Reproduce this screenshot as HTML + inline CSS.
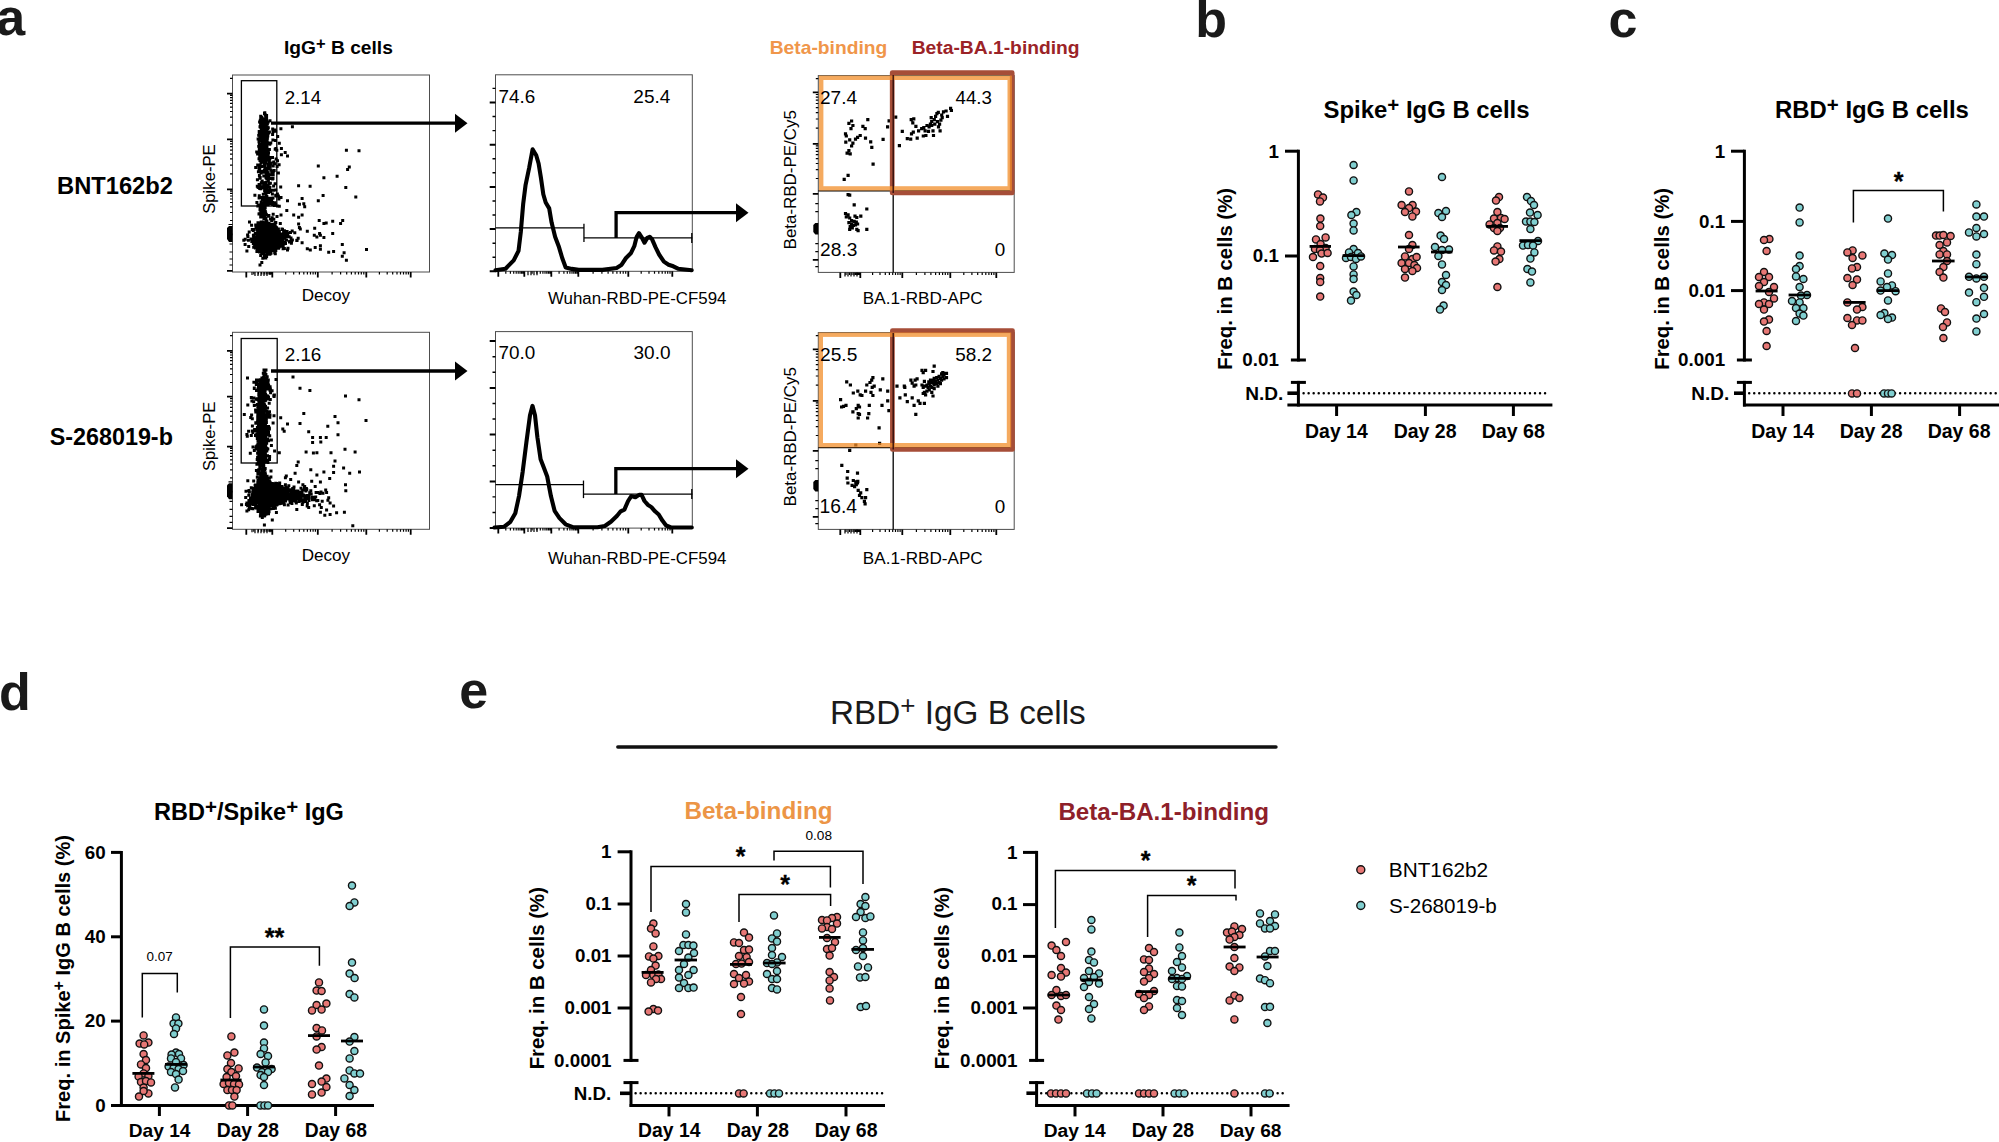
<!DOCTYPE html>
<html lang="en">
<head>
<meta charset="utf-8">
<title>Figure</title>
<style>
html,body{margin:0;padding:0;background:#fff;}
body{width:1999px;height:1142px;overflow:hidden;}
svg{display:block;font-family:"Liberation Sans", sans-serif;}
</style>
</head>
<body>
<svg width="1999" height="1142" viewBox="0 0 1999 1142">
<rect width="1999" height="1142" fill="#fff"/>
<text x="-3.69" y="35.3" font-size="52" font-weight="bold" fill="#1a1a1a">a</text>
<text x="284" y="54" font-size="19.2" font-weight="bold">IgG<tspan font-size="16.5" dy="-5.5">+</tspan><tspan dy="5.5"> B cells</tspan></text>
<text x="57.02" y="194.4" font-size="23.71" font-weight="bold">BNT162b2</text>
<text x="49.7" y="445" font-size="23.34" font-weight="bold">S-268019-b</text>
<text x="769.72" y="53.6" font-size="19.24" font-weight="bold" fill="#F0964A">Beta-binding</text>
<text x="911.72" y="53.6" font-size="19.26" font-weight="bold" fill="#9B2327">Beta-BA.1-binding</text>
<rect x="232.5" y="75" width="197.0" height="197" fill="none" stroke="#4d4d4d" stroke-width="1"/>
<path d="M232.5 234.0h-5.5M232.5 234.6h-5.5M232.5 189.0h-5.5M232.5 189.6h-5.5M232.5 139.0h-5.5M232.5 139.6h-5.5M232.5 93.3h-5.5M232.5 93.9h-5.5M232.5 220.5h-2.5M232.5 212.5h-2.5M232.5 206.9h-2.5M232.5 202.5h-2.5M232.5 199.0h-2.5M232.5 196.0h-2.5M232.5 193.4h-2.5M232.5 191.1h-2.5M232.5 173.9h-2.5M232.5 165.1h-2.5M232.5 158.9h-2.5M232.5 154.1h-2.5M232.5 150.1h-2.5M232.5 146.7h-2.5M232.5 143.8h-2.5M232.5 141.3h-2.5M232.5 125.2h-2.5M232.5 117.2h-2.5M232.5 111.5h-2.5M232.5 107.1h-2.5M232.5 103.4h-2.5M232.5 100.4h-2.5M232.5 97.7h-2.5M232.5 95.4h-2.5" stroke="#000" stroke-width="1.2" fill="none" />
<path d="M232.5 78.3h-2.5M232.5 270.5h-5.5M232.5 271.1h-5.5M232.5 252h-3M232.5 259h-3M232.5 265h-3" stroke="#000" stroke-width="1.2" fill="none" />
<path d="M246.0 272v5.5M246.6 272v5.5M272.0 272v5.5M272.6 272v5.5M317.5 272v5.5M318.1 272v5.5M366.0 272v5.5M366.6 272v5.5M410.4 272v5.5M411.0 272v5.5M253.8 272v2.5M258.4 272v2.5M261.7 272v2.5M264.2 272v2.5M266.2 272v2.5M268.0 272v2.5M269.5 272v2.5M270.8 272v2.5M285.7 272v2.5M293.7 272v2.5M299.4 272v2.5M303.8 272v2.5M307.4 272v2.5M310.5 272v2.5M313.1 272v2.5M315.4 272v2.5M332.1 272v2.5M340.6 272v2.5M346.7 272v2.5M351.4 272v2.5M355.2 272v2.5M358.5 272v2.5M361.3 272v2.5M363.8 272v2.5M379.4 272v2.5M387.2 272v2.5M392.7 272v2.5M397.0 272v2.5M400.5 272v2.5M403.5 272v2.5M406.1 272v2.5M408.4 272v2.5" stroke="#000" stroke-width="1.2" fill="none" />
<path d="M232.5 226h-3.5l-2 2v11l2 3h3.5z" fill="#000"/>
<path d="M228.5 224.5h4M229.5 244h3" stroke="#000" stroke-width="1.2" fill="none" />
<path d="M255 272v4M258 272v4M261 272v4M264 272v4M267 272v4M252 272v3M270 272v3" stroke="#000" stroke-width="1.2" fill="none" />
<path d="M264.0 226.5h3.0v3.0h-3.0zM263.5 227.0h3.0v3.0h-3.0zM269.7 240.2h3.0v3.0h-3.0zM267.8 237.3h3.0v3.0h-3.0zM261.6 244.3h3.0v3.0h-3.0zM270.4 234.2h3.0v3.0h-3.0zM262.9 233.8h3.0v3.0h-3.0zM267.4 237.5h3.0v3.0h-3.0zM267.5 245.2h3.0v3.0h-3.0zM258.9 228.2h3.0v3.0h-3.0zM258.7 229.1h3.0v3.0h-3.0zM274.5 238.1h3.0v3.0h-3.0zM264.1 236.0h3.0v3.0h-3.0zM269.6 248.8h3.0v3.0h-3.0zM274.2 229.8h3.0v3.0h-3.0zM276.8 240.8h3.0v3.0h-3.0zM267.7 244.4h3.0v3.0h-3.0zM264.4 226.2h3.0v3.0h-3.0zM260.4 249.6h3.0v3.0h-3.0zM276.9 240.1h3.0v3.0h-3.0zM260.9 228.2h3.0v3.0h-3.0zM262.8 232.1h3.0v3.0h-3.0zM267.2 237.8h3.0v3.0h-3.0zM257.2 238.6h3.0v3.0h-3.0zM268.6 238.3h3.0v3.0h-3.0zM260.4 234.0h3.0v3.0h-3.0zM267.1 237.8h3.0v3.0h-3.0zM272.3 233.2h3.0v3.0h-3.0zM269.9 242.1h3.0v3.0h-3.0zM264.3 216.9h3.0v3.0h-3.0zM265.7 221.9h3.0v3.0h-3.0zM267.4 250.9h3.0v3.0h-3.0zM259.0 235.1h3.0v3.0h-3.0zM261.4 231.2h3.0v3.0h-3.0zM264.3 256.4h3.0v3.0h-3.0zM271.7 230.4h3.0v3.0h-3.0zM273.3 242.2h3.0v3.0h-3.0zM274.6 246.6h3.0v3.0h-3.0zM260.8 241.1h3.0v3.0h-3.0zM267.9 245.1h3.0v3.0h-3.0zM272.5 232.5h3.0v3.0h-3.0zM259.4 222.1h3.0v3.0h-3.0zM264.2 226.1h3.0v3.0h-3.0zM256.6 247.0h3.0v3.0h-3.0zM263.6 247.7h3.0v3.0h-3.0zM257.3 235.5h3.0v3.0h-3.0zM266.7 245.4h3.0v3.0h-3.0zM255.7 247.0h3.0v3.0h-3.0zM252.2 241.2h3.0v3.0h-3.0zM264.7 220.5h3.0v3.0h-3.0zM266.6 230.3h3.0v3.0h-3.0zM257.9 228.4h3.0v3.0h-3.0zM271.5 243.5h3.0v3.0h-3.0zM276.4 241.9h3.0v3.0h-3.0zM255.9 235.4h3.0v3.0h-3.0zM262.4 233.5h3.0v3.0h-3.0zM258.3 234.4h3.0v3.0h-3.0zM253.9 237.1h3.0v3.0h-3.0zM263.1 236.6h3.0v3.0h-3.0zM265.4 234.0h3.0v3.0h-3.0zM256.7 229.8h3.0v3.0h-3.0zM263.2 233.7h3.0v3.0h-3.0zM264.6 219.6h3.0v3.0h-3.0zM261.3 230.9h3.0v3.0h-3.0zM269.2 240.4h3.0v3.0h-3.0zM266.5 223.0h3.0v3.0h-3.0zM269.9 230.2h3.0v3.0h-3.0zM256.3 242.2h3.0v3.0h-3.0zM269.6 236.6h3.0v3.0h-3.0zM265.6 252.4h3.0v3.0h-3.0zM268.3 226.2h3.0v3.0h-3.0zM270.1 242.2h3.0v3.0h-3.0zM263.4 231.2h3.0v3.0h-3.0zM253.9 238.3h3.0v3.0h-3.0zM268.3 240.1h3.0v3.0h-3.0zM269.0 217.4h3.0v3.0h-3.0zM263.0 245.5h3.0v3.0h-3.0zM269.1 239.1h3.0v3.0h-3.0zM262.6 227.1h3.0v3.0h-3.0zM255.7 240.9h3.0v3.0h-3.0zM266.2 231.1h3.0v3.0h-3.0zM268.2 242.8h3.0v3.0h-3.0zM269.2 232.2h3.0v3.0h-3.0zM258.0 226.5h3.0v3.0h-3.0zM252.3 233.8h3.0v3.0h-3.0zM258.4 235.2h3.0v3.0h-3.0zM257.0 238.2h3.0v3.0h-3.0zM263.6 241.0h3.0v3.0h-3.0zM269.3 240.1h3.0v3.0h-3.0zM260.3 237.4h3.0v3.0h-3.0zM267.7 239.8h3.0v3.0h-3.0zM265.2 239.3h3.0v3.0h-3.0zM251.9 233.8h3.0v3.0h-3.0zM259.4 245.2h3.0v3.0h-3.0zM264.9 241.3h3.0v3.0h-3.0zM270.9 233.1h3.0v3.0h-3.0zM261.5 221.0h3.0v3.0h-3.0zM267.4 233.4h3.0v3.0h-3.0zM259.7 240.8h3.0v3.0h-3.0zM260.5 246.0h3.0v3.0h-3.0zM270.1 239.4h3.0v3.0h-3.0zM261.5 234.9h3.0v3.0h-3.0zM261.9 228.3h3.0v3.0h-3.0zM260.4 227.7h3.0v3.0h-3.0zM277.7 245.5h3.0v3.0h-3.0zM267.6 231.5h3.0v3.0h-3.0zM265.1 222.8h3.0v3.0h-3.0zM271.8 229.4h3.0v3.0h-3.0zM273.6 224.0h3.0v3.0h-3.0zM266.7 238.4h3.0v3.0h-3.0zM267.0 233.1h3.0v3.0h-3.0zM274.1 246.7h3.0v3.0h-3.0zM270.9 236.0h3.0v3.0h-3.0zM266.0 230.5h3.0v3.0h-3.0zM266.1 239.3h3.0v3.0h-3.0zM257.8 230.0h3.0v3.0h-3.0zM258.0 224.2h3.0v3.0h-3.0zM267.5 221.7h3.0v3.0h-3.0zM260.1 241.4h3.0v3.0h-3.0zM260.7 239.7h3.0v3.0h-3.0zM275.7 230.2h3.0v3.0h-3.0zM259.7 237.4h3.0v3.0h-3.0zM265.0 235.0h3.0v3.0h-3.0zM265.5 248.0h3.0v3.0h-3.0zM262.7 235.6h3.0v3.0h-3.0zM264.9 226.9h3.0v3.0h-3.0zM264.7 246.3h3.0v3.0h-3.0zM264.0 232.3h3.0v3.0h-3.0zM273.2 251.2h3.0v3.0h-3.0zM264.5 254.7h3.0v3.0h-3.0zM256.9 237.0h3.0v3.0h-3.0zM261.9 227.9h3.0v3.0h-3.0zM263.1 248.8h3.0v3.0h-3.0zM269.0 240.1h3.0v3.0h-3.0zM265.2 232.0h3.0v3.0h-3.0zM270.8 236.3h3.0v3.0h-3.0zM272.1 227.4h3.0v3.0h-3.0zM259.1 228.6h3.0v3.0h-3.0zM257.7 238.5h3.0v3.0h-3.0zM252.1 235.9h3.0v3.0h-3.0zM266.6 222.1h3.0v3.0h-3.0zM254.0 231.7h3.0v3.0h-3.0zM269.3 225.7h3.0v3.0h-3.0zM269.2 244.0h3.0v3.0h-3.0zM259.2 236.9h3.0v3.0h-3.0zM260.0 232.3h3.0v3.0h-3.0zM259.6 230.1h3.0v3.0h-3.0zM262.4 247.9h3.0v3.0h-3.0zM251.2 238.0h3.0v3.0h-3.0zM267.5 227.6h3.0v3.0h-3.0zM268.4 239.0h3.0v3.0h-3.0zM259.2 253.9h3.0v3.0h-3.0zM246.1 233.4h3.0v3.0h-3.0zM263.0 225.5h3.0v3.0h-3.0zM262.5 233.4h3.0v3.0h-3.0zM270.8 233.9h3.0v3.0h-3.0zM267.7 225.3h3.0v3.0h-3.0zM256.2 233.5h3.0v3.0h-3.0zM270.3 233.8h3.0v3.0h-3.0zM274.9 233.7h3.0v3.0h-3.0zM265.8 236.9h3.0v3.0h-3.0zM252.1 237.6h3.0v3.0h-3.0zM281.6 247.3h3.0v3.0h-3.0zM281.7 243.9h3.0v3.0h-3.0zM275.5 214.9h3.0v3.0h-3.0zM261.3 233.6h3.0v3.0h-3.0zM271.4 227.4h3.0v3.0h-3.0zM264.7 230.1h3.0v3.0h-3.0zM267.4 239.5h3.0v3.0h-3.0zM257.1 242.5h3.0v3.0h-3.0zM252.8 238.1h3.0v3.0h-3.0zM280.1 243.1h3.0v3.0h-3.0zM262.6 236.1h3.0v3.0h-3.0zM271.6 240.3h3.0v3.0h-3.0zM271.0 234.7h3.0v3.0h-3.0zM259.0 226.8h3.0v3.0h-3.0zM266.9 238.6h3.0v3.0h-3.0zM261.3 250.7h3.0v3.0h-3.0zM257.7 238.8h3.0v3.0h-3.0zM264.8 233.4h3.0v3.0h-3.0zM259.5 227.3h3.0v3.0h-3.0zM263.5 230.7h3.0v3.0h-3.0zM265.6 243.5h3.0v3.0h-3.0zM253.6 240.5h3.0v3.0h-3.0zM270.7 238.3h3.0v3.0h-3.0zM267.2 229.2h3.0v3.0h-3.0zM260.5 223.7h3.0v3.0h-3.0zM265.9 229.4h3.0v3.0h-3.0zM268.7 234.1h3.0v3.0h-3.0zM260.1 241.5h3.0v3.0h-3.0zM265.4 230.1h3.0v3.0h-3.0zM267.2 238.9h3.0v3.0h-3.0zM264.5 239.7h3.0v3.0h-3.0zM274.3 228.2h3.0v3.0h-3.0zM247.2 244.9h3.0v3.0h-3.0zM266.7 228.8h3.0v3.0h-3.0zM265.2 231.9h3.0v3.0h-3.0zM262.3 252.0h3.0v3.0h-3.0zM261.8 242.2h3.0v3.0h-3.0zM270.4 239.9h3.0v3.0h-3.0zM260.7 221.5h3.0v3.0h-3.0zM273.1 242.4h3.0v3.0h-3.0zM263.6 236.0h3.0v3.0h-3.0zM260.9 226.3h3.0v3.0h-3.0zM264.6 227.9h3.0v3.0h-3.0zM264.3 232.3h3.0v3.0h-3.0zM264.5 238.0h3.0v3.0h-3.0zM268.2 234.4h3.0v3.0h-3.0zM262.5 246.8h3.0v3.0h-3.0zM251.8 242.1h3.0v3.0h-3.0zM271.5 225.3h3.0v3.0h-3.0zM262.6 226.4h3.0v3.0h-3.0zM254.8 231.7h3.0v3.0h-3.0zM267.0 225.8h3.0v3.0h-3.0zM270.1 224.8h3.0v3.0h-3.0zM256.6 223.3h3.0v3.0h-3.0zM259.7 234.5h3.0v3.0h-3.0zM246.4 235.0h3.0v3.0h-3.0zM257.3 241.1h3.0v3.0h-3.0zM269.3 239.4h3.0v3.0h-3.0zM261.4 228.0h3.0v3.0h-3.0zM255.7 239.8h3.0v3.0h-3.0zM265.8 240.4h3.0v3.0h-3.0zM261.1 249.1h3.0v3.0h-3.0zM265.9 235.4h3.0v3.0h-3.0zM268.6 232.5h3.0v3.0h-3.0zM262.9 230.2h3.0v3.0h-3.0zM259.0 242.7h3.0v3.0h-3.0zM272.2 245.3h3.0v3.0h-3.0zM264.6 242.4h3.0v3.0h-3.0zM258.6 228.8h3.0v3.0h-3.0zM263.2 235.7h3.0v3.0h-3.0zM263.2 228.7h3.0v3.0h-3.0zM257.5 233.9h3.0v3.0h-3.0zM261.5 242.3h3.0v3.0h-3.0zM267.6 252.6h3.0v3.0h-3.0zM261.7 231.9h3.0v3.0h-3.0zM262.4 251.3h3.0v3.0h-3.0zM260.5 237.8h3.0v3.0h-3.0zM256.4 232.8h3.0v3.0h-3.0zM257.3 237.5h3.0v3.0h-3.0zM256.0 238.4h3.0v3.0h-3.0zM274.3 249.1h3.0v3.0h-3.0zM276.4 233.7h3.0v3.0h-3.0zM272.7 235.2h3.0v3.0h-3.0zM262.3 239.0h3.0v3.0h-3.0zM265.7 229.3h3.0v3.0h-3.0zM259.4 242.0h3.0v3.0h-3.0zM263.1 245.2h3.0v3.0h-3.0zM286.5 246.7h3.0v3.0h-3.0zM271.7 238.0h3.0v3.0h-3.0zM269.3 229.2h3.0v3.0h-3.0zM263.1 243.2h3.0v3.0h-3.0zM257.2 235.5h3.0v3.0h-3.0zM261.0 224.4h3.0v3.0h-3.0zM263.9 233.2h3.0v3.0h-3.0zM264.5 239.1h3.0v3.0h-3.0zM254.8 242.0h3.0v3.0h-3.0zM271.1 241.0h3.0v3.0h-3.0zM258.7 243.8h3.0v3.0h-3.0zM256.1 228.1h3.0v3.0h-3.0zM270.7 230.9h3.0v3.0h-3.0zM257.0 237.2h3.0v3.0h-3.0zM266.8 214.7h3.0v3.0h-3.0zM266.7 232.8h3.0v3.0h-3.0zM266.7 242.5h3.0v3.0h-3.0zM250.3 240.0h3.0v3.0h-3.0zM272.8 243.9h3.0v3.0h-3.0zM261.1 229.2h3.0v3.0h-3.0zM271.5 244.4h3.0v3.0h-3.0zM261.8 223.7h3.0v3.0h-3.0zM278.6 242.7h3.0v3.0h-3.0zM272.0 237.5h3.0v3.0h-3.0zM267.5 230.6h3.0v3.0h-3.0zM263.0 232.3h3.0v3.0h-3.0zM272.8 247.9h3.0v3.0h-3.0zM274.1 226.8h3.0v3.0h-3.0zM270.9 222.8h3.0v3.0h-3.0zM257.6 239.4h3.0v3.0h-3.0zM270.4 237.0h3.0v3.0h-3.0zM273.4 240.4h3.0v3.0h-3.0zM277.0 237.4h3.0v3.0h-3.0zM259.3 234.8h3.0v3.0h-3.0zM255.9 247.6h3.0v3.0h-3.0zM267.2 243.7h3.0v3.0h-3.0zM266.1 236.9h3.0v3.0h-3.0zM272.0 242.6h3.0v3.0h-3.0zM260.6 229.8h3.0v3.0h-3.0zM271.5 248.0h3.0v3.0h-3.0zM256.8 233.6h3.0v3.0h-3.0zM258.4 237.9h3.0v3.0h-3.0zM250.1 223.8h3.0v3.0h-3.0zM270.7 238.7h3.0v3.0h-3.0zM259.6 220.4h3.0v3.0h-3.0zM261.6 227.9h3.0v3.0h-3.0zM264.1 235.2h3.0v3.0h-3.0zM255.7 247.0h3.0v3.0h-3.0zM257.2 236.5h3.0v3.0h-3.0zM269.1 240.1h3.0v3.0h-3.0zM271.1 236.2h3.0v3.0h-3.0zM267.3 240.4h3.0v3.0h-3.0zM264.7 236.6h3.0v3.0h-3.0zM260.4 248.0h3.0v3.0h-3.0zM265.8 223.5h3.0v3.0h-3.0zM264.0 226.0h3.0v3.0h-3.0zM267.4 234.3h3.0v3.0h-3.0zM267.8 243.4h3.0v3.0h-3.0zM264.2 235.1h3.0v3.0h-3.0zM257.7 239.6h3.0v3.0h-3.0zM276.7 235.1h3.0v3.0h-3.0zM262.4 217.6h3.0v3.0h-3.0zM272.9 231.0h3.0v3.0h-3.0zM274.8 228.4h3.0v3.0h-3.0zM262.9 231.5h3.0v3.0h-3.0zM262.2 241.8h3.0v3.0h-3.0zM282.6 242.3h3.0v3.0h-3.0zM256.2 244.4h3.0v3.0h-3.0zM261.9 252.3h3.0v3.0h-3.0zM269.9 232.2h3.0v3.0h-3.0zM267.6 237.5h3.0v3.0h-3.0zM270.9 238.1h3.0v3.0h-3.0zM258.4 224.1h3.0v3.0h-3.0zM259.8 244.9h3.0v3.0h-3.0zM259.3 247.1h3.0v3.0h-3.0zM268.3 233.7h3.0v3.0h-3.0zM260.6 235.4h3.0v3.0h-3.0zM261.4 235.9h3.0v3.0h-3.0zM267.3 242.4h3.0v3.0h-3.0zM262.5 239.8h3.0v3.0h-3.0zM268.3 242.9h3.0v3.0h-3.0zM266.5 252.2h3.0v3.0h-3.0zM251.4 238.3h3.0v3.0h-3.0zM265.6 248.7h3.0v3.0h-3.0zM255.3 245.7h3.0v3.0h-3.0zM253.4 245.5h3.0v3.0h-3.0zM259.5 235.4h3.0v3.0h-3.0zM274.1 227.4h3.0v3.0h-3.0zM261.3 231.8h3.0v3.0h-3.0zM263.1 222.4h3.0v3.0h-3.0zM263.6 230.7h3.0v3.0h-3.0zM272.7 246.8h3.0v3.0h-3.0zM255.4 238.8h3.0v3.0h-3.0zM263.3 237.3h3.0v3.0h-3.0zM265.0 228.4h3.0v3.0h-3.0zM268.3 233.4h3.0v3.0h-3.0zM267.1 230.6h3.0v3.0h-3.0zM268.6 235.5h3.0v3.0h-3.0zM268.8 229.6h3.0v3.0h-3.0zM263.2 238.5h3.0v3.0h-3.0zM277.1 246.8h3.0v3.0h-3.0zM266.4 229.9h3.0v3.0h-3.0zM252.3 235.9h3.0v3.0h-3.0zM266.6 237.3h3.0v3.0h-3.0zM267.6 243.4h3.0v3.0h-3.0zM270.4 237.8h3.0v3.0h-3.0zM272.3 233.5h3.0v3.0h-3.0zM265.7 236.0h3.0v3.0h-3.0zM261.2 230.7h3.0v3.0h-3.0zM266.7 243.4h3.0v3.0h-3.0zM268.1 235.1h3.0v3.0h-3.0zM267.8 238.4h3.0v3.0h-3.0zM268.1 239.0h3.0v3.0h-3.0zM257.9 228.3h3.0v3.0h-3.0zM260.5 238.2h3.0v3.0h-3.0zM265.2 233.4h3.0v3.0h-3.0zM270.6 239.2h3.0v3.0h-3.0zM243.7 237.8h3.0v3.0h-3.0zM268.4 244.7h3.0v3.0h-3.0zM267.0 247.5h3.0v3.0h-3.0zM268.1 237.9h3.0v3.0h-3.0zM259.6 247.7h3.0v3.0h-3.0zM268.2 239.9h3.0v3.0h-3.0zM271.7 233.4h3.0v3.0h-3.0zM270.6 232.9h3.0v3.0h-3.0zM269.5 231.6h3.0v3.0h-3.0zM268.9 231.7h3.0v3.0h-3.0zM269.7 245.2h3.0v3.0h-3.0zM261.6 232.2h3.0v3.0h-3.0zM271.8 235.5h3.0v3.0h-3.0zM267.2 239.7h3.0v3.0h-3.0zM262.3 228.4h3.0v3.0h-3.0zM268.6 234.4h3.0v3.0h-3.0zM257.0 236.8h3.0v3.0h-3.0zM266.3 228.8h3.0v3.0h-3.0zM265.9 235.3h3.0v3.0h-3.0zM255.5 233.6h3.0v3.0h-3.0zM270.2 219.0h3.0v3.0h-3.0zM267.9 229.1h3.0v3.0h-3.0zM256.9 241.2h3.0v3.0h-3.0zM267.4 228.9h3.0v3.0h-3.0zM268.9 231.2h3.0v3.0h-3.0zM270.0 242.6h3.0v3.0h-3.0zM264.2 224.6h3.0v3.0h-3.0zM270.9 241.2h3.0v3.0h-3.0zM262.5 225.7h3.0v3.0h-3.0zM272.5 233.6h3.0v3.0h-3.0zM258.8 250.3h3.0v3.0h-3.0zM264.8 233.9h3.0v3.0h-3.0zM269.2 244.7h3.0v3.0h-3.0zM271.4 234.2h3.0v3.0h-3.0zM262.2 231.5h3.0v3.0h-3.0zM272.7 233.9h3.0v3.0h-3.0zM272.0 223.4h3.0v3.0h-3.0zM259.9 243.6h3.0v3.0h-3.0zM267.9 243.5h3.0v3.0h-3.0zM263.7 233.9h3.0v3.0h-3.0zM262.8 234.2h3.0v3.0h-3.0zM252.2 245.7h3.0v3.0h-3.0zM281.4 233.0h3.0v3.0h-3.0zM271.5 226.8h3.0v3.0h-3.0zM258.5 224.2h3.0v3.0h-3.0zM264.4 217.2h3.0v3.0h-3.0zM257.6 245.8h3.0v3.0h-3.0zM255.0 236.3h3.0v3.0h-3.0zM271.9 243.5h3.0v3.0h-3.0zM264.0 239.2h3.0v3.0h-3.0zM253.6 232.6h3.0v3.0h-3.0zM269.4 240.5h3.0v3.0h-3.0zM266.0 250.2h3.0v3.0h-3.0zM264.2 238.4h3.0v3.0h-3.0zM270.6 228.7h3.0v3.0h-3.0zM269.4 229.5h3.0v3.0h-3.0zM256.5 241.3h3.0v3.0h-3.0zM274.2 225.5h3.0v3.0h-3.0zM267.4 227.8h3.0v3.0h-3.0zM249.6 237.6h3.0v3.0h-3.0zM272.7 226.6h3.0v3.0h-3.0zM258.6 230.9h3.0v3.0h-3.0zM262.2 238.9h3.0v3.0h-3.0zM265.6 238.1h3.0v3.0h-3.0zM264.5 227.4h3.0v3.0h-3.0zM268.3 249.8h3.0v3.0h-3.0zM257.5 226.2h3.0v3.0h-3.0zM266.7 226.9h3.0v3.0h-3.0zM268.6 237.8h3.0v3.0h-3.0zM268.4 248.1h3.0v3.0h-3.0zM263.4 235.7h3.0v3.0h-3.0zM271.2 243.4h3.0v3.0h-3.0zM261.5 245.5h3.0v3.0h-3.0zM268.6 252.0h3.0v3.0h-3.0zM242.3 238.8h3.0v3.0h-3.0zM258.2 242.6h3.0v3.0h-3.0zM267.9 228.8h3.0v3.0h-3.0zM258.5 240.0h3.0v3.0h-3.0zM286.2 231.8h3.0v3.0h-3.0zM255.6 242.9h3.0v3.0h-3.0zM265.6 237.2h3.0v3.0h-3.0zM257.2 236.5h3.0v3.0h-3.0zM262.7 241.9h3.0v3.0h-3.0zM263.0 246.2h3.0v3.0h-3.0zM255.2 239.8h3.0v3.0h-3.0zM278.8 222.1h3.0v3.0h-3.0zM260.1 244.2h3.0v3.0h-3.0zM278.9 236.3h3.0v3.0h-3.0zM258.3 233.7h3.0v3.0h-3.0zM264.8 241.4h3.0v3.0h-3.0zM260.0 229.3h3.0v3.0h-3.0zM263.1 241.5h3.0v3.0h-3.0zM258.3 236.1h3.0v3.0h-3.0zM263.0 224.7h3.0v3.0h-3.0zM262.8 239.1h3.0v3.0h-3.0zM274.9 228.2h3.0v3.0h-3.0zM275.8 231.8h3.0v3.0h-3.0zM259.5 236.5h3.0v3.0h-3.0zM272.3 217.7h3.0v3.0h-3.0zM264.9 243.2h3.0v3.0h-3.0zM269.7 242.2h3.0v3.0h-3.0zM273.7 221.2h3.0v3.0h-3.0zM260.2 230.5h3.0v3.0h-3.0zM270.3 232.0h3.0v3.0h-3.0zM257.1 226.1h3.0v3.0h-3.0zM253.1 242.8h3.0v3.0h-3.0zM258.5 232.1h3.0v3.0h-3.0zM257.8 247.2h3.0v3.0h-3.0zM258.5 230.3h3.0v3.0h-3.0zM274.3 220.9h3.0v3.0h-3.0zM261.9 241.3h3.0v3.0h-3.0zM267.2 229.4h3.0v3.0h-3.0zM275.0 235.8h3.0v3.0h-3.0zM262.9 253.9h3.0v3.0h-3.0zM269.5 251.7h3.0v3.0h-3.0zM247.7 230.6h3.0v3.0h-3.0zM255.8 245.1h3.0v3.0h-3.0zM255.8 228.1h3.0v3.0h-3.0zM279.0 234.2h3.0v3.0h-3.0zM258.5 231.6h3.0v3.0h-3.0zM268.8 236.7h3.0v3.0h-3.0zM273.7 225.4h3.0v3.0h-3.0zM270.2 233.9h3.0v3.0h-3.0zM266.0 249.7h3.0v3.0h-3.0zM267.3 224.4h3.0v3.0h-3.0zM260.9 238.9h3.0v3.0h-3.0zM271.3 239.4h3.0v3.0h-3.0zM258.5 235.6h3.0v3.0h-3.0zM265.8 235.1h3.0v3.0h-3.0zM260.5 246.8h3.0v3.0h-3.0zM263.9 247.1h3.0v3.0h-3.0zM259.5 240.2h3.0v3.0h-3.0zM264.2 246.7h3.0v3.0h-3.0zM271.4 233.3h3.0v3.0h-3.0zM264.5 230.2h3.0v3.0h-3.0zM251.7 228.9h3.0v3.0h-3.0zM258.4 234.7h3.0v3.0h-3.0zM277.9 232.8h3.0v3.0h-3.0zM256.1 226.8h3.0v3.0h-3.0zM259.4 235.9h3.0v3.0h-3.0zM261.0 239.7h3.0v3.0h-3.0zM259.3 244.9h3.0v3.0h-3.0zM268.0 248.3h3.0v3.0h-3.0zM264.5 241.2h3.0v3.0h-3.0zM266.9 248.9h3.0v3.0h-3.0zM276.7 227.7h3.0v3.0h-3.0zM266.1 231.3h3.0v3.0h-3.0zM258.1 232.8h3.0v3.0h-3.0zM262.0 238.0h3.0v3.0h-3.0zM263.2 228.9h3.0v3.0h-3.0zM269.4 231.5h3.0v3.0h-3.0zM266.9 224.4h3.0v3.0h-3.0zM252.5 227.9h3.0v3.0h-3.0zM259.9 238.3h3.0v3.0h-3.0zM268.5 231.7h3.0v3.0h-3.0zM270.4 225.9h3.0v3.0h-3.0zM259.3 246.5h3.0v3.0h-3.0zM252.1 241.3h3.0v3.0h-3.0zM275.9 243.0h3.0v3.0h-3.0zM263.7 221.4h3.0v3.0h-3.0zM262.3 226.7h3.0v3.0h-3.0zM259.9 229.8h3.0v3.0h-3.0zM264.1 236.2h3.0v3.0h-3.0zM268.1 238.9h3.0v3.0h-3.0zM269.8 234.1h3.0v3.0h-3.0zM252.6 239.4h3.0v3.0h-3.0zM259.3 239.1h3.0v3.0h-3.0zM261.6 228.2h3.0v3.0h-3.0zM255.4 250.0h3.0v3.0h-3.0zM266.5 236.7h3.0v3.0h-3.0zM270.4 224.4h3.0v3.0h-3.0zM266.1 241.6h3.0v3.0h-3.0zM257.7 226.6h3.0v3.0h-3.0zM262.2 238.0h3.0v3.0h-3.0zM258.7 240.3h3.0v3.0h-3.0zM276.0 244.6h3.0v3.0h-3.0zM254.2 223.6h3.0v3.0h-3.0zM274.4 232.3h3.0v3.0h-3.0zM256.5 242.7h3.0v3.0h-3.0zM262.9 233.9h3.0v3.0h-3.0zM265.9 245.5h3.0v3.0h-3.0zM267.7 231.8h3.0v3.0h-3.0zM257.4 241.4h3.0v3.0h-3.0zM261.6 237.0h3.0v3.0h-3.0zM262.2 237.3h3.0v3.0h-3.0zM260.7 243.8h3.0v3.0h-3.0zM265.6 231.7h3.0v3.0h-3.0zM260.1 230.4h3.0v3.0h-3.0zM265.1 223.0h3.0v3.0h-3.0zM270.2 239.8h3.0v3.0h-3.0zM257.9 241.6h3.0v3.0h-3.0zM273.7 233.3h3.0v3.0h-3.0zM270.7 230.3h3.0v3.0h-3.0zM260.9 234.6h3.0v3.0h-3.0zM265.2 247.1h3.0v3.0h-3.0zM265.5 246.7h3.0v3.0h-3.0zM261.9 231.0h3.0v3.0h-3.0zM254.6 236.0h3.0v3.0h-3.0zM264.8 242.3h3.0v3.0h-3.0zM256.7 234.8h3.0v3.0h-3.0zM267.6 228.2h3.0v3.0h-3.0zM265.1 248.2h3.0v3.0h-3.0zM264.1 238.1h3.0v3.0h-3.0zM266.4 241.5h3.0v3.0h-3.0zM265.4 219.5h3.0v3.0h-3.0zM264.3 241.5h3.0v3.0h-3.0zM261.3 232.9h3.0v3.0h-3.0zM267.1 227.7h3.0v3.0h-3.0zM263.1 224.1h3.0v3.0h-3.0zM262.2 232.6h3.0v3.0h-3.0zM268.4 231.5h3.0v3.0h-3.0zM267.7 230.1h3.0v3.0h-3.0zM266.3 228.3h3.0v3.0h-3.0zM267.4 229.7h3.0v3.0h-3.0zM261.6 243.5h3.0v3.0h-3.0zM267.1 237.0h3.0v3.0h-3.0zM262.9 230.8h3.0v3.0h-3.0zM261.3 229.4h3.0v3.0h-3.0zM250.8 228.0h3.0v3.0h-3.0zM258.9 228.3h3.0v3.0h-3.0zM260.4 236.4h3.0v3.0h-3.0zM260.0 234.6h3.0v3.0h-3.0zM261.2 226.5h3.0v3.0h-3.0zM273.0 240.4h3.0v3.0h-3.0zM265.1 237.6h3.0v3.0h-3.0zM269.3 234.0h3.0v3.0h-3.0zM276.4 245.8h3.0v3.0h-3.0zM255.7 225.6h3.0v3.0h-3.0zM260.2 251.3h3.0v3.0h-3.0zM266.1 251.8h3.0v3.0h-3.0zM261.5 230.4h3.0v3.0h-3.0zM257.4 240.7h3.0v3.0h-3.0zM269.1 234.7h3.0v3.0h-3.0zM274.9 244.9h3.0v3.0h-3.0zM258.7 228.6h3.0v3.0h-3.0zM261.1 224.8h3.0v3.0h-3.0zM262.2 237.4h3.0v3.0h-3.0zM263.3 233.4h3.0v3.0h-3.0zM256.8 230.7h3.0v3.0h-3.0zM252.7 245.8h3.0v3.0h-3.0zM285.1 238.6h3.0v3.0h-3.0zM277.5 232.1h3.0v3.0h-3.0zM261.3 232.6h3.0v3.0h-3.0zM272.8 230.4h3.0v3.0h-3.0zM269.5 233.8h3.0v3.0h-3.0zM257.4 238.3h3.0v3.0h-3.0zM261.0 221.8h3.0v3.0h-3.0zM271.2 235.9h3.0v3.0h-3.0zM262.4 231.0h3.0v3.0h-3.0zM271.7 228.3h3.0v3.0h-3.0zM271.3 237.2h3.0v3.0h-3.0zM267.2 234.1h3.0v3.0h-3.0zM261.3 256.8h3.0v3.0h-3.0zM258.1 250.6h3.0v3.0h-3.0zM263.5 245.6h3.0v3.0h-3.0zM255.7 232.0h3.0v3.0h-3.0zM261.2 239.5h3.0v3.0h-3.0zM270.9 238.4h3.0v3.0h-3.0zM263.2 221.5h3.0v3.0h-3.0zM259.6 236.7h3.0v3.0h-3.0zM272.3 227.3h3.0v3.0h-3.0zM266.4 249.4h3.0v3.0h-3.0zM256.9 240.5h3.0v3.0h-3.0zM263.0 237.5h3.0v3.0h-3.0zM258.0 230.1h3.0v3.0h-3.0zM258.3 235.2h3.0v3.0h-3.0zM266.7 238.0h3.0v3.0h-3.0zM263.8 222.4h3.0v3.0h-3.0zM268.3 248.1h3.0v3.0h-3.0zM260.9 240.1h3.0v3.0h-3.0zM260.8 243.2h3.0v3.0h-3.0zM260.8 224.4h3.0v3.0h-3.0zM266.2 235.6h3.0v3.0h-3.0zM275.5 244.1h3.0v3.0h-3.0zM260.8 223.3h3.0v3.0h-3.0zM263.6 239.2h3.0v3.0h-3.0zM259.5 229.2h3.0v3.0h-3.0zM262.0 240.9h3.0v3.0h-3.0zM268.1 227.2h3.0v3.0h-3.0zM268.4 252.8h3.0v3.0h-3.0zM273.8 252.3h3.0v3.0h-3.0zM260.8 240.4h3.0v3.0h-3.0zM265.6 241.3h3.0v3.0h-3.0zM261.2 221.4h3.0v3.0h-3.0zM263.4 216.9h3.0v3.0h-3.0zM262.4 239.3h3.0v3.0h-3.0zM264.1 238.5h3.0v3.0h-3.0zM261.5 226.5h3.0v3.0h-3.0zM254.9 237.1h3.0v3.0h-3.0zM268.0 241.4h3.0v3.0h-3.0zM271.2 249.1h3.0v3.0h-3.0zM271.9 231.3h3.0v3.0h-3.0zM259.2 215.5h3.0v3.0h-3.0zM258.3 239.1h3.0v3.0h-3.0zM263.7 237.5h3.0v3.0h-3.0zM261.8 236.1h3.0v3.0h-3.0zM276.3 242.5h3.0v3.0h-3.0zM264.6 237.1h3.0v3.0h-3.0zM260.3 227.3h3.0v3.0h-3.0zM267.7 235.6h3.0v3.0h-3.0zM256.6 231.1h3.0v3.0h-3.0zM269.2 226.0h3.0v3.0h-3.0zM265.2 227.7h3.0v3.0h-3.0zM280.5 227.5h3.0v3.0h-3.0zM264.5 230.2h3.0v3.0h-3.0zM267.3 233.1h3.0v3.0h-3.0zM258.2 235.4h3.0v3.0h-3.0zM282.9 247.1h3.0v3.0h-3.0zM257.1 243.4h3.0v3.0h-3.0zM273.3 244.8h3.0v3.0h-3.0zM269.1 245.8h3.0v3.0h-3.0zM260.2 231.3h3.0v3.0h-3.0zM253.6 237.2h3.0v3.0h-3.0zM266.7 237.7h3.0v3.0h-3.0zM258.0 238.2h3.0v3.0h-3.0zM257.7 238.2h3.0v3.0h-3.0zM262.3 227.9h3.0v3.0h-3.0zM259.5 245.2h3.0v3.0h-3.0zM272.3 232.5h3.0v3.0h-3.0zM270.2 233.4h3.0v3.0h-3.0zM270.9 223.8h3.0v3.0h-3.0zM265.0 234.0h3.0v3.0h-3.0zM263.1 224.2h3.0v3.0h-3.0zM261.1 231.6h3.0v3.0h-3.0zM271.6 242.1h3.0v3.0h-3.0zM253.7 239.2h3.0v3.0h-3.0zM259.5 246.9h3.0v3.0h-3.0zM274.5 233.0h3.0v3.0h-3.0zM272.1 241.2h3.0v3.0h-3.0zM261.8 247.6h3.0v3.0h-3.0zM268.8 233.6h3.0v3.0h-3.0zM266.2 226.2h3.0v3.0h-3.0zM263.5 228.9h3.0v3.0h-3.0zM264.5 235.3h3.0v3.0h-3.0zM257.4 230.8h3.0v3.0h-3.0zM259.3 224.9h3.0v3.0h-3.0zM271.4 240.8h3.0v3.0h-3.0zM260.1 243.1h3.0v3.0h-3.0zM259.3 242.0h3.0v3.0h-3.0zM256.5 221.3h3.0v3.0h-3.0zM266.2 233.1h3.0v3.0h-3.0zM262.5 234.2h3.0v3.0h-3.0zM261.3 227.5h3.0v3.0h-3.0zM266.4 236.4h3.0v3.0h-3.0zM272.5 236.8h3.0v3.0h-3.0zM246.9 238.8h3.0v3.0h-3.0zM260.4 233.1h3.0v3.0h-3.0zM270.7 216.3h3.0v3.0h-3.0zM263.1 241.4h3.0v3.0h-3.0zM275.1 226.2h3.0v3.0h-3.0zM277.2 241.5h3.0v3.0h-3.0zM260.7 244.6h3.0v3.0h-3.0zM258.3 249.1h3.0v3.0h-3.0zM266.2 248.8h3.0v3.0h-3.0zM267.5 243.5h3.0v3.0h-3.0zM262.0 238.5h3.0v3.0h-3.0zM260.6 248.7h3.0v3.0h-3.0zM264.2 224.5h3.0v3.0h-3.0zM261.4 226.5h3.0v3.0h-3.0zM263.7 234.7h3.0v3.0h-3.0zM265.1 238.3h3.0v3.0h-3.0zM262.9 232.6h3.0v3.0h-3.0zM255.9 241.9h3.0v3.0h-3.0zM275.2 227.1h3.0v3.0h-3.0zM272.6 241.7h3.0v3.0h-3.0zM269.0 222.8h3.0v3.0h-3.0zM260.5 224.2h3.0v3.0h-3.0zM263.6 229.7h3.0v3.0h-3.0zM264.6 230.6h3.0v3.0h-3.0zM263.8 227.6h3.0v3.0h-3.0zM263.7 228.9h3.0v3.0h-3.0zM265.2 250.4h3.0v3.0h-3.0zM260.5 224.7h3.0v3.0h-3.0zM264.0 248.8h3.0v3.0h-3.0zM259.2 233.1h3.0v3.0h-3.0zM261.1 214.5h3.0v3.0h-3.0zM258.4 234.9h3.0v3.0h-3.0zM263.4 232.1h3.0v3.0h-3.0zM264.2 236.2h3.0v3.0h-3.0zM276.2 234.9h3.0v3.0h-3.0zM258.9 225.7h3.0v3.0h-3.0zM256.4 236.1h3.0v3.0h-3.0zM254.5 226.4h3.0v3.0h-3.0zM256.9 237.7h3.0v3.0h-3.0zM260.6 242.5h3.0v3.0h-3.0zM269.3 227.1h3.0v3.0h-3.0zM260.7 224.3h3.0v3.0h-3.0zM259.9 230.7h3.0v3.0h-3.0zM254.8 238.5h3.0v3.0h-3.0zM253.4 238.8h3.0v3.0h-3.0zM262.9 236.6h3.0v3.0h-3.0zM268.8 224.9h3.0v3.0h-3.0zM272.5 230.1h3.0v3.0h-3.0zM266.2 244.7h3.0v3.0h-3.0zM268.8 242.0h3.0v3.0h-3.0zM264.2 238.9h3.0v3.0h-3.0zM257.7 235.9h3.0v3.0h-3.0zM261.1 235.7h3.0v3.0h-3.0zM258.9 239.9h3.0v3.0h-3.0zM257.5 234.1h3.0v3.0h-3.0zM278.4 238.2h3.0v3.0h-3.0zM253.8 241.6h3.0v3.0h-3.0zM263.0 231.7h3.0v3.0h-3.0zM284.0 242.0h3.0v3.0h-3.0zM264.2 228.4h3.0v3.0h-3.0zM261.5 246.8h3.0v3.0h-3.0zM265.8 246.3h3.0v3.0h-3.0zM267.8 252.7h3.0v3.0h-3.0zM260.6 235.9h3.0v3.0h-3.0zM265.9 250.6h3.0v3.0h-3.0zM270.3 233.2h3.0v3.0h-3.0zM265.1 254.9h3.0v3.0h-3.0zM263.1 237.7h3.0v3.0h-3.0zM267.0 239.2h3.0v3.0h-3.0zM257.7 234.0h3.0v3.0h-3.0zM271.9 233.9h3.0v3.0h-3.0zM264.9 241.1h3.0v3.0h-3.0zM276.7 232.4h3.0v3.0h-3.0zM254.5 246.5h3.0v3.0h-3.0zM253.9 246.6h3.0v3.0h-3.0zM256.1 229.7h3.0v3.0h-3.0zM264.9 229.5h3.0v3.0h-3.0zM263.4 226.7h3.0v3.0h-3.0zM253.0 240.5h3.0v3.0h-3.0zM273.2 237.3h3.0v3.0h-3.0zM261.4 239.2h3.0v3.0h-3.0zM267.8 241.5h3.0v3.0h-3.0zM268.0 225.9h3.0v3.0h-3.0zM260.2 220.7h3.0v3.0h-3.0zM289.0 231.1h3.0v3.0h-3.0zM281.3 238.3h3.0v3.0h-3.0zM285.7 235.1h3.0v3.0h-3.0zM282.8 235.9h3.0v3.0h-3.0zM282.2 231.2h3.0v3.0h-3.0zM279.2 236.2h3.0v3.0h-3.0zM277.3 236.3h3.0v3.0h-3.0zM280.7 240.8h3.0v3.0h-3.0zM278.5 234.3h3.0v3.0h-3.0zM293.3 231.3h3.0v3.0h-3.0zM288.3 240.1h3.0v3.0h-3.0zM284.8 232.3h3.0v3.0h-3.0zM280.1 241.9h3.0v3.0h-3.0zM285.6 231.5h3.0v3.0h-3.0zM277.8 242.3h3.0v3.0h-3.0zM282.9 235.0h3.0v3.0h-3.0zM285.9 232.7h3.0v3.0h-3.0zM281.6 236.8h3.0v3.0h-3.0zM279.1 233.1h3.0v3.0h-3.0zM288.0 240.6h3.0v3.0h-3.0zM286.0 248.6h3.0v3.0h-3.0zM279.4 235.4h3.0v3.0h-3.0zM280.1 233.1h3.0v3.0h-3.0zM281.0 228.1h3.0v3.0h-3.0zM276.2 234.5h3.0v3.0h-3.0zM289.8 238.5h3.0v3.0h-3.0zM279.4 239.3h3.0v3.0h-3.0zM280.7 237.0h3.0v3.0h-3.0zM295.6 238.7h3.0v3.0h-3.0zM278.7 240.3h3.0v3.0h-3.0zM278.4 233.2h3.0v3.0h-3.0zM283.2 230.6h3.0v3.0h-3.0zM278.2 235.7h3.0v3.0h-3.0zM283.2 234.2h3.0v3.0h-3.0zM278.7 232.5h3.0v3.0h-3.0zM277.1 232.9h3.0v3.0h-3.0zM296.7 236.8h3.0v3.0h-3.0zM276.4 240.9h3.0v3.0h-3.0zM286.3 232.2h3.0v3.0h-3.0zM280.7 237.8h3.0v3.0h-3.0zM276.6 241.0h3.0v3.0h-3.0zM282.9 229.2h3.0v3.0h-3.0zM287.7 235.3h3.0v3.0h-3.0zM281.4 232.4h3.0v3.0h-3.0zM277.9 230.0h3.0v3.0h-3.0zM284.6 238.7h3.0v3.0h-3.0zM283.3 241.0h3.0v3.0h-3.0zM277.8 236.8h3.0v3.0h-3.0zM283.6 235.8h3.0v3.0h-3.0zM278.2 239.2h3.0v3.0h-3.0zM290.7 229.5h3.0v3.0h-3.0zM280.0 242.4h3.0v3.0h-3.0zM289.5 236.4h3.0v3.0h-3.0zM281.4 234.7h3.0v3.0h-3.0zM280.7 244.7h3.0v3.0h-3.0zM289.9 241.7h3.0v3.0h-3.0zM281.0 237.1h3.0v3.0h-3.0zM290.9 238.5h3.0v3.0h-3.0zM285.6 230.0h3.0v3.0h-3.0zM276.9 227.4h3.0v3.0h-3.0zM290.0 239.7h3.0v3.0h-3.0zM278.9 239.0h3.0v3.0h-3.0zM277.9 236.7h3.0v3.0h-3.0zM281.6 232.5h3.0v3.0h-3.0zM278.1 237.3h3.0v3.0h-3.0zM282.1 230.1h3.0v3.0h-3.0zM277.9 235.6h3.0v3.0h-3.0zM281.0 239.4h3.0v3.0h-3.0zM277.4 238.9h3.0v3.0h-3.0zM279.5 244.0h3.0v3.0h-3.0zM263.6 124.3h3.0v3.0h-3.0zM264.8 133.1h3.0v3.0h-3.0zM260.2 123.6h3.0v3.0h-3.0zM261.3 133.6h3.0v3.0h-3.0zM265.5 137.2h3.0v3.0h-3.0zM263.1 125.4h3.0v3.0h-3.0zM267.0 131.4h3.0v3.0h-3.0zM262.7 142.0h3.0v3.0h-3.0zM257.2 133.8h3.0v3.0h-3.0zM261.1 122.8h3.0v3.0h-3.0zM261.8 133.4h3.0v3.0h-3.0zM260.0 147.0h3.0v3.0h-3.0zM264.5 155.5h3.0v3.0h-3.0zM262.8 129.6h3.0v3.0h-3.0zM263.2 148.8h3.0v3.0h-3.0zM258.3 156.2h3.0v3.0h-3.0zM259.2 125.1h3.0v3.0h-3.0zM265.5 149.5h3.0v3.0h-3.0zM265.7 122.0h3.0v3.0h-3.0zM261.8 153.7h3.0v3.0h-3.0zM257.9 132.5h3.0v3.0h-3.0zM258.2 155.0h3.0v3.0h-3.0zM269.3 141.5h3.0v3.0h-3.0zM256.1 152.6h3.0v3.0h-3.0zM263.7 144.8h3.0v3.0h-3.0zM262.1 134.3h3.0v3.0h-3.0zM265.2 141.0h3.0v3.0h-3.0zM264.9 119.9h3.0v3.0h-3.0zM262.0 143.7h3.0v3.0h-3.0zM264.5 142.8h3.0v3.0h-3.0zM258.5 125.3h3.0v3.0h-3.0zM264.1 158.8h3.0v3.0h-3.0zM260.2 128.3h3.0v3.0h-3.0zM264.8 125.3h3.0v3.0h-3.0zM263.4 153.0h3.0v3.0h-3.0zM265.1 131.5h3.0v3.0h-3.0zM262.5 117.3h3.0v3.0h-3.0zM262.4 131.1h3.0v3.0h-3.0zM265.4 128.9h3.0v3.0h-3.0zM262.2 120.0h3.0v3.0h-3.0zM262.7 147.4h3.0v3.0h-3.0zM265.3 147.7h3.0v3.0h-3.0zM264.9 153.3h3.0v3.0h-3.0zM261.5 130.6h3.0v3.0h-3.0zM261.0 134.0h3.0v3.0h-3.0zM265.9 136.7h3.0v3.0h-3.0zM264.9 146.1h3.0v3.0h-3.0zM266.3 157.9h3.0v3.0h-3.0zM261.5 125.8h3.0v3.0h-3.0zM261.6 118.8h3.0v3.0h-3.0zM263.9 134.7h3.0v3.0h-3.0zM265.9 141.3h3.0v3.0h-3.0zM263.2 145.6h3.0v3.0h-3.0zM262.2 121.4h3.0v3.0h-3.0zM258.8 118.8h3.0v3.0h-3.0zM263.6 146.0h3.0v3.0h-3.0zM263.8 140.3h3.0v3.0h-3.0zM260.8 122.0h3.0v3.0h-3.0zM264.1 144.3h3.0v3.0h-3.0zM262.6 118.5h3.0v3.0h-3.0zM264.7 124.1h3.0v3.0h-3.0zM263.4 122.7h3.0v3.0h-3.0zM263.4 142.6h3.0v3.0h-3.0zM260.7 122.3h3.0v3.0h-3.0zM261.7 145.5h3.0v3.0h-3.0zM257.5 140.6h3.0v3.0h-3.0zM264.7 141.7h3.0v3.0h-3.0zM259.2 158.3h3.0v3.0h-3.0zM262.8 129.3h3.0v3.0h-3.0zM259.1 137.0h3.0v3.0h-3.0zM260.9 117.7h3.0v3.0h-3.0zM262.7 142.6h3.0v3.0h-3.0zM261.6 138.7h3.0v3.0h-3.0zM262.3 122.8h3.0v3.0h-3.0zM259.3 142.8h3.0v3.0h-3.0zM255.2 150.6h3.0v3.0h-3.0zM259.9 129.5h3.0v3.0h-3.0zM263.2 151.1h3.0v3.0h-3.0zM264.7 133.9h3.0v3.0h-3.0zM261.1 134.0h3.0v3.0h-3.0zM256.6 137.4h3.0v3.0h-3.0zM268.5 119.2h3.0v3.0h-3.0zM265.4 134.1h3.0v3.0h-3.0zM263.9 123.6h3.0v3.0h-3.0zM259.9 123.6h3.0v3.0h-3.0zM264.0 149.4h3.0v3.0h-3.0zM261.8 136.0h3.0v3.0h-3.0zM264.8 154.6h3.0v3.0h-3.0zM266.8 126.2h3.0v3.0h-3.0zM262.7 137.6h3.0v3.0h-3.0zM265.2 122.8h3.0v3.0h-3.0zM266.4 148.8h3.0v3.0h-3.0zM261.8 120.0h3.0v3.0h-3.0zM261.0 136.0h3.0v3.0h-3.0zM267.8 142.7h3.0v3.0h-3.0zM264.0 131.4h3.0v3.0h-3.0zM262.6 123.3h3.0v3.0h-3.0zM261.5 118.8h3.0v3.0h-3.0zM257.2 144.7h3.0v3.0h-3.0zM263.4 150.5h3.0v3.0h-3.0zM265.1 126.0h3.0v3.0h-3.0zM263.3 137.1h3.0v3.0h-3.0zM263.7 129.9h3.0v3.0h-3.0zM261.5 144.3h3.0v3.0h-3.0zM266.7 120.4h3.0v3.0h-3.0zM259.6 143.3h3.0v3.0h-3.0zM261.6 130.7h3.0v3.0h-3.0zM256.8 150.7h3.0v3.0h-3.0zM261.3 119.0h3.0v3.0h-3.0zM262.3 140.2h3.0v3.0h-3.0zM263.7 157.2h3.0v3.0h-3.0zM261.0 140.5h3.0v3.0h-3.0zM264.2 130.6h3.0v3.0h-3.0zM266.1 149.2h3.0v3.0h-3.0zM259.4 131.4h3.0v3.0h-3.0zM264.3 147.9h3.0v3.0h-3.0zM263.1 136.8h3.0v3.0h-3.0zM263.0 124.4h3.0v3.0h-3.0zM258.6 152.0h3.0v3.0h-3.0zM262.5 132.6h3.0v3.0h-3.0zM265.1 132.8h3.0v3.0h-3.0zM268.3 142.7h3.0v3.0h-3.0zM261.6 122.7h3.0v3.0h-3.0zM259.2 143.1h3.0v3.0h-3.0zM258.3 149.6h3.0v3.0h-3.0zM258.8 158.0h3.0v3.0h-3.0zM261.1 134.4h3.0v3.0h-3.0zM260.6 134.5h3.0v3.0h-3.0zM261.1 132.7h3.0v3.0h-3.0zM260.7 132.1h3.0v3.0h-3.0zM263.6 152.9h3.0v3.0h-3.0zM258.6 152.7h3.0v3.0h-3.0zM261.3 133.5h3.0v3.0h-3.0zM261.1 130.5h3.0v3.0h-3.0zM263.7 121.5h3.0v3.0h-3.0zM257.7 130.0h3.0v3.0h-3.0zM263.3 133.2h3.0v3.0h-3.0zM263.3 144.1h3.0v3.0h-3.0zM264.2 154.8h3.0v3.0h-3.0zM263.4 149.2h3.0v3.0h-3.0zM263.8 126.8h3.0v3.0h-3.0zM260.9 137.2h3.0v3.0h-3.0zM261.8 125.8h3.0v3.0h-3.0zM264.6 129.0h3.0v3.0h-3.0zM265.9 147.9h3.0v3.0h-3.0zM263.1 151.0h3.0v3.0h-3.0zM262.8 131.0h3.0v3.0h-3.0zM263.3 120.5h3.0v3.0h-3.0zM262.0 150.6h3.0v3.0h-3.0zM262.1 136.3h3.0v3.0h-3.0zM262.1 142.4h3.0v3.0h-3.0zM262.9 135.0h3.0v3.0h-3.0zM264.4 132.1h3.0v3.0h-3.0zM261.9 156.1h3.0v3.0h-3.0zM261.1 153.8h3.0v3.0h-3.0zM261.8 151.2h3.0v3.0h-3.0zM261.5 121.1h3.0v3.0h-3.0zM262.1 121.2h3.0v3.0h-3.0zM266.3 134.5h3.0v3.0h-3.0zM268.6 141.6h3.0v3.0h-3.0zM266.7 155.0h3.0v3.0h-3.0zM261.3 144.4h3.0v3.0h-3.0zM263.0 137.2h3.0v3.0h-3.0zM259.4 123.9h3.0v3.0h-3.0zM259.9 139.6h3.0v3.0h-3.0zM264.0 147.3h3.0v3.0h-3.0zM258.4 146.2h3.0v3.0h-3.0zM260.4 152.0h3.0v3.0h-3.0zM262.8 121.2h3.0v3.0h-3.0zM262.9 124.0h3.0v3.0h-3.0zM261.3 157.6h3.0v3.0h-3.0zM264.7 136.8h3.0v3.0h-3.0zM261.6 141.0h3.0v3.0h-3.0zM266.1 131.2h3.0v3.0h-3.0zM262.4 152.8h3.0v3.0h-3.0zM262.3 140.3h3.0v3.0h-3.0zM262.9 121.2h3.0v3.0h-3.0zM261.8 128.5h3.0v3.0h-3.0zM259.2 149.6h3.0v3.0h-3.0zM260.6 134.6h3.0v3.0h-3.0zM263.1 139.2h3.0v3.0h-3.0zM264.7 128.1h3.0v3.0h-3.0zM263.4 145.7h3.0v3.0h-3.0zM263.1 125.6h3.0v3.0h-3.0zM262.2 139.7h3.0v3.0h-3.0zM262.3 158.8h3.0v3.0h-3.0zM261.3 152.4h3.0v3.0h-3.0zM263.4 152.0h3.0v3.0h-3.0zM264.4 158.3h3.0v3.0h-3.0zM266.3 151.7h3.0v3.0h-3.0zM262.7 156.7h3.0v3.0h-3.0zM263.4 124.2h3.0v3.0h-3.0zM266.1 127.0h3.0v3.0h-3.0zM259.4 137.2h3.0v3.0h-3.0zM261.5 122.6h3.0v3.0h-3.0zM263.8 144.5h3.0v3.0h-3.0zM262.8 147.5h3.0v3.0h-3.0zM259.9 136.5h3.0v3.0h-3.0zM260.6 136.9h3.0v3.0h-3.0zM264.4 146.1h3.0v3.0h-3.0zM260.9 147.2h3.0v3.0h-3.0zM264.7 123.4h3.0v3.0h-3.0zM261.0 119.2h3.0v3.0h-3.0zM263.6 118.6h3.0v3.0h-3.0zM258.1 120.6h3.0v3.0h-3.0zM265.2 152.5h3.0v3.0h-3.0zM261.6 118.6h3.0v3.0h-3.0zM264.3 130.4h3.0v3.0h-3.0zM259.1 123.0h3.0v3.0h-3.0zM260.1 133.3h3.0v3.0h-3.0zM262.7 124.7h3.0v3.0h-3.0zM262.7 149.5h3.0v3.0h-3.0zM261.8 127.0h3.0v3.0h-3.0zM258.9 120.8h3.0v3.0h-3.0zM261.0 125.2h3.0v3.0h-3.0zM266.4 148.3h3.0v3.0h-3.0zM260.4 130.0h3.0v3.0h-3.0zM263.0 137.1h3.0v3.0h-3.0zM262.0 150.6h3.0v3.0h-3.0zM267.3 156.0h3.0v3.0h-3.0zM267.9 142.5h3.0v3.0h-3.0zM261.1 124.5h3.0v3.0h-3.0zM263.9 159.0h3.0v3.0h-3.0zM265.9 122.4h3.0v3.0h-3.0zM258.5 130.0h3.0v3.0h-3.0zM264.1 145.9h3.0v3.0h-3.0zM265.7 125.9h3.0v3.0h-3.0zM259.6 138.7h3.0v3.0h-3.0zM262.0 119.4h3.0v3.0h-3.0zM264.2 134.9h3.0v3.0h-3.0zM258.2 156.9h3.0v3.0h-3.0zM260.3 120.3h3.0v3.0h-3.0zM262.2 127.6h3.0v3.0h-3.0zM260.5 126.8h3.0v3.0h-3.0zM264.3 119.9h3.0v3.0h-3.0zM263.2 140.2h3.0v3.0h-3.0zM260.7 134.1h3.0v3.0h-3.0zM261.7 118.0h3.0v3.0h-3.0zM260.9 145.6h3.0v3.0h-3.0zM264.6 133.2h3.0v3.0h-3.0zM264.1 128.6h3.0v3.0h-3.0zM263.0 129.8h3.0v3.0h-3.0zM264.7 122.1h3.0v3.0h-3.0zM262.8 118.1h3.0v3.0h-3.0zM260.5 154.2h3.0v3.0h-3.0zM264.4 139.4h3.0v3.0h-3.0zM265.1 118.3h3.0v3.0h-3.0zM264.9 140.7h3.0v3.0h-3.0zM260.2 138.0h3.0v3.0h-3.0zM265.6 138.4h3.0v3.0h-3.0zM265.2 150.6h3.0v3.0h-3.0zM257.8 147.8h3.0v3.0h-3.0zM259.4 145.6h3.0v3.0h-3.0zM263.1 141.6h3.0v3.0h-3.0zM264.3 139.4h3.0v3.0h-3.0zM258.8 119.5h3.0v3.0h-3.0zM259.8 148.9h3.0v3.0h-3.0zM260.0 155.5h3.0v3.0h-3.0zM260.5 119.4h3.0v3.0h-3.0zM262.8 157.1h3.0v3.0h-3.0zM261.3 124.2h3.0v3.0h-3.0zM261.8 149.0h3.0v3.0h-3.0zM262.2 137.8h3.0v3.0h-3.0zM260.1 154.4h3.0v3.0h-3.0zM262.9 117.6h3.0v3.0h-3.0zM266.7 154.2h3.0v3.0h-3.0zM262.2 150.0h3.0v3.0h-3.0zM263.4 147.1h3.0v3.0h-3.0zM267.9 148.0h3.0v3.0h-3.0zM264.4 139.5h3.0v3.0h-3.0zM260.6 118.7h3.0v3.0h-3.0zM262.6 121.7h3.0v3.0h-3.0zM263.6 154.5h3.0v3.0h-3.0zM261.9 136.0h3.0v3.0h-3.0zM261.9 128.8h3.0v3.0h-3.0zM261.4 131.3h3.0v3.0h-3.0zM260.0 134.5h3.0v3.0h-3.0zM262.8 142.3h3.0v3.0h-3.0zM267.8 156.8h3.0v3.0h-3.0zM260.0 152.1h3.0v3.0h-3.0zM262.5 126.9h3.0v3.0h-3.0zM265.1 144.3h3.0v3.0h-3.0zM258.0 142.8h3.0v3.0h-3.0zM267.9 130.4h3.0v3.0h-3.0zM263.5 118.1h3.0v3.0h-3.0zM263.3 148.0h3.0v3.0h-3.0zM264.2 152.6h3.0v3.0h-3.0zM262.8 127.5h3.0v3.0h-3.0zM264.0 150.3h3.0v3.0h-3.0zM261.4 121.6h3.0v3.0h-3.0zM266.7 157.9h3.0v3.0h-3.0zM261.7 137.1h3.0v3.0h-3.0zM262.7 148.7h3.0v3.0h-3.0zM259.8 128.7h3.0v3.0h-3.0zM261.3 139.4h3.0v3.0h-3.0zM260.5 144.2h3.0v3.0h-3.0zM263.8 123.5h3.0v3.0h-3.0zM262.1 126.8h3.0v3.0h-3.0zM268.3 157.6h3.0v3.0h-3.0zM260.5 152.6h3.0v3.0h-3.0zM263.9 152.9h3.0v3.0h-3.0zM260.1 120.4h3.0v3.0h-3.0zM264.9 148.0h3.0v3.0h-3.0zM259.2 119.1h3.0v3.0h-3.0zM262.1 119.9h3.0v3.0h-3.0zM259.3 154.8h3.0v3.0h-3.0zM258.5 158.9h3.0v3.0h-3.0zM263.6 145.2h3.0v3.0h-3.0zM260.0 146.4h3.0v3.0h-3.0zM264.5 120.1h3.0v3.0h-3.0zM261.6 155.1h3.0v3.0h-3.0zM258.3 136.7h3.0v3.0h-3.0zM259.4 125.9h3.0v3.0h-3.0zM263.5 140.3h3.0v3.0h-3.0zM264.4 121.8h3.0v3.0h-3.0zM262.4 127.6h3.0v3.0h-3.0zM262.8 126.8h3.0v3.0h-3.0zM264.9 146.5h3.0v3.0h-3.0zM262.1 155.7h3.0v3.0h-3.0zM261.9 153.7h3.0v3.0h-3.0zM262.0 142.9h3.0v3.0h-3.0zM259.3 132.2h3.0v3.0h-3.0zM265.3 131.5h3.0v3.0h-3.0zM263.6 119.6h3.0v3.0h-3.0zM265.5 145.9h3.0v3.0h-3.0zM260.5 142.8h3.0v3.0h-3.0zM267.0 151.2h3.0v3.0h-3.0zM261.1 158.9h3.0v3.0h-3.0zM265.6 136.6h3.0v3.0h-3.0zM262.7 144.1h3.0v3.0h-3.0zM262.2 118.0h3.0v3.0h-3.0zM263.3 111.2h3.0v3.0h-3.0zM259.3 117.7h3.0v3.0h-3.0zM260.2 115.8h3.0v3.0h-3.0zM264.7 117.9h3.0v3.0h-3.0zM259.2 114.8h3.0v3.0h-3.0zM263.5 118.2h3.0v3.0h-3.0zM263.9 113.7h3.0v3.0h-3.0zM265.1 113.9h3.0v3.0h-3.0zM263.7 113.3h3.0v3.0h-3.0zM265.1 116.6h3.0v3.0h-3.0zM264.5 114.3h3.0v3.0h-3.0zM263.0 112.1h3.0v3.0h-3.0zM262.5 117.5h3.0v3.0h-3.0zM266.9 172.5h3.0v3.0h-3.0zM263.7 181.8h3.0v3.0h-3.0zM267.7 166.9h3.0v3.0h-3.0zM264.4 199.7h3.0v3.0h-3.0zM259.0 170.1h3.0v3.0h-3.0zM264.5 168.9h3.0v3.0h-3.0zM267.7 182.0h3.0v3.0h-3.0zM265.7 169.8h3.0v3.0h-3.0zM264.9 195.8h3.0v3.0h-3.0zM257.7 185.0h3.0v3.0h-3.0zM264.1 198.3h3.0v3.0h-3.0zM262.7 162.2h3.0v3.0h-3.0zM270.9 192.5h3.0v3.0h-3.0zM253.4 193.8h3.0v3.0h-3.0zM258.8 163.6h3.0v3.0h-3.0zM261.7 185.5h3.0v3.0h-3.0zM269.1 162.4h3.0v3.0h-3.0zM263.1 169.0h3.0v3.0h-3.0zM262.9 203.9h3.0v3.0h-3.0zM265.2 188.6h3.0v3.0h-3.0zM264.8 168.5h3.0v3.0h-3.0zM267.6 185.6h3.0v3.0h-3.0zM259.5 171.5h3.0v3.0h-3.0zM256.3 204.4h3.0v3.0h-3.0zM267.0 199.4h3.0v3.0h-3.0zM262.6 196.2h3.0v3.0h-3.0zM262.7 160.2h3.0v3.0h-3.0zM263.3 160.7h3.0v3.0h-3.0zM268.8 202.3h3.0v3.0h-3.0zM268.9 181.7h3.0v3.0h-3.0zM264.5 155.9h3.0v3.0h-3.0zM262.7 199.3h3.0v3.0h-3.0zM259.6 196.0h3.0v3.0h-3.0zM264.2 157.2h3.0v3.0h-3.0zM269.1 190.1h3.0v3.0h-3.0zM265.4 201.2h3.0v3.0h-3.0zM269.1 189.1h3.0v3.0h-3.0zM268.6 190.2h3.0v3.0h-3.0zM264.9 172.0h3.0v3.0h-3.0zM258.7 176.1h3.0v3.0h-3.0zM263.6 181.6h3.0v3.0h-3.0zM267.5 199.4h3.0v3.0h-3.0zM264.7 173.0h3.0v3.0h-3.0zM260.1 165.1h3.0v3.0h-3.0zM271.0 155.9h3.0v3.0h-3.0zM262.5 204.0h3.0v3.0h-3.0zM266.4 184.7h3.0v3.0h-3.0zM265.1 158.2h3.0v3.0h-3.0zM256.6 185.8h3.0v3.0h-3.0zM256.9 170.3h3.0v3.0h-3.0zM264.6 167.3h3.0v3.0h-3.0zM266.5 157.2h3.0v3.0h-3.0zM260.6 180.0h3.0v3.0h-3.0zM266.1 202.5h3.0v3.0h-3.0zM266.5 171.2h3.0v3.0h-3.0zM259.5 160.9h3.0v3.0h-3.0zM257.5 157.3h3.0v3.0h-3.0zM258.7 158.3h3.0v3.0h-3.0zM264.8 190.2h3.0v3.0h-3.0zM270.5 196.7h3.0v3.0h-3.0zM264.2 191.5h3.0v3.0h-3.0zM266.6 203.2h3.0v3.0h-3.0zM268.8 200.7h3.0v3.0h-3.0zM261.7 158.3h3.0v3.0h-3.0zM265.5 173.9h3.0v3.0h-3.0zM263.3 170.3h3.0v3.0h-3.0zM267.0 157.9h3.0v3.0h-3.0zM261.4 159.8h3.0v3.0h-3.0zM265.4 173.3h3.0v3.0h-3.0zM268.4 186.0h3.0v3.0h-3.0zM268.4 188.1h3.0v3.0h-3.0zM267.1 158.6h3.0v3.0h-3.0zM265.3 177.5h3.0v3.0h-3.0zM261.1 196.1h3.0v3.0h-3.0zM258.3 167.8h3.0v3.0h-3.0zM268.8 156.0h3.0v3.0h-3.0zM257.6 183.0h3.0v3.0h-3.0zM262.6 202.3h3.0v3.0h-3.0zM264.6 189.9h3.0v3.0h-3.0zM266.9 179.4h3.0v3.0h-3.0zM262.4 169.6h3.0v3.0h-3.0zM263.5 189.8h3.0v3.0h-3.0zM266.2 176.2h3.0v3.0h-3.0zM264.8 201.7h3.0v3.0h-3.0zM267.2 197.5h3.0v3.0h-3.0zM261.3 204.1h3.0v3.0h-3.0zM262.6 164.2h3.0v3.0h-3.0zM254.2 166.0h3.0v3.0h-3.0zM265.4 156.0h3.0v3.0h-3.0zM265.4 195.2h3.0v3.0h-3.0zM262.1 185.5h3.0v3.0h-3.0zM264.4 187.3h3.0v3.0h-3.0zM267.9 162.5h3.0v3.0h-3.0zM268.3 187.4h3.0v3.0h-3.0zM265.2 195.1h3.0v3.0h-3.0zM262.1 170.7h3.0v3.0h-3.0zM263.1 162.9h3.0v3.0h-3.0zM264.2 198.4h3.0v3.0h-3.0zM265.9 189.2h3.0v3.0h-3.0zM259.6 200.5h3.0v3.0h-3.0zM267.8 196.8h3.0v3.0h-3.0zM257.4 166.4h3.0v3.0h-3.0zM270.8 172.7h3.0v3.0h-3.0zM266.6 179.0h3.0v3.0h-3.0zM263.0 204.2h3.0v3.0h-3.0zM268.5 198.3h3.0v3.0h-3.0zM264.5 203.3h3.0v3.0h-3.0zM255.4 201.1h3.0v3.0h-3.0zM263.0 169.1h3.0v3.0h-3.0zM263.1 189.0h3.0v3.0h-3.0zM261.8 202.5h3.0v3.0h-3.0zM264.0 183.7h3.0v3.0h-3.0zM262.5 159.0h3.0v3.0h-3.0zM264.5 176.3h3.0v3.0h-3.0zM263.6 195.9h3.0v3.0h-3.0zM255.9 178.2h3.0v3.0h-3.0zM271.1 177.4h3.0v3.0h-3.0zM266.6 183.8h3.0v3.0h-3.0zM267.0 175.8h3.0v3.0h-3.0zM267.8 158.9h3.0v3.0h-3.0zM268.0 161.7h3.0v3.0h-3.0zM266.2 162.5h3.0v3.0h-3.0zM257.6 196.4h3.0v3.0h-3.0zM258.8 183.0h3.0v3.0h-3.0zM262.8 163.6h3.0v3.0h-3.0zM272.1 184.5h3.0v3.0h-3.0zM263.2 187.5h3.0v3.0h-3.0zM263.2 165.6h3.0v3.0h-3.0zM269.8 177.0h3.0v3.0h-3.0zM255.8 184.8h3.0v3.0h-3.0zM269.3 168.5h3.0v3.0h-3.0zM265.7 175.9h3.0v3.0h-3.0zM264.9 201.5h3.0v3.0h-3.0zM266.9 156.6h3.0v3.0h-3.0zM267.1 157.2h3.0v3.0h-3.0zM256.2 163.4h3.0v3.0h-3.0zM261.3 156.6h3.0v3.0h-3.0zM262.7 185.9h3.0v3.0h-3.0zM264.1 200.5h3.0v3.0h-3.0zM260.7 185.6h3.0v3.0h-3.0zM264.3 170.0h3.0v3.0h-3.0zM260.9 198.4h3.0v3.0h-3.0zM267.1 189.1h3.0v3.0h-3.0zM261.7 202.6h3.0v3.0h-3.0zM263.9 184.4h3.0v3.0h-3.0zM270.2 171.0h3.0v3.0h-3.0zM269.7 161.4h3.0v3.0h-3.0zM265.6 167.7h3.0v3.0h-3.0zM264.5 160.7h3.0v3.0h-3.0zM261.8 192.8h3.0v3.0h-3.0zM257.8 169.2h3.0v3.0h-3.0zM271.5 196.4h3.0v3.0h-3.0zM269.8 196.7h3.0v3.0h-3.0zM263.4 201.7h3.0v3.0h-3.0zM260.9 186.3h3.0v3.0h-3.0zM262.3 174.4h3.0v3.0h-3.0zM264.2 183.8h3.0v3.0h-3.0zM270.2 198.2h3.0v3.0h-3.0zM264.3 191.1h3.0v3.0h-3.0zM265.1 173.8h3.0v3.0h-3.0zM267.1 177.1h3.0v3.0h-3.0zM259.8 181.2h3.0v3.0h-3.0zM258.1 185.5h3.0v3.0h-3.0zM262.1 183.2h3.0v3.0h-3.0zM264.3 182.9h3.0v3.0h-3.0zM266.3 177.4h3.0v3.0h-3.0zM267.4 199.3h3.0v3.0h-3.0zM263.0 184.0h3.0v3.0h-3.0zM261.6 181.2h3.0v3.0h-3.0zM264.9 194.5h3.0v3.0h-3.0zM264.6 160.0h3.0v3.0h-3.0zM267.5 165.8h3.0v3.0h-3.0zM268.6 165.3h3.0v3.0h-3.0zM266.6 164.2h3.0v3.0h-3.0zM259.4 187.3h3.0v3.0h-3.0zM260.7 179.4h3.0v3.0h-3.0zM262.8 185.8h3.0v3.0h-3.0zM268.6 189.6h3.0v3.0h-3.0zM263.5 166.4h3.0v3.0h-3.0zM258.6 203.6h3.0v3.0h-3.0zM257.3 186.0h3.0v3.0h-3.0zM262.0 170.0h3.0v3.0h-3.0zM257.9 174.1h3.0v3.0h-3.0zM267.0 191.1h3.0v3.0h-3.0zM275.6 164.9h3.0v3.0h-3.0zM260.7 180.1h3.0v3.0h-3.0zM261.1 204.6h3.0v3.0h-3.0zM261.3 160.1h3.0v3.0h-3.0zM258.5 156.7h3.0v3.0h-3.0zM260.5 186.0h3.0v3.0h-3.0zM257.8 194.2h3.0v3.0h-3.0zM266.8 185.4h3.0v3.0h-3.0zM258.2 186.9h3.0v3.0h-3.0zM262.3 183.3h3.0v3.0h-3.0zM261.2 160.3h3.0v3.0h-3.0zM258.3 176.8h3.0v3.0h-3.0zM261.6 203.4h3.0v3.0h-3.0zM264.4 180.9h3.0v3.0h-3.0zM268.6 173.4h3.0v3.0h-3.0zM271.7 164.5h3.0v3.0h-3.0zM273.6 182.2h3.0v3.0h-3.0zM276.0 204.6h3.0v3.0h-3.0zM271.1 133.0h3.0v3.0h-3.0zM271.2 203.1h3.0v3.0h-3.0zM277.4 197.6h3.0v3.0h-3.0zM273.0 162.3h3.0v3.0h-3.0zM274.0 138.9h3.0v3.0h-3.0zM274.9 194.6h3.0v3.0h-3.0zM276.2 135.0h3.0v3.0h-3.0zM272.1 169.6h3.0v3.0h-3.0zM274.3 188.5h3.0v3.0h-3.0zM273.3 201.3h3.0v3.0h-3.0zM271.6 173.2h3.0v3.0h-3.0zM276.9 194.4h3.0v3.0h-3.0zM274.2 129.7h3.0v3.0h-3.0zM275.3 148.7h3.0v3.0h-3.0zM271.4 138.6h3.0v3.0h-3.0zM276.0 159.3h3.0v3.0h-3.0zM271.7 173.4h3.0v3.0h-3.0zM277.6 163.3h3.0v3.0h-3.0zM272.0 188.7h3.0v3.0h-3.0zM274.2 203.0h3.0v3.0h-3.0zM272.7 169.1h3.0v3.0h-3.0zM274.0 182.2h3.0v3.0h-3.0zM272.3 160.5h3.0v3.0h-3.0zM274.2 193.8h3.0v3.0h-3.0zM274.4 146.9h3.0v3.0h-3.0zM274.6 157.6h3.0v3.0h-3.0zM276.9 171.6h3.0v3.0h-3.0zM271.7 170.2h3.0v3.0h-3.0zM270.9 200.9h3.0v3.0h-3.0zM272.9 203.9h3.0v3.0h-3.0zM279.4 127.3h3.0v3.0h-3.0zM273.7 147.8h3.0v3.0h-3.0zM273.4 128.4h3.0v3.0h-3.0zM275.9 192.5h3.0v3.0h-3.0zM271.2 127.6h3.0v3.0h-3.0zM271.5 130.3h3.0v3.0h-3.0zM283.7 150.9h3.0v3.0h-3.0zM271.5 177.1h3.0v3.0h-3.0zM263.1 215.1h3.0v3.0h-3.0zM257.8 212.2h3.0v3.0h-3.0zM261.0 209.9h3.0v3.0h-3.0zM263.5 205.3h3.0v3.0h-3.0zM263.7 206.4h3.0v3.0h-3.0zM259.3 210.0h3.0v3.0h-3.0zM261.6 211.2h3.0v3.0h-3.0zM258.7 205.1h3.0v3.0h-3.0zM260.9 210.2h3.0v3.0h-3.0zM262.6 212.4h3.0v3.0h-3.0zM261.4 211.2h3.0v3.0h-3.0zM265.0 213.2h3.0v3.0h-3.0zM263.3 216.2h3.0v3.0h-3.0zM260.7 209.6h3.0v3.0h-3.0zM259.1 205.0h3.0v3.0h-3.0zM260.7 211.9h3.0v3.0h-3.0zM261.4 205.0h3.0v3.0h-3.0zM261.3 210.6h3.0v3.0h-3.0zM261.5 213.4h3.0v3.0h-3.0zM262.9 209.4h3.0v3.0h-3.0zM263.3 216.2h3.0v3.0h-3.0zM264.2 211.6h3.0v3.0h-3.0zM257.5 212.6h3.0v3.0h-3.0zM262.0 214.2h3.0v3.0h-3.0zM261.3 213.5h3.0v3.0h-3.0zM258.7 205.2h3.0v3.0h-3.0zM263.1 206.2h3.0v3.0h-3.0zM263.2 210.9h3.0v3.0h-3.0zM259.4 209.3h3.0v3.0h-3.0zM267.4 214.0h3.0v3.0h-3.0zM263.7 213.4h3.0v3.0h-3.0zM259.8 210.0h3.0v3.0h-3.0zM259.6 212.0h3.0v3.0h-3.0zM261.7 215.3h3.0v3.0h-3.0zM259.9 210.4h3.0v3.0h-3.0zM258.5 208.3h3.0v3.0h-3.0zM257.1 204.1h3.0v3.0h-3.0zM263.8 209.9h3.0v3.0h-3.0zM259.2 212.9h3.0v3.0h-3.0zM260.7 207.1h3.0v3.0h-3.0zM290.9 125.2h3.0v3.0h-3.0zM277.8 141.8h3.0v3.0h-3.0zM279.9 147.1h3.0v3.0h-3.0zM279.9 153.2h3.0v3.0h-3.0zM286.0 154.6h3.0v3.0h-3.0zM344.9 148.8h3.0v3.0h-3.0zM357.5 149.3h3.0v3.0h-3.0zM316.8 164.6h3.0v3.0h-3.0zM347.8 165.4h3.0v3.0h-3.0zM346.1 168.1h3.0v3.0h-3.0zM322.4 176.3h3.0v3.0h-3.0zM335.6 174.7h3.0v3.0h-3.0zM297.1 184.2h3.0v3.0h-3.0zM308.6 184.7h3.0v3.0h-3.0zM344.3 186.1h3.0v3.0h-3.0zM321.6 194.0h3.0v3.0h-3.0zM354.3 195.6h3.0v3.0h-3.0zM316.8 199.2h3.0v3.0h-3.0zM279.2 185.6h3.0v3.0h-3.0zM279.5 196.1h3.0v3.0h-3.0zM286.0 199.2h3.0v3.0h-3.0zM300.6 197.0h3.0v3.0h-3.0zM297.9 202.7h3.0v3.0h-3.0zM302.3 202.2h3.0v3.0h-3.0zM303.2 205.2h3.0v3.0h-3.0zM285.3 208.9h3.0v3.0h-3.0zM277.8 204.8h3.0v3.0h-3.0zM292.2 213.6h3.0v3.0h-3.0zM300.6 213.6h3.0v3.0h-3.0zM297.1 215.7h3.0v3.0h-3.0zM279.5 213.6h3.0v3.0h-3.0zM271.7 212.7h3.0v3.0h-3.0zM317.7 218.9h3.0v3.0h-3.0zM322.4 222.0h3.0v3.0h-3.0zM324.7 221.5h3.0v3.0h-3.0zM331.2 219.7h3.0v3.0h-3.0zM339.1 222.0h3.0v3.0h-3.0zM341.2 218.9h3.0v3.0h-3.0zM297.1 222.4h3.0v3.0h-3.0zM297.9 225.9h3.0v3.0h-3.0zM298.8 227.6h3.0v3.0h-3.0zM313.2 226.7h3.0v3.0h-3.0zM305.8 229.7h3.0v3.0h-3.0zM318.1 232.0h3.0v3.0h-3.0zM318.9 233.7h3.0v3.0h-3.0zM331.2 232.0h3.0v3.0h-3.0zM312.8 233.7h3.0v3.0h-3.0zM315.4 235.5h3.0v3.0h-3.0zM322.4 236.0h3.0v3.0h-3.0zM295.3 239.0h3.0v3.0h-3.0zM300.6 241.3h3.0v3.0h-3.0zM340.8 243.0h3.0v3.0h-3.0zM318.9 244.3h3.0v3.0h-3.0zM313.7 246.0h3.0v3.0h-3.0zM305.8 247.2h3.0v3.0h-3.0zM308.8 248.6h3.0v3.0h-3.0zM318.9 247.8h3.0v3.0h-3.0zM327.2 250.7h3.0v3.0h-3.0zM332.1 250.0h3.0v3.0h-3.0zM342.6 251.3h3.0v3.0h-3.0zM365.0 248.1h3.0v3.0h-3.0zM340.8 254.8h3.0v3.0h-3.0zM344.9 258.8h3.0v3.0h-3.0zM258.5 263.5h3.0v3.0h-3.0zM260.3 260.9h3.0v3.0h-3.0zM248.0 220.6h3.0v3.0h-3.0zM243.6 243.0h3.0v3.0h-3.0zM245.4 249.5h3.0v3.0h-3.0z" fill="#000"/>
<rect x="241.4" y="80.7" width="35.400000000000006" height="125.3" fill="none" stroke="#000" stroke-width="1.3"/>
<line x1="271" y1="123.2" x2="457" y2="123.2" stroke="#000" stroke-width="3.3" />
<path d="M455 113.7L467.5 123.2L455 132.7z" fill="#000"/>
<text x="284.66" y="103.6" font-size="18.75">2.14</text>
<text x="301.68" y="300.8" font-size="17.08">Decoy</text>
<text x="214.6" y="213.78" font-size="16.68" transform="rotate(-90 214.6 213.78)">Spike-PE</text>
<rect x="232.5" y="332.3" width="197.0" height="196.99999999999994" fill="none" stroke="#4d4d4d" stroke-width="1"/>
<path d="M232.5 491.3h-5.5M232.5 491.9h-5.5M232.5 446.3h-5.5M232.5 446.9h-5.5M232.5 396.3h-5.5M232.5 396.9h-5.5M232.5 350.6h-5.5M232.5 351.2h-5.5M232.5 477.8h-2.5M232.5 469.8h-2.5M232.5 464.2h-2.5M232.5 459.8h-2.5M232.5 456.3h-2.5M232.5 453.3h-2.5M232.5 450.7h-2.5M232.5 448.4h-2.5M232.5 431.2h-2.5M232.5 422.4h-2.5M232.5 416.2h-2.5M232.5 411.4h-2.5M232.5 407.4h-2.5M232.5 404.0h-2.5M232.5 401.1h-2.5M232.5 398.6h-2.5M232.5 382.5h-2.5M232.5 374.5h-2.5M232.5 368.8h-2.5M232.5 364.4h-2.5M232.5 360.7h-2.5M232.5 357.7h-2.5M232.5 355.0h-2.5M232.5 352.7h-2.5" stroke="#000" stroke-width="1.2" fill="none" />
<path d="M232.5 335.6h-2.5M232.5 527.8h-5.5M232.5 528.4h-5.5M232.5 509.3h-3M232.5 516.3h-3M232.5 522.3h-3" stroke="#000" stroke-width="1.2" fill="none" />
<path d="M246.0 529.3v5.5M246.6 529.3v5.5M272.0 529.3v5.5M272.6 529.3v5.5M317.5 529.3v5.5M318.1 529.3v5.5M366.0 529.3v5.5M366.6 529.3v5.5M410.4 529.3v5.5M411.0 529.3v5.5M253.8 529.3v2.5M258.4 529.3v2.5M261.7 529.3v2.5M264.2 529.3v2.5M266.2 529.3v2.5M268.0 529.3v2.5M269.5 529.3v2.5M270.8 529.3v2.5M285.7 529.3v2.5M293.7 529.3v2.5M299.4 529.3v2.5M303.8 529.3v2.5M307.4 529.3v2.5M310.5 529.3v2.5M313.1 529.3v2.5M315.4 529.3v2.5M332.1 529.3v2.5M340.6 529.3v2.5M346.7 529.3v2.5M351.4 529.3v2.5M355.2 529.3v2.5M358.5 529.3v2.5M361.3 529.3v2.5M363.8 529.3v2.5M379.4 529.3v2.5M387.2 529.3v2.5M392.7 529.3v2.5M397.0 529.3v2.5M400.5 529.3v2.5M403.5 529.3v2.5M406.1 529.3v2.5M408.4 529.3v2.5" stroke="#000" stroke-width="1.2" fill="none" />
<path d="M232.5 483.3h-3.5l-2 2v11l2 3h3.5z" fill="#000"/>
<path d="M228.5 481.8h4M229.5 501.3h3" stroke="#000" stroke-width="1.2" fill="none" />
<path d="M255 529.3v4M258 529.3v4M261 529.3v4M264 529.3v4M267 529.3v4M252 529.3v3M270 529.3v3" stroke="#000" stroke-width="1.2" fill="none" />
<path d="M262.0 481.5h3.0v3.0h-3.0zM263.4 494.4h3.0v3.0h-3.0zM259.0 508.8h3.0v3.0h-3.0zM260.0 483.1h3.0v3.0h-3.0zM277.2 489.7h3.0v3.0h-3.0zM259.0 495.1h3.0v3.0h-3.0zM265.4 489.2h3.0v3.0h-3.0zM261.4 496.6h3.0v3.0h-3.0zM261.0 490.0h3.0v3.0h-3.0zM260.1 497.6h3.0v3.0h-3.0zM265.3 498.5h3.0v3.0h-3.0zM275.0 500.4h3.0v3.0h-3.0zM256.8 507.3h3.0v3.0h-3.0zM255.6 498.8h3.0v3.0h-3.0zM247.9 490.4h3.0v3.0h-3.0zM260.2 489.6h3.0v3.0h-3.0zM265.9 482.0h3.0v3.0h-3.0zM260.7 478.4h3.0v3.0h-3.0zM262.5 509.1h3.0v3.0h-3.0zM260.8 487.8h3.0v3.0h-3.0zM268.7 482.6h3.0v3.0h-3.0zM262.1 492.0h3.0v3.0h-3.0zM270.2 487.0h3.0v3.0h-3.0zM259.8 495.1h3.0v3.0h-3.0zM244.9 503.0h3.0v3.0h-3.0zM258.3 500.8h3.0v3.0h-3.0zM263.2 475.1h3.0v3.0h-3.0zM262.3 494.0h3.0v3.0h-3.0zM263.3 505.0h3.0v3.0h-3.0zM265.4 503.6h3.0v3.0h-3.0zM271.8 507.0h3.0v3.0h-3.0zM260.4 484.2h3.0v3.0h-3.0zM274.2 492.1h3.0v3.0h-3.0zM265.6 497.3h3.0v3.0h-3.0zM273.1 490.1h3.0v3.0h-3.0zM254.8 489.3h3.0v3.0h-3.0zM264.8 500.0h3.0v3.0h-3.0zM270.9 500.3h3.0v3.0h-3.0zM251.8 502.9h3.0v3.0h-3.0zM269.3 489.3h3.0v3.0h-3.0zM251.8 490.3h3.0v3.0h-3.0zM260.3 484.1h3.0v3.0h-3.0zM257.1 492.7h3.0v3.0h-3.0zM262.9 476.0h3.0v3.0h-3.0zM258.4 476.5h3.0v3.0h-3.0zM272.6 500.1h3.0v3.0h-3.0zM256.7 488.5h3.0v3.0h-3.0zM260.1 480.9h3.0v3.0h-3.0zM264.0 502.3h3.0v3.0h-3.0zM264.3 499.8h3.0v3.0h-3.0zM252.7 494.4h3.0v3.0h-3.0zM262.2 492.3h3.0v3.0h-3.0zM262.2 488.7h3.0v3.0h-3.0zM265.0 490.3h3.0v3.0h-3.0zM261.7 493.3h3.0v3.0h-3.0zM262.5 488.3h3.0v3.0h-3.0zM268.6 480.7h3.0v3.0h-3.0zM263.7 496.2h3.0v3.0h-3.0zM275.0 488.4h3.0v3.0h-3.0zM263.6 479.8h3.0v3.0h-3.0zM266.0 482.7h3.0v3.0h-3.0zM263.4 491.8h3.0v3.0h-3.0zM263.8 485.7h3.0v3.0h-3.0zM257.6 498.2h3.0v3.0h-3.0zM256.5 496.0h3.0v3.0h-3.0zM258.5 486.9h3.0v3.0h-3.0zM264.5 499.6h3.0v3.0h-3.0zM256.3 481.2h3.0v3.0h-3.0zM258.8 484.4h3.0v3.0h-3.0zM261.4 489.2h3.0v3.0h-3.0zM258.2 495.5h3.0v3.0h-3.0zM260.8 516.0h3.0v3.0h-3.0zM275.8 493.3h3.0v3.0h-3.0zM263.5 493.0h3.0v3.0h-3.0zM274.2 481.8h3.0v3.0h-3.0zM266.6 493.2h3.0v3.0h-3.0zM263.5 505.1h3.0v3.0h-3.0zM269.6 487.3h3.0v3.0h-3.0zM267.8 503.9h3.0v3.0h-3.0zM262.7 483.9h3.0v3.0h-3.0zM254.2 496.8h3.0v3.0h-3.0zM268.0 482.0h3.0v3.0h-3.0zM260.0 498.8h3.0v3.0h-3.0zM252.2 487.0h3.0v3.0h-3.0zM269.6 494.6h3.0v3.0h-3.0zM255.4 490.2h3.0v3.0h-3.0zM265.5 500.1h3.0v3.0h-3.0zM267.0 496.4h3.0v3.0h-3.0zM267.7 494.0h3.0v3.0h-3.0zM278.6 502.0h3.0v3.0h-3.0zM262.7 489.1h3.0v3.0h-3.0zM257.8 502.2h3.0v3.0h-3.0zM258.9 484.9h3.0v3.0h-3.0zM266.3 503.5h3.0v3.0h-3.0zM260.5 507.9h3.0v3.0h-3.0zM264.3 489.1h3.0v3.0h-3.0zM258.5 483.6h3.0v3.0h-3.0zM259.5 503.2h3.0v3.0h-3.0zM259.5 478.1h3.0v3.0h-3.0zM269.4 500.6h3.0v3.0h-3.0zM258.0 486.3h3.0v3.0h-3.0zM258.4 501.9h3.0v3.0h-3.0zM272.1 490.8h3.0v3.0h-3.0zM262.3 490.3h3.0v3.0h-3.0zM258.8 490.2h3.0v3.0h-3.0zM260.0 484.6h3.0v3.0h-3.0zM267.3 501.0h3.0v3.0h-3.0zM258.6 493.6h3.0v3.0h-3.0zM274.0 495.7h3.0v3.0h-3.0zM260.1 509.7h3.0v3.0h-3.0zM254.6 500.9h3.0v3.0h-3.0zM273.8 499.8h3.0v3.0h-3.0zM271.5 493.7h3.0v3.0h-3.0zM258.3 491.3h3.0v3.0h-3.0zM273.4 490.4h3.0v3.0h-3.0zM255.7 505.0h3.0v3.0h-3.0zM265.7 485.2h3.0v3.0h-3.0zM260.5 491.3h3.0v3.0h-3.0zM261.7 490.6h3.0v3.0h-3.0zM253.4 491.5h3.0v3.0h-3.0zM265.1 493.6h3.0v3.0h-3.0zM262.2 511.1h3.0v3.0h-3.0zM265.9 476.7h3.0v3.0h-3.0zM272.3 503.0h3.0v3.0h-3.0zM264.9 491.1h3.0v3.0h-3.0zM262.9 496.2h3.0v3.0h-3.0zM277.2 498.3h3.0v3.0h-3.0zM261.5 482.3h3.0v3.0h-3.0zM264.7 497.3h3.0v3.0h-3.0zM256.5 510.1h3.0v3.0h-3.0zM263.6 490.0h3.0v3.0h-3.0zM253.8 494.7h3.0v3.0h-3.0zM268.0 493.0h3.0v3.0h-3.0zM273.0 502.7h3.0v3.0h-3.0zM263.6 480.0h3.0v3.0h-3.0zM261.3 485.7h3.0v3.0h-3.0zM264.9 510.4h3.0v3.0h-3.0zM258.8 478.7h3.0v3.0h-3.0zM259.6 483.6h3.0v3.0h-3.0zM268.6 481.1h3.0v3.0h-3.0zM264.2 483.8h3.0v3.0h-3.0zM264.7 481.1h3.0v3.0h-3.0zM260.3 479.3h3.0v3.0h-3.0zM254.2 502.0h3.0v3.0h-3.0zM262.5 497.1h3.0v3.0h-3.0zM272.2 495.4h3.0v3.0h-3.0zM264.4 503.8h3.0v3.0h-3.0zM263.4 478.9h3.0v3.0h-3.0zM258.8 492.8h3.0v3.0h-3.0zM258.8 487.9h3.0v3.0h-3.0zM261.2 480.3h3.0v3.0h-3.0zM260.0 486.8h3.0v3.0h-3.0zM263.9 488.0h3.0v3.0h-3.0zM257.8 494.2h3.0v3.0h-3.0zM240.1 503.3h3.0v3.0h-3.0zM269.0 489.1h3.0v3.0h-3.0zM267.8 496.3h3.0v3.0h-3.0zM263.9 488.5h3.0v3.0h-3.0zM270.0 496.7h3.0v3.0h-3.0zM250.7 500.2h3.0v3.0h-3.0zM262.6 513.8h3.0v3.0h-3.0zM256.9 488.5h3.0v3.0h-3.0zM267.0 496.8h3.0v3.0h-3.0zM268.3 499.0h3.0v3.0h-3.0zM252.7 489.5h3.0v3.0h-3.0zM273.0 496.6h3.0v3.0h-3.0zM258.4 492.1h3.0v3.0h-3.0zM259.4 490.9h3.0v3.0h-3.0zM262.8 489.2h3.0v3.0h-3.0zM270.9 481.9h3.0v3.0h-3.0zM265.1 484.8h3.0v3.0h-3.0zM263.2 514.2h3.0v3.0h-3.0zM270.2 487.4h3.0v3.0h-3.0zM267.8 488.6h3.0v3.0h-3.0zM251.5 507.2h3.0v3.0h-3.0zM265.5 510.5h3.0v3.0h-3.0zM261.6 489.9h3.0v3.0h-3.0zM265.4 492.3h3.0v3.0h-3.0zM260.1 487.6h3.0v3.0h-3.0zM265.3 493.4h3.0v3.0h-3.0zM263.1 513.9h3.0v3.0h-3.0zM271.6 485.0h3.0v3.0h-3.0zM267.4 496.4h3.0v3.0h-3.0zM263.1 494.9h3.0v3.0h-3.0zM262.7 507.3h3.0v3.0h-3.0zM247.4 499.1h3.0v3.0h-3.0zM258.8 500.8h3.0v3.0h-3.0zM269.6 489.5h3.0v3.0h-3.0zM262.1 501.2h3.0v3.0h-3.0zM266.5 495.7h3.0v3.0h-3.0zM260.7 489.5h3.0v3.0h-3.0zM264.4 489.5h3.0v3.0h-3.0zM266.8 503.5h3.0v3.0h-3.0zM251.7 487.5h3.0v3.0h-3.0zM264.1 505.1h3.0v3.0h-3.0zM252.7 487.9h3.0v3.0h-3.0zM262.9 484.2h3.0v3.0h-3.0zM275.2 496.3h3.0v3.0h-3.0zM254.1 505.9h3.0v3.0h-3.0zM260.6 482.1h3.0v3.0h-3.0zM264.2 490.2h3.0v3.0h-3.0zM271.2 501.3h3.0v3.0h-3.0zM272.3 489.6h3.0v3.0h-3.0zM257.9 488.5h3.0v3.0h-3.0zM265.4 498.2h3.0v3.0h-3.0zM268.3 501.7h3.0v3.0h-3.0zM263.3 503.0h3.0v3.0h-3.0zM270.4 500.8h3.0v3.0h-3.0zM262.4 497.9h3.0v3.0h-3.0zM247.5 488.9h3.0v3.0h-3.0zM265.6 493.2h3.0v3.0h-3.0zM260.6 492.4h3.0v3.0h-3.0zM259.6 489.1h3.0v3.0h-3.0zM267.6 505.2h3.0v3.0h-3.0zM261.6 500.5h3.0v3.0h-3.0zM267.9 498.0h3.0v3.0h-3.0zM264.3 495.6h3.0v3.0h-3.0zM262.6 495.9h3.0v3.0h-3.0zM263.9 506.7h3.0v3.0h-3.0zM255.1 488.0h3.0v3.0h-3.0zM277.3 497.8h3.0v3.0h-3.0zM260.3 506.2h3.0v3.0h-3.0zM264.0 510.2h3.0v3.0h-3.0zM253.4 495.6h3.0v3.0h-3.0zM261.8 477.3h3.0v3.0h-3.0zM259.9 485.5h3.0v3.0h-3.0zM257.7 476.6h3.0v3.0h-3.0zM274.4 487.2h3.0v3.0h-3.0zM263.0 494.9h3.0v3.0h-3.0zM280.1 498.5h3.0v3.0h-3.0zM258.2 487.3h3.0v3.0h-3.0zM258.8 496.3h3.0v3.0h-3.0zM256.8 490.5h3.0v3.0h-3.0zM261.3 480.9h3.0v3.0h-3.0zM261.0 495.4h3.0v3.0h-3.0zM266.7 510.0h3.0v3.0h-3.0zM270.0 493.1h3.0v3.0h-3.0zM262.7 482.4h3.0v3.0h-3.0zM261.0 486.5h3.0v3.0h-3.0zM264.5 483.6h3.0v3.0h-3.0zM262.9 485.9h3.0v3.0h-3.0zM278.4 498.1h3.0v3.0h-3.0zM274.5 484.9h3.0v3.0h-3.0zM260.5 498.6h3.0v3.0h-3.0zM260.2 497.4h3.0v3.0h-3.0zM258.1 489.3h3.0v3.0h-3.0zM261.2 491.4h3.0v3.0h-3.0zM255.4 491.0h3.0v3.0h-3.0zM267.3 494.3h3.0v3.0h-3.0zM259.5 482.5h3.0v3.0h-3.0zM256.6 492.7h3.0v3.0h-3.0zM265.7 499.6h3.0v3.0h-3.0zM262.1 481.2h3.0v3.0h-3.0zM257.8 500.2h3.0v3.0h-3.0zM261.2 494.1h3.0v3.0h-3.0zM261.1 482.0h3.0v3.0h-3.0zM264.4 512.8h3.0v3.0h-3.0zM261.1 481.6h3.0v3.0h-3.0zM273.0 494.6h3.0v3.0h-3.0zM256.6 489.4h3.0v3.0h-3.0zM273.0 488.0h3.0v3.0h-3.0zM258.1 483.8h3.0v3.0h-3.0zM259.1 489.7h3.0v3.0h-3.0zM265.2 486.1h3.0v3.0h-3.0zM260.7 497.6h3.0v3.0h-3.0zM277.8 487.3h3.0v3.0h-3.0zM254.7 485.7h3.0v3.0h-3.0zM268.5 500.6h3.0v3.0h-3.0zM259.0 497.8h3.0v3.0h-3.0zM269.5 469.5h3.0v3.0h-3.0zM251.2 497.2h3.0v3.0h-3.0zM259.9 489.9h3.0v3.0h-3.0zM267.1 502.2h3.0v3.0h-3.0zM267.4 492.6h3.0v3.0h-3.0zM257.7 489.2h3.0v3.0h-3.0zM259.5 504.3h3.0v3.0h-3.0zM262.8 478.8h3.0v3.0h-3.0zM273.0 489.5h3.0v3.0h-3.0zM276.7 497.1h3.0v3.0h-3.0zM257.4 493.4h3.0v3.0h-3.0zM261.7 504.7h3.0v3.0h-3.0zM270.5 481.9h3.0v3.0h-3.0zM253.9 497.5h3.0v3.0h-3.0zM274.0 503.6h3.0v3.0h-3.0zM249.9 500.2h3.0v3.0h-3.0zM255.7 492.0h3.0v3.0h-3.0zM272.2 489.4h3.0v3.0h-3.0zM257.0 486.5h3.0v3.0h-3.0zM264.2 487.0h3.0v3.0h-3.0zM262.4 504.5h3.0v3.0h-3.0zM263.0 484.9h3.0v3.0h-3.0zM262.9 512.4h3.0v3.0h-3.0zM259.7 488.4h3.0v3.0h-3.0zM256.9 492.3h3.0v3.0h-3.0zM263.6 498.8h3.0v3.0h-3.0zM256.4 500.2h3.0v3.0h-3.0zM263.8 493.5h3.0v3.0h-3.0zM263.9 488.8h3.0v3.0h-3.0zM265.6 489.2h3.0v3.0h-3.0zM258.7 486.6h3.0v3.0h-3.0zM255.1 491.8h3.0v3.0h-3.0zM266.2 498.2h3.0v3.0h-3.0zM261.0 501.0h3.0v3.0h-3.0zM278.8 495.2h3.0v3.0h-3.0zM260.5 486.2h3.0v3.0h-3.0zM254.5 485.2h3.0v3.0h-3.0zM266.7 487.1h3.0v3.0h-3.0zM258.5 503.5h3.0v3.0h-3.0zM264.2 498.2h3.0v3.0h-3.0zM255.3 499.0h3.0v3.0h-3.0zM266.5 477.0h3.0v3.0h-3.0zM265.8 505.2h3.0v3.0h-3.0zM267.9 476.8h3.0v3.0h-3.0zM261.1 494.5h3.0v3.0h-3.0zM263.9 484.6h3.0v3.0h-3.0zM261.6 493.3h3.0v3.0h-3.0zM269.3 488.3h3.0v3.0h-3.0zM252.1 498.6h3.0v3.0h-3.0zM260.0 503.9h3.0v3.0h-3.0zM271.1 482.8h3.0v3.0h-3.0zM275.2 482.8h3.0v3.0h-3.0zM268.5 484.3h3.0v3.0h-3.0zM260.1 484.6h3.0v3.0h-3.0zM257.3 492.6h3.0v3.0h-3.0zM263.8 492.7h3.0v3.0h-3.0zM258.0 499.9h3.0v3.0h-3.0zM266.6 491.5h3.0v3.0h-3.0zM253.7 494.8h3.0v3.0h-3.0zM269.5 487.7h3.0v3.0h-3.0zM258.3 486.0h3.0v3.0h-3.0zM254.2 496.8h3.0v3.0h-3.0zM260.1 488.9h3.0v3.0h-3.0zM264.4 486.1h3.0v3.0h-3.0zM247.2 508.2h3.0v3.0h-3.0zM260.3 484.9h3.0v3.0h-3.0zM260.6 492.8h3.0v3.0h-3.0zM257.0 489.8h3.0v3.0h-3.0zM253.5 492.7h3.0v3.0h-3.0zM263.2 484.5h3.0v3.0h-3.0zM257.1 497.1h3.0v3.0h-3.0zM248.4 504.4h3.0v3.0h-3.0zM267.8 484.9h3.0v3.0h-3.0zM264.2 502.1h3.0v3.0h-3.0zM260.4 501.0h3.0v3.0h-3.0zM262.9 492.2h3.0v3.0h-3.0zM267.0 512.2h3.0v3.0h-3.0zM255.1 499.4h3.0v3.0h-3.0zM261.4 493.6h3.0v3.0h-3.0zM264.8 503.7h3.0v3.0h-3.0zM263.1 500.5h3.0v3.0h-3.0zM275.4 495.8h3.0v3.0h-3.0zM262.4 500.1h3.0v3.0h-3.0zM272.8 491.5h3.0v3.0h-3.0zM261.2 506.2h3.0v3.0h-3.0zM263.2 483.6h3.0v3.0h-3.0zM267.1 498.7h3.0v3.0h-3.0zM261.6 497.9h3.0v3.0h-3.0zM265.8 491.4h3.0v3.0h-3.0zM261.1 500.2h3.0v3.0h-3.0zM266.4 501.1h3.0v3.0h-3.0zM272.0 500.2h3.0v3.0h-3.0zM262.3 485.7h3.0v3.0h-3.0zM262.9 503.7h3.0v3.0h-3.0zM268.1 501.6h3.0v3.0h-3.0zM258.1 499.6h3.0v3.0h-3.0zM252.9 496.5h3.0v3.0h-3.0zM275.4 488.7h3.0v3.0h-3.0zM258.5 503.3h3.0v3.0h-3.0zM256.9 482.3h3.0v3.0h-3.0zM273.3 506.6h3.0v3.0h-3.0zM255.9 496.8h3.0v3.0h-3.0zM248.4 505.1h3.0v3.0h-3.0zM264.5 495.2h3.0v3.0h-3.0zM264.0 492.0h3.0v3.0h-3.0zM278.1 481.7h3.0v3.0h-3.0zM268.6 492.2h3.0v3.0h-3.0zM266.6 496.9h3.0v3.0h-3.0zM261.7 492.3h3.0v3.0h-3.0zM251.8 501.8h3.0v3.0h-3.0zM267.8 493.1h3.0v3.0h-3.0zM262.8 494.5h3.0v3.0h-3.0zM250.1 497.3h3.0v3.0h-3.0zM258.6 496.9h3.0v3.0h-3.0zM264.6 503.1h3.0v3.0h-3.0zM246.2 504.2h3.0v3.0h-3.0zM261.3 485.7h3.0v3.0h-3.0zM252.9 494.1h3.0v3.0h-3.0zM259.1 503.2h3.0v3.0h-3.0zM261.5 474.4h3.0v3.0h-3.0zM261.9 501.9h3.0v3.0h-3.0zM264.2 491.1h3.0v3.0h-3.0zM263.1 484.7h3.0v3.0h-3.0zM285.5 488.4h3.0v3.0h-3.0zM261.5 496.8h3.0v3.0h-3.0zM266.9 484.8h3.0v3.0h-3.0zM264.5 493.4h3.0v3.0h-3.0zM261.2 494.8h3.0v3.0h-3.0zM261.6 498.6h3.0v3.0h-3.0zM259.3 494.7h3.0v3.0h-3.0zM255.1 490.9h3.0v3.0h-3.0zM258.4 500.3h3.0v3.0h-3.0zM254.5 491.3h3.0v3.0h-3.0zM276.6 486.0h3.0v3.0h-3.0zM263.9 486.6h3.0v3.0h-3.0zM261.5 504.9h3.0v3.0h-3.0zM271.0 491.3h3.0v3.0h-3.0zM255.0 493.0h3.0v3.0h-3.0zM262.7 509.5h3.0v3.0h-3.0zM257.4 492.4h3.0v3.0h-3.0zM260.7 490.8h3.0v3.0h-3.0zM261.1 489.5h3.0v3.0h-3.0zM262.7 500.6h3.0v3.0h-3.0zM261.6 485.1h3.0v3.0h-3.0zM267.7 492.1h3.0v3.0h-3.0zM253.6 495.9h3.0v3.0h-3.0zM270.6 492.2h3.0v3.0h-3.0zM268.2 487.0h3.0v3.0h-3.0zM263.5 485.5h3.0v3.0h-3.0zM250.6 499.9h3.0v3.0h-3.0zM258.2 492.9h3.0v3.0h-3.0zM261.2 495.8h3.0v3.0h-3.0zM265.1 502.3h3.0v3.0h-3.0zM271.3 488.0h3.0v3.0h-3.0zM260.4 512.5h3.0v3.0h-3.0zM260.3 489.8h3.0v3.0h-3.0zM260.3 484.9h3.0v3.0h-3.0zM263.5 488.1h3.0v3.0h-3.0zM272.0 488.2h3.0v3.0h-3.0zM273.4 493.8h3.0v3.0h-3.0zM277.0 490.8h3.0v3.0h-3.0zM258.3 501.9h3.0v3.0h-3.0zM261.6 492.5h3.0v3.0h-3.0zM259.5 496.7h3.0v3.0h-3.0zM266.1 477.0h3.0v3.0h-3.0zM265.3 498.2h3.0v3.0h-3.0zM259.8 493.1h3.0v3.0h-3.0zM267.1 493.6h3.0v3.0h-3.0zM268.3 493.3h3.0v3.0h-3.0zM273.8 496.0h3.0v3.0h-3.0zM257.7 495.1h3.0v3.0h-3.0zM259.6 496.3h3.0v3.0h-3.0zM263.3 500.8h3.0v3.0h-3.0zM263.7 490.4h3.0v3.0h-3.0zM263.9 508.8h3.0v3.0h-3.0zM266.1 485.5h3.0v3.0h-3.0zM259.8 488.7h3.0v3.0h-3.0zM277.3 494.9h3.0v3.0h-3.0zM282.9 496.7h3.0v3.0h-3.0zM268.7 503.5h3.0v3.0h-3.0zM263.1 475.1h3.0v3.0h-3.0zM250.7 494.0h3.0v3.0h-3.0zM263.8 480.1h3.0v3.0h-3.0zM263.6 489.1h3.0v3.0h-3.0zM270.1 504.0h3.0v3.0h-3.0zM265.2 486.2h3.0v3.0h-3.0zM268.3 494.5h3.0v3.0h-3.0zM259.7 491.2h3.0v3.0h-3.0zM256.5 497.9h3.0v3.0h-3.0zM260.3 510.9h3.0v3.0h-3.0zM262.6 514.6h3.0v3.0h-3.0zM259.5 495.3h3.0v3.0h-3.0zM253.1 494.2h3.0v3.0h-3.0zM255.5 485.9h3.0v3.0h-3.0zM268.8 492.2h3.0v3.0h-3.0zM267.2 503.6h3.0v3.0h-3.0zM269.1 497.6h3.0v3.0h-3.0zM253.6 484.0h3.0v3.0h-3.0zM259.8 500.3h3.0v3.0h-3.0zM269.6 495.0h3.0v3.0h-3.0zM250.1 498.7h3.0v3.0h-3.0zM270.9 490.3h3.0v3.0h-3.0zM263.9 487.3h3.0v3.0h-3.0zM249.3 496.4h3.0v3.0h-3.0zM259.5 509.5h3.0v3.0h-3.0zM261.8 496.1h3.0v3.0h-3.0zM266.4 505.6h3.0v3.0h-3.0zM263.5 505.6h3.0v3.0h-3.0zM269.7 498.4h3.0v3.0h-3.0zM264.4 512.1h3.0v3.0h-3.0zM268.9 493.6h3.0v3.0h-3.0zM264.4 485.2h3.0v3.0h-3.0zM261.3 485.5h3.0v3.0h-3.0zM256.5 489.9h3.0v3.0h-3.0zM269.2 493.7h3.0v3.0h-3.0zM263.3 508.0h3.0v3.0h-3.0zM254.2 496.8h3.0v3.0h-3.0zM263.8 491.3h3.0v3.0h-3.0zM266.6 483.7h3.0v3.0h-3.0zM265.8 476.6h3.0v3.0h-3.0zM253.3 502.5h3.0v3.0h-3.0zM260.5 489.0h3.0v3.0h-3.0zM255.9 495.0h3.0v3.0h-3.0zM266.4 495.2h3.0v3.0h-3.0zM267.0 488.6h3.0v3.0h-3.0zM264.0 493.6h3.0v3.0h-3.0zM262.5 492.0h3.0v3.0h-3.0zM274.6 500.8h3.0v3.0h-3.0zM273.5 502.4h3.0v3.0h-3.0zM259.5 486.4h3.0v3.0h-3.0zM266.9 495.9h3.0v3.0h-3.0zM260.9 501.0h3.0v3.0h-3.0zM262.7 506.8h3.0v3.0h-3.0zM260.4 487.5h3.0v3.0h-3.0zM268.2 494.4h3.0v3.0h-3.0zM258.3 482.8h3.0v3.0h-3.0zM257.7 478.3h3.0v3.0h-3.0zM264.7 477.0h3.0v3.0h-3.0zM262.7 483.6h3.0v3.0h-3.0zM254.6 503.0h3.0v3.0h-3.0zM263.6 496.2h3.0v3.0h-3.0zM258.6 493.3h3.0v3.0h-3.0zM249.0 497.2h3.0v3.0h-3.0zM265.3 498.1h3.0v3.0h-3.0zM266.2 488.8h3.0v3.0h-3.0zM268.9 493.3h3.0v3.0h-3.0zM267.0 489.5h3.0v3.0h-3.0zM261.0 483.9h3.0v3.0h-3.0zM261.8 496.4h3.0v3.0h-3.0zM269.3 493.1h3.0v3.0h-3.0zM262.7 477.9h3.0v3.0h-3.0zM270.3 488.0h3.0v3.0h-3.0zM263.4 489.0h3.0v3.0h-3.0zM264.7 489.0h3.0v3.0h-3.0zM265.5 498.3h3.0v3.0h-3.0zM272.3 502.7h3.0v3.0h-3.0zM262.5 478.4h3.0v3.0h-3.0zM261.4 490.6h3.0v3.0h-3.0zM251.4 487.0h3.0v3.0h-3.0zM269.2 495.9h3.0v3.0h-3.0zM263.2 493.2h3.0v3.0h-3.0zM259.6 500.6h3.0v3.0h-3.0zM280.4 488.4h3.0v3.0h-3.0zM269.6 494.5h3.0v3.0h-3.0zM258.7 490.6h3.0v3.0h-3.0zM263.7 489.8h3.0v3.0h-3.0zM276.6 494.9h3.0v3.0h-3.0zM277.7 495.9h3.0v3.0h-3.0zM262.9 490.7h3.0v3.0h-3.0zM260.8 497.3h3.0v3.0h-3.0zM267.2 498.8h3.0v3.0h-3.0zM257.5 478.9h3.0v3.0h-3.0zM265.4 482.4h3.0v3.0h-3.0zM257.3 490.7h3.0v3.0h-3.0zM263.8 496.7h3.0v3.0h-3.0zM267.5 507.1h3.0v3.0h-3.0zM256.7 498.0h3.0v3.0h-3.0zM264.3 495.7h3.0v3.0h-3.0zM267.5 480.0h3.0v3.0h-3.0zM261.8 485.7h3.0v3.0h-3.0zM268.6 486.4h3.0v3.0h-3.0zM267.7 485.0h3.0v3.0h-3.0zM259.8 490.6h3.0v3.0h-3.0zM264.5 485.8h3.0v3.0h-3.0zM265.3 496.5h3.0v3.0h-3.0zM255.3 500.5h3.0v3.0h-3.0zM262.8 492.1h3.0v3.0h-3.0zM265.5 491.9h3.0v3.0h-3.0zM261.0 504.1h3.0v3.0h-3.0zM264.9 494.0h3.0v3.0h-3.0zM268.2 503.9h3.0v3.0h-3.0zM264.8 508.5h3.0v3.0h-3.0zM267.0 480.6h3.0v3.0h-3.0zM264.2 487.8h3.0v3.0h-3.0zM265.2 478.5h3.0v3.0h-3.0zM263.5 478.9h3.0v3.0h-3.0zM265.4 483.6h3.0v3.0h-3.0zM265.6 474.7h3.0v3.0h-3.0zM275.7 491.1h3.0v3.0h-3.0zM259.9 485.5h3.0v3.0h-3.0zM264.1 482.8h3.0v3.0h-3.0zM267.2 483.6h3.0v3.0h-3.0zM279.4 498.2h3.0v3.0h-3.0zM255.2 506.5h3.0v3.0h-3.0zM264.7 488.2h3.0v3.0h-3.0zM272.2 490.3h3.0v3.0h-3.0zM259.3 493.6h3.0v3.0h-3.0zM251.9 493.5h3.0v3.0h-3.0zM275.9 500.3h3.0v3.0h-3.0zM265.5 489.9h3.0v3.0h-3.0zM267.9 484.8h3.0v3.0h-3.0zM256.6 489.0h3.0v3.0h-3.0zM267.2 482.6h3.0v3.0h-3.0zM261.0 492.3h3.0v3.0h-3.0zM262.6 506.4h3.0v3.0h-3.0zM268.9 499.0h3.0v3.0h-3.0zM267.5 510.2h3.0v3.0h-3.0zM266.8 491.0h3.0v3.0h-3.0zM257.5 484.9h3.0v3.0h-3.0zM261.9 486.3h3.0v3.0h-3.0zM261.3 495.7h3.0v3.0h-3.0zM259.9 495.2h3.0v3.0h-3.0zM275.0 498.8h3.0v3.0h-3.0zM259.3 513.5h3.0v3.0h-3.0zM264.2 481.0h3.0v3.0h-3.0zM258.1 508.9h3.0v3.0h-3.0zM251.0 493.2h3.0v3.0h-3.0zM260.9 496.5h3.0v3.0h-3.0zM259.7 499.1h3.0v3.0h-3.0zM267.7 501.5h3.0v3.0h-3.0zM271.3 496.4h3.0v3.0h-3.0zM258.6 492.7h3.0v3.0h-3.0zM258.6 480.8h3.0v3.0h-3.0zM255.8 492.8h3.0v3.0h-3.0zM264.2 493.1h3.0v3.0h-3.0zM258.5 504.3h3.0v3.0h-3.0zM256.8 499.3h3.0v3.0h-3.0zM265.1 486.2h3.0v3.0h-3.0zM273.1 499.7h3.0v3.0h-3.0zM263.7 487.9h3.0v3.0h-3.0zM275.2 503.6h3.0v3.0h-3.0zM273.1 503.2h3.0v3.0h-3.0zM259.5 498.8h3.0v3.0h-3.0zM247.3 493.7h3.0v3.0h-3.0zM256.0 486.0h3.0v3.0h-3.0zM257.4 499.3h3.0v3.0h-3.0zM263.6 483.1h3.0v3.0h-3.0zM269.5 488.2h3.0v3.0h-3.0zM263.0 478.1h3.0v3.0h-3.0zM265.6 511.4h3.0v3.0h-3.0zM268.1 495.8h3.0v3.0h-3.0zM272.0 487.4h3.0v3.0h-3.0zM254.7 494.8h3.0v3.0h-3.0zM268.3 482.7h3.0v3.0h-3.0zM268.7 484.7h3.0v3.0h-3.0zM264.6 480.0h3.0v3.0h-3.0zM267.9 500.2h3.0v3.0h-3.0zM267.0 506.3h3.0v3.0h-3.0zM268.0 494.7h3.0v3.0h-3.0zM250.3 507.0h3.0v3.0h-3.0zM260.3 484.7h3.0v3.0h-3.0zM264.9 502.4h3.0v3.0h-3.0zM249.8 486.3h3.0v3.0h-3.0zM257.4 498.1h3.0v3.0h-3.0zM269.0 489.2h3.0v3.0h-3.0zM262.4 489.8h3.0v3.0h-3.0zM265.9 487.8h3.0v3.0h-3.0zM262.8 489.5h3.0v3.0h-3.0zM262.6 488.2h3.0v3.0h-3.0zM260.4 489.8h3.0v3.0h-3.0zM257.4 488.7h3.0v3.0h-3.0zM271.5 497.7h3.0v3.0h-3.0zM269.8 496.2h3.0v3.0h-3.0zM262.6 489.1h3.0v3.0h-3.0zM256.4 493.0h3.0v3.0h-3.0zM252.2 498.3h3.0v3.0h-3.0zM268.2 499.3h3.0v3.0h-3.0zM267.9 483.0h3.0v3.0h-3.0zM263.6 497.1h3.0v3.0h-3.0zM264.0 484.1h3.0v3.0h-3.0zM270.3 497.6h3.0v3.0h-3.0zM265.7 489.1h3.0v3.0h-3.0zM271.1 496.7h3.0v3.0h-3.0zM256.5 479.0h3.0v3.0h-3.0zM262.6 506.8h3.0v3.0h-3.0zM269.7 491.9h3.0v3.0h-3.0zM259.8 503.6h3.0v3.0h-3.0zM261.6 490.9h3.0v3.0h-3.0zM266.8 491.3h3.0v3.0h-3.0zM264.5 510.5h3.0v3.0h-3.0zM255.7 487.1h3.0v3.0h-3.0zM273.1 500.9h3.0v3.0h-3.0zM260.1 478.9h3.0v3.0h-3.0zM275.1 494.0h3.0v3.0h-3.0zM245.4 501.9h3.0v3.0h-3.0zM267.8 498.4h3.0v3.0h-3.0zM261.2 497.5h3.0v3.0h-3.0zM270.9 497.5h3.0v3.0h-3.0zM257.1 490.5h3.0v3.0h-3.0zM270.3 486.4h3.0v3.0h-3.0zM257.9 498.7h3.0v3.0h-3.0zM257.6 487.2h3.0v3.0h-3.0zM265.8 509.0h3.0v3.0h-3.0zM260.7 481.9h3.0v3.0h-3.0zM256.1 497.6h3.0v3.0h-3.0zM268.6 499.5h3.0v3.0h-3.0zM272.8 499.6h3.0v3.0h-3.0zM265.4 490.7h3.0v3.0h-3.0zM258.2 500.1h3.0v3.0h-3.0zM269.4 475.4h3.0v3.0h-3.0zM260.2 506.7h3.0v3.0h-3.0zM272.5 505.3h3.0v3.0h-3.0zM254.6 488.3h3.0v3.0h-3.0zM267.7 485.3h3.0v3.0h-3.0zM254.7 490.3h3.0v3.0h-3.0zM263.2 480.1h3.0v3.0h-3.0zM257.5 501.2h3.0v3.0h-3.0zM268.2 495.7h3.0v3.0h-3.0zM261.6 505.5h3.0v3.0h-3.0zM260.1 502.1h3.0v3.0h-3.0zM263.9 484.5h3.0v3.0h-3.0zM251.6 502.4h3.0v3.0h-3.0zM252.7 502.8h3.0v3.0h-3.0zM259.5 498.3h3.0v3.0h-3.0zM261.2 498.3h3.0v3.0h-3.0zM261.4 487.2h3.0v3.0h-3.0zM258.5 488.4h3.0v3.0h-3.0zM258.3 488.0h3.0v3.0h-3.0zM258.3 495.8h3.0v3.0h-3.0zM274.6 490.3h3.0v3.0h-3.0zM257.9 490.1h3.0v3.0h-3.0zM272.0 486.8h3.0v3.0h-3.0zM263.6 487.5h3.0v3.0h-3.0zM264.7 495.0h3.0v3.0h-3.0zM256.1 483.6h3.0v3.0h-3.0zM272.5 488.5h3.0v3.0h-3.0zM261.2 505.3h3.0v3.0h-3.0zM266.2 505.9h3.0v3.0h-3.0zM260.0 502.6h3.0v3.0h-3.0zM259.7 478.2h3.0v3.0h-3.0zM254.5 494.8h3.0v3.0h-3.0zM251.7 500.6h3.0v3.0h-3.0zM270.9 495.4h3.0v3.0h-3.0zM259.4 474.2h3.0v3.0h-3.0zM267.6 493.9h3.0v3.0h-3.0zM262.4 474.3h3.0v3.0h-3.0zM261.4 498.7h3.0v3.0h-3.0zM264.9 482.2h3.0v3.0h-3.0zM263.0 514.2h3.0v3.0h-3.0zM266.0 478.4h3.0v3.0h-3.0zM251.5 495.1h3.0v3.0h-3.0zM260.0 487.6h3.0v3.0h-3.0zM270.4 488.2h3.0v3.0h-3.0zM265.2 487.3h3.0v3.0h-3.0zM261.0 499.7h3.0v3.0h-3.0zM262.2 497.5h3.0v3.0h-3.0zM261.6 484.0h3.0v3.0h-3.0zM268.0 497.0h3.0v3.0h-3.0zM266.2 496.0h3.0v3.0h-3.0zM264.3 477.6h3.0v3.0h-3.0zM262.5 481.9h3.0v3.0h-3.0zM261.5 500.9h3.0v3.0h-3.0zM268.5 489.8h3.0v3.0h-3.0zM263.6 471.3h3.0v3.0h-3.0zM268.1 496.8h3.0v3.0h-3.0zM271.7 496.7h3.0v3.0h-3.0zM267.6 490.3h3.0v3.0h-3.0zM261.9 488.8h3.0v3.0h-3.0zM260.1 494.0h3.0v3.0h-3.0zM260.8 481.2h3.0v3.0h-3.0zM263.2 507.9h3.0v3.0h-3.0zM262.8 477.2h3.0v3.0h-3.0zM256.9 505.6h3.0v3.0h-3.0zM267.1 486.2h3.0v3.0h-3.0zM265.4 499.8h3.0v3.0h-3.0zM253.4 487.9h3.0v3.0h-3.0zM252.3 501.0h3.0v3.0h-3.0zM262.5 499.2h3.0v3.0h-3.0zM261.1 509.8h3.0v3.0h-3.0zM252.2 479.4h3.0v3.0h-3.0zM270.6 499.7h3.0v3.0h-3.0zM258.2 504.7h3.0v3.0h-3.0zM274.4 494.9h3.0v3.0h-3.0zM260.4 485.2h3.0v3.0h-3.0zM244.2 496.0h3.0v3.0h-3.0zM267.8 501.9h3.0v3.0h-3.0zM276.0 500.4h3.0v3.0h-3.0zM256.3 494.8h3.0v3.0h-3.0zM265.3 498.4h3.0v3.0h-3.0zM257.7 492.2h3.0v3.0h-3.0zM273.2 494.9h3.0v3.0h-3.0zM263.7 480.2h3.0v3.0h-3.0zM267.9 479.9h3.0v3.0h-3.0zM251.2 490.5h3.0v3.0h-3.0zM252.5 489.7h3.0v3.0h-3.0zM261.7 494.5h3.0v3.0h-3.0zM256.6 497.3h3.0v3.0h-3.0zM268.2 486.4h3.0v3.0h-3.0zM258.8 503.4h3.0v3.0h-3.0zM260.2 513.4h3.0v3.0h-3.0zM255.8 497.9h3.0v3.0h-3.0zM252.9 495.9h3.0v3.0h-3.0zM262.0 497.4h3.0v3.0h-3.0zM257.0 495.5h3.0v3.0h-3.0zM255.1 498.4h3.0v3.0h-3.0zM262.7 497.1h3.0v3.0h-3.0zM268.0 491.0h3.0v3.0h-3.0zM269.5 500.3h3.0v3.0h-3.0zM269.7 500.7h3.0v3.0h-3.0zM269.7 494.5h3.0v3.0h-3.0zM259.1 495.4h3.0v3.0h-3.0zM268.3 486.1h3.0v3.0h-3.0zM262.8 493.0h3.0v3.0h-3.0zM268.6 493.6h3.0v3.0h-3.0zM262.2 497.8h3.0v3.0h-3.0zM267.8 498.3h3.0v3.0h-3.0zM250.7 502.3h3.0v3.0h-3.0zM262.8 485.9h3.0v3.0h-3.0zM280.9 501.7h3.0v3.0h-3.0zM265.8 481.9h3.0v3.0h-3.0zM262.0 506.9h3.0v3.0h-3.0zM260.2 500.1h3.0v3.0h-3.0zM258.5 478.5h3.0v3.0h-3.0zM255.1 497.7h3.0v3.0h-3.0zM264.7 495.4h3.0v3.0h-3.0zM267.4 500.5h3.0v3.0h-3.0zM263.0 488.9h3.0v3.0h-3.0zM262.9 500.5h3.0v3.0h-3.0zM270.9 487.1h3.0v3.0h-3.0zM261.9 500.1h3.0v3.0h-3.0zM265.7 499.2h3.0v3.0h-3.0zM261.0 493.8h3.0v3.0h-3.0zM270.5 495.5h3.0v3.0h-3.0zM276.6 491.9h3.0v3.0h-3.0zM257.6 495.0h3.0v3.0h-3.0zM258.2 506.4h3.0v3.0h-3.0zM259.8 493.8h3.0v3.0h-3.0zM265.6 501.0h3.0v3.0h-3.0zM254.8 487.6h3.0v3.0h-3.0zM262.8 492.4h3.0v3.0h-3.0zM263.9 472.7h3.0v3.0h-3.0zM273.3 492.5h3.0v3.0h-3.0zM257.9 489.8h3.0v3.0h-3.0zM263.5 491.8h3.0v3.0h-3.0zM261.9 510.6h3.0v3.0h-3.0zM259.7 497.3h3.0v3.0h-3.0zM266.2 504.3h3.0v3.0h-3.0zM259.1 511.5h3.0v3.0h-3.0zM264.7 491.6h3.0v3.0h-3.0zM260.0 480.0h3.0v3.0h-3.0zM262.4 504.8h3.0v3.0h-3.0zM264.4 489.4h3.0v3.0h-3.0zM255.6 489.8h3.0v3.0h-3.0zM269.5 489.9h3.0v3.0h-3.0zM273.9 506.8h3.0v3.0h-3.0zM265.2 494.7h3.0v3.0h-3.0zM264.2 504.6h3.0v3.0h-3.0zM263.8 502.2h3.0v3.0h-3.0zM256.9 485.2h3.0v3.0h-3.0zM267.7 505.5h3.0v3.0h-3.0zM262.4 488.6h3.0v3.0h-3.0zM261.4 487.2h3.0v3.0h-3.0zM256.3 485.5h3.0v3.0h-3.0zM271.0 495.8h3.0v3.0h-3.0zM255.5 492.2h3.0v3.0h-3.0zM274.0 500.4h3.0v3.0h-3.0zM263.6 507.4h3.0v3.0h-3.0zM263.1 486.3h3.0v3.0h-3.0zM262.6 493.3h3.0v3.0h-3.0zM262.1 506.4h3.0v3.0h-3.0zM264.4 482.1h3.0v3.0h-3.0zM256.2 489.8h3.0v3.0h-3.0zM269.5 491.0h3.0v3.0h-3.0zM265.7 493.9h3.0v3.0h-3.0zM258.9 514.5h3.0v3.0h-3.0zM247.7 501.6h3.0v3.0h-3.0zM274.9 510.9h3.0v3.0h-3.0zM274.0 482.6h3.0v3.0h-3.0zM270.8 489.6h3.0v3.0h-3.0zM263.4 496.9h3.0v3.0h-3.0zM268.5 491.4h3.0v3.0h-3.0zM270.7 483.2h3.0v3.0h-3.0zM256.1 489.6h3.0v3.0h-3.0zM258.3 488.1h3.0v3.0h-3.0zM259.2 491.1h3.0v3.0h-3.0zM260.1 488.2h3.0v3.0h-3.0zM277.6 500.5h3.0v3.0h-3.0zM264.5 490.1h3.0v3.0h-3.0zM269.5 498.2h3.0v3.0h-3.0zM261.3 477.4h3.0v3.0h-3.0zM263.0 503.4h3.0v3.0h-3.0zM266.4 488.4h3.0v3.0h-3.0zM260.2 496.2h3.0v3.0h-3.0zM265.0 491.8h3.0v3.0h-3.0zM263.3 493.2h3.0v3.0h-3.0zM270.1 498.5h3.0v3.0h-3.0zM255.9 506.2h3.0v3.0h-3.0zM278.2 481.4h3.0v3.0h-3.0zM261.1 510.5h3.0v3.0h-3.0zM265.2 497.1h3.0v3.0h-3.0zM265.8 503.7h3.0v3.0h-3.0zM258.9 486.0h3.0v3.0h-3.0zM261.4 494.7h3.0v3.0h-3.0zM255.3 489.0h3.0v3.0h-3.0zM259.0 490.7h3.0v3.0h-3.0zM266.8 497.9h3.0v3.0h-3.0zM262.5 483.2h3.0v3.0h-3.0zM262.4 498.8h3.0v3.0h-3.0zM261.6 501.2h3.0v3.0h-3.0zM262.3 493.7h3.0v3.0h-3.0zM255.8 475.7h3.0v3.0h-3.0zM260.1 497.2h3.0v3.0h-3.0zM253.9 483.5h3.0v3.0h-3.0zM258.7 497.1h3.0v3.0h-3.0zM265.0 501.1h3.0v3.0h-3.0zM269.3 507.3h3.0v3.0h-3.0zM255.3 506.7h3.0v3.0h-3.0zM260.5 499.7h3.0v3.0h-3.0zM273.2 493.4h3.0v3.0h-3.0zM261.1 489.3h3.0v3.0h-3.0zM263.5 499.6h3.0v3.0h-3.0zM258.6 478.4h3.0v3.0h-3.0zM261.6 485.5h3.0v3.0h-3.0zM258.2 499.2h3.0v3.0h-3.0zM263.5 491.0h3.0v3.0h-3.0zM263.2 505.4h3.0v3.0h-3.0zM282.3 493.8h3.0v3.0h-3.0zM281.4 495.2h3.0v3.0h-3.0zM287.3 484.3h3.0v3.0h-3.0zM295.9 495.1h3.0v3.0h-3.0zM281.1 494.7h3.0v3.0h-3.0zM307.5 495.1h3.0v3.0h-3.0zM274.9 494.4h3.0v3.0h-3.0zM281.0 493.3h3.0v3.0h-3.0zM299.3 491.9h3.0v3.0h-3.0zM277.6 502.3h3.0v3.0h-3.0zM286.6 495.6h3.0v3.0h-3.0zM294.8 490.7h3.0v3.0h-3.0zM318.4 492.0h3.0v3.0h-3.0zM294.1 499.8h3.0v3.0h-3.0zM277.4 500.0h3.0v3.0h-3.0zM281.8 496.1h3.0v3.0h-3.0zM282.4 493.6h3.0v3.0h-3.0zM275.6 485.5h3.0v3.0h-3.0zM279.6 490.7h3.0v3.0h-3.0zM274.4 494.7h3.0v3.0h-3.0zM283.3 496.2h3.0v3.0h-3.0zM307.7 496.8h3.0v3.0h-3.0zM310.9 495.9h3.0v3.0h-3.0zM276.0 496.1h3.0v3.0h-3.0zM284.0 491.5h3.0v3.0h-3.0zM293.7 498.0h3.0v3.0h-3.0zM289.4 491.6h3.0v3.0h-3.0zM274.5 487.1h3.0v3.0h-3.0zM277.7 493.9h3.0v3.0h-3.0zM284.1 491.6h3.0v3.0h-3.0zM292.5 489.1h3.0v3.0h-3.0zM281.6 486.6h3.0v3.0h-3.0zM278.9 490.2h3.0v3.0h-3.0zM305.8 495.9h3.0v3.0h-3.0zM289.8 500.4h3.0v3.0h-3.0zM293.1 491.6h3.0v3.0h-3.0zM289.2 488.3h3.0v3.0h-3.0zM276.2 492.9h3.0v3.0h-3.0zM289.8 496.2h3.0v3.0h-3.0zM298.1 498.5h3.0v3.0h-3.0zM293.8 498.9h3.0v3.0h-3.0zM296.3 490.3h3.0v3.0h-3.0zM296.5 490.7h3.0v3.0h-3.0zM285.0 489.9h3.0v3.0h-3.0zM276.3 487.0h3.0v3.0h-3.0zM290.4 493.2h3.0v3.0h-3.0zM291.0 493.1h3.0v3.0h-3.0zM285.1 493.6h3.0v3.0h-3.0zM289.6 494.6h3.0v3.0h-3.0zM275.4 500.0h3.0v3.0h-3.0zM277.8 489.0h3.0v3.0h-3.0zM281.0 494.8h3.0v3.0h-3.0zM298.5 492.6h3.0v3.0h-3.0zM305.9 501.7h3.0v3.0h-3.0zM298.1 495.3h3.0v3.0h-3.0zM305.3 488.2h3.0v3.0h-3.0zM286.7 492.9h3.0v3.0h-3.0zM288.4 493.3h3.0v3.0h-3.0zM287.2 494.8h3.0v3.0h-3.0zM284.1 492.2h3.0v3.0h-3.0zM277.1 489.8h3.0v3.0h-3.0zM298.5 492.1h3.0v3.0h-3.0zM292.7 493.1h3.0v3.0h-3.0zM276.8 492.1h3.0v3.0h-3.0zM285.3 497.4h3.0v3.0h-3.0zM278.1 484.5h3.0v3.0h-3.0zM286.8 489.1h3.0v3.0h-3.0zM294.5 490.8h3.0v3.0h-3.0zM307.5 499.1h3.0v3.0h-3.0zM299.7 494.1h3.0v3.0h-3.0zM298.8 498.1h3.0v3.0h-3.0zM286.4 486.6h3.0v3.0h-3.0zM280.1 490.6h3.0v3.0h-3.0zM287.5 497.6h3.0v3.0h-3.0zM277.4 497.4h3.0v3.0h-3.0zM279.6 491.0h3.0v3.0h-3.0zM290.6 498.6h3.0v3.0h-3.0zM274.5 498.1h3.0v3.0h-3.0zM276.1 490.9h3.0v3.0h-3.0zM276.9 489.9h3.0v3.0h-3.0zM284.6 488.4h3.0v3.0h-3.0zM292.6 492.1h3.0v3.0h-3.0zM287.7 488.2h3.0v3.0h-3.0zM274.9 500.4h3.0v3.0h-3.0zM282.0 487.7h3.0v3.0h-3.0zM274.8 489.4h3.0v3.0h-3.0zM291.2 494.4h3.0v3.0h-3.0zM297.5 500.0h3.0v3.0h-3.0zM280.5 484.9h3.0v3.0h-3.0zM311.4 495.9h3.0v3.0h-3.0zM285.5 493.4h3.0v3.0h-3.0zM278.2 493.2h3.0v3.0h-3.0zM291.2 487.0h3.0v3.0h-3.0zM293.7 496.4h3.0v3.0h-3.0zM297.5 493.7h3.0v3.0h-3.0zM300.8 502.9h3.0v3.0h-3.0zM279.5 491.0h3.0v3.0h-3.0zM290.0 491.2h3.0v3.0h-3.0zM290.4 502.1h3.0v3.0h-3.0zM291.5 493.9h3.0v3.0h-3.0zM285.5 497.0h3.0v3.0h-3.0zM279.6 497.7h3.0v3.0h-3.0zM295.7 492.7h3.0v3.0h-3.0zM291.1 495.1h3.0v3.0h-3.0zM277.3 491.1h3.0v3.0h-3.0zM276.5 490.9h3.0v3.0h-3.0zM278.5 491.6h3.0v3.0h-3.0zM285.6 489.9h3.0v3.0h-3.0zM290.0 490.6h3.0v3.0h-3.0zM321.5 491.8h3.0v3.0h-3.0zM304.9 487.0h3.0v3.0h-3.0zM304.4 489.6h3.0v3.0h-3.0zM277.9 488.4h3.0v3.0h-3.0zM279.7 492.9h3.0v3.0h-3.0zM291.4 493.1h3.0v3.0h-3.0zM316.3 490.9h3.0v3.0h-3.0zM294.3 499.1h3.0v3.0h-3.0zM302.0 498.2h3.0v3.0h-3.0zM282.0 490.3h3.0v3.0h-3.0zM275.0 482.1h3.0v3.0h-3.0zM276.1 489.0h3.0v3.0h-3.0zM293.9 494.8h3.0v3.0h-3.0zM294.1 495.3h3.0v3.0h-3.0zM275.3 498.0h3.0v3.0h-3.0zM295.3 495.3h3.0v3.0h-3.0zM314.2 495.5h3.0v3.0h-3.0zM282.9 503.3h3.0v3.0h-3.0zM291.1 494.8h3.0v3.0h-3.0zM279.3 490.6h3.0v3.0h-3.0zM298.0 490.8h3.0v3.0h-3.0zM283.5 496.2h3.0v3.0h-3.0zM305.2 497.3h3.0v3.0h-3.0zM283.5 496.2h3.0v3.0h-3.0zM277.8 495.4h3.0v3.0h-3.0zM293.3 491.0h3.0v3.0h-3.0zM290.6 494.6h3.0v3.0h-3.0zM275.7 493.9h3.0v3.0h-3.0zM288.6 493.7h3.0v3.0h-3.0zM289.0 495.0h3.0v3.0h-3.0zM288.1 495.1h3.0v3.0h-3.0zM284.1 489.8h3.0v3.0h-3.0zM296.0 494.3h3.0v3.0h-3.0zM288.4 499.2h3.0v3.0h-3.0zM286.2 486.8h3.0v3.0h-3.0zM293.9 496.1h3.0v3.0h-3.0zM305.7 494.1h3.0v3.0h-3.0zM282.0 498.3h3.0v3.0h-3.0zM301.9 493.4h3.0v3.0h-3.0zM280.0 487.3h3.0v3.0h-3.0zM302.5 494.7h3.0v3.0h-3.0zM277.7 492.8h3.0v3.0h-3.0zM275.0 493.1h3.0v3.0h-3.0zM290.9 491.4h3.0v3.0h-3.0zM291.0 494.5h3.0v3.0h-3.0zM280.5 496.7h3.0v3.0h-3.0zM294.8 501.6h3.0v3.0h-3.0zM274.8 492.8h3.0v3.0h-3.0zM280.9 496.8h3.0v3.0h-3.0zM292.2 487.5h3.0v3.0h-3.0zM293.7 498.0h3.0v3.0h-3.0zM289.7 490.9h3.0v3.0h-3.0zM303.0 486.3h3.0v3.0h-3.0zM287.5 495.0h3.0v3.0h-3.0zM298.4 497.4h3.0v3.0h-3.0zM276.6 489.3h3.0v3.0h-3.0zM280.8 501.3h3.0v3.0h-3.0zM299.5 496.8h3.0v3.0h-3.0zM305.7 504.5h3.0v3.0h-3.0zM279.0 488.9h3.0v3.0h-3.0zM279.1 491.6h3.0v3.0h-3.0zM291.2 499.2h3.0v3.0h-3.0zM281.1 489.8h3.0v3.0h-3.0zM283.5 495.1h3.0v3.0h-3.0zM303.4 496.1h3.0v3.0h-3.0zM280.6 490.9h3.0v3.0h-3.0zM277.3 484.2h3.0v3.0h-3.0zM289.5 496.6h3.0v3.0h-3.0zM311.0 498.2h3.0v3.0h-3.0zM296.7 497.2h3.0v3.0h-3.0zM283.2 492.7h3.0v3.0h-3.0zM286.2 492.1h3.0v3.0h-3.0zM295.9 489.4h3.0v3.0h-3.0zM275.3 484.7h3.0v3.0h-3.0zM311.1 495.8h3.0v3.0h-3.0zM297.7 493.2h3.0v3.0h-3.0zM290.8 493.3h3.0v3.0h-3.0zM290.0 488.2h3.0v3.0h-3.0zM283.8 495.0h3.0v3.0h-3.0zM304.0 500.1h3.0v3.0h-3.0zM288.7 493.7h3.0v3.0h-3.0zM277.2 494.2h3.0v3.0h-3.0zM303.5 495.5h3.0v3.0h-3.0zM307.6 494.3h3.0v3.0h-3.0zM277.2 491.4h3.0v3.0h-3.0zM282.6 496.6h3.0v3.0h-3.0zM283.9 483.3h3.0v3.0h-3.0zM298.1 495.6h3.0v3.0h-3.0zM287.9 489.8h3.0v3.0h-3.0zM293.8 492.9h3.0v3.0h-3.0zM289.9 496.1h3.0v3.0h-3.0zM278.8 493.9h3.0v3.0h-3.0zM284.0 487.1h3.0v3.0h-3.0zM294.7 491.3h3.0v3.0h-3.0zM282.7 493.6h3.0v3.0h-3.0zM301.8 488.5h3.0v3.0h-3.0zM300.1 491.1h3.0v3.0h-3.0zM274.4 486.9h3.0v3.0h-3.0zM286.0 494.1h3.0v3.0h-3.0zM292.6 496.4h3.0v3.0h-3.0zM282.1 492.0h3.0v3.0h-3.0zM309.7 492.6h3.0v3.0h-3.0zM278.0 494.5h3.0v3.0h-3.0zM307.3 496.2h3.0v3.0h-3.0zM282.4 501.7h3.0v3.0h-3.0zM289.6 490.2h3.0v3.0h-3.0zM281.4 488.2h3.0v3.0h-3.0zM286.2 495.5h3.0v3.0h-3.0zM289.0 495.4h3.0v3.0h-3.0zM291.2 495.7h3.0v3.0h-3.0zM298.7 496.8h3.0v3.0h-3.0zM287.3 497.3h3.0v3.0h-3.0zM308.2 491.3h3.0v3.0h-3.0zM295.3 508.0h3.0v3.0h-3.0zM284.9 493.4h3.0v3.0h-3.0zM279.6 491.0h3.0v3.0h-3.0zM277.6 500.3h3.0v3.0h-3.0zM294.6 492.0h3.0v3.0h-3.0zM283.1 497.4h3.0v3.0h-3.0zM313.0 498.2h3.0v3.0h-3.0zM292.1 492.8h3.0v3.0h-3.0zM303.4 494.2h3.0v3.0h-3.0zM299.5 499.6h3.0v3.0h-3.0zM288.7 501.0h3.0v3.0h-3.0zM286.6 496.8h3.0v3.0h-3.0zM303.2 494.7h3.0v3.0h-3.0zM308.8 492.4h3.0v3.0h-3.0zM276.6 489.3h3.0v3.0h-3.0zM275.6 502.9h3.0v3.0h-3.0zM301.4 500.8h3.0v3.0h-3.0zM286.5 494.2h3.0v3.0h-3.0zM275.1 494.1h3.0v3.0h-3.0zM289.2 494.5h3.0v3.0h-3.0zM275.7 489.0h3.0v3.0h-3.0zM291.7 495.4h3.0v3.0h-3.0zM287.1 496.0h3.0v3.0h-3.0zM284.8 486.2h3.0v3.0h-3.0zM280.8 493.0h3.0v3.0h-3.0zM289.4 496.9h3.0v3.0h-3.0zM274.4 492.9h3.0v3.0h-3.0zM298.5 490.4h3.0v3.0h-3.0zM326.4 498.8h3.0v3.0h-3.0zM278.0 490.1h3.0v3.0h-3.0zM282.9 492.6h3.0v3.0h-3.0zM301.1 488.6h3.0v3.0h-3.0zM285.8 489.0h3.0v3.0h-3.0zM279.2 496.0h3.0v3.0h-3.0zM276.8 490.2h3.0v3.0h-3.0zM299.5 486.8h3.0v3.0h-3.0zM283.9 489.5h3.0v3.0h-3.0zM296.4 496.6h3.0v3.0h-3.0zM274.4 494.2h3.0v3.0h-3.0zM292.5 485.6h3.0v3.0h-3.0zM284.1 499.6h3.0v3.0h-3.0zM279.1 496.5h3.0v3.0h-3.0zM290.9 493.7h3.0v3.0h-3.0zM282.8 493.8h3.0v3.0h-3.0zM295.2 496.0h3.0v3.0h-3.0zM282.3 491.0h3.0v3.0h-3.0zM280.8 493.5h3.0v3.0h-3.0zM283.7 498.8h3.0v3.0h-3.0zM293.9 496.2h3.0v3.0h-3.0zM275.6 484.7h3.0v3.0h-3.0zM286.6 503.4h3.0v3.0h-3.0zM299.8 491.1h3.0v3.0h-3.0zM275.1 491.3h3.0v3.0h-3.0zM282.6 492.0h3.0v3.0h-3.0zM283.8 493.1h3.0v3.0h-3.0zM294.0 489.9h3.0v3.0h-3.0zM276.7 492.9h3.0v3.0h-3.0zM282.9 493.0h3.0v3.0h-3.0zM278.7 494.6h3.0v3.0h-3.0zM300.6 490.4h3.0v3.0h-3.0zM279.9 499.7h3.0v3.0h-3.0zM315.2 499.2h3.0v3.0h-3.0zM275.9 483.7h3.0v3.0h-3.0zM274.4 494.1h3.0v3.0h-3.0zM292.1 487.2h3.0v3.0h-3.0zM281.3 492.9h3.0v3.0h-3.0zM277.0 498.0h3.0v3.0h-3.0zM288.1 489.8h3.0v3.0h-3.0zM290.6 493.8h3.0v3.0h-3.0zM283.3 486.7h3.0v3.0h-3.0zM299.8 491.9h3.0v3.0h-3.0zM293.4 494.4h3.0v3.0h-3.0zM278.7 484.9h3.0v3.0h-3.0zM281.5 495.8h3.0v3.0h-3.0zM281.7 495.5h3.0v3.0h-3.0zM300.2 494.8h3.0v3.0h-3.0zM274.7 486.6h3.0v3.0h-3.0zM280.7 498.4h3.0v3.0h-3.0zM259.4 441.0h3.0v3.0h-3.0zM261.8 387.3h3.0v3.0h-3.0zM261.3 408.4h3.0v3.0h-3.0zM260.2 390.9h3.0v3.0h-3.0zM259.7 442.4h3.0v3.0h-3.0zM260.0 413.6h3.0v3.0h-3.0zM259.5 425.1h3.0v3.0h-3.0zM254.8 445.2h3.0v3.0h-3.0zM258.2 384.1h3.0v3.0h-3.0zM266.0 454.3h3.0v3.0h-3.0zM262.5 439.5h3.0v3.0h-3.0zM263.4 378.4h3.0v3.0h-3.0zM261.2 409.2h3.0v3.0h-3.0zM261.3 380.5h3.0v3.0h-3.0zM260.7 407.0h3.0v3.0h-3.0zM262.3 456.6h3.0v3.0h-3.0zM255.8 397.3h3.0v3.0h-3.0zM260.9 395.2h3.0v3.0h-3.0zM260.4 409.7h3.0v3.0h-3.0zM261.2 400.2h3.0v3.0h-3.0zM259.8 402.8h3.0v3.0h-3.0zM260.0 453.8h3.0v3.0h-3.0zM258.3 425.7h3.0v3.0h-3.0zM259.2 426.4h3.0v3.0h-3.0zM261.9 414.0h3.0v3.0h-3.0zM262.7 395.9h3.0v3.0h-3.0zM259.5 423.8h3.0v3.0h-3.0zM259.6 454.1h3.0v3.0h-3.0zM261.8 425.9h3.0v3.0h-3.0zM257.7 449.7h3.0v3.0h-3.0zM258.3 402.3h3.0v3.0h-3.0zM262.5 417.2h3.0v3.0h-3.0zM262.4 437.8h3.0v3.0h-3.0zM257.9 448.3h3.0v3.0h-3.0zM262.4 427.8h3.0v3.0h-3.0zM260.7 440.2h3.0v3.0h-3.0zM260.5 456.2h3.0v3.0h-3.0zM255.9 435.7h3.0v3.0h-3.0zM259.2 420.3h3.0v3.0h-3.0zM258.0 388.6h3.0v3.0h-3.0zM261.0 459.4h3.0v3.0h-3.0zM261.6 437.4h3.0v3.0h-3.0zM259.9 378.7h3.0v3.0h-3.0zM259.1 397.5h3.0v3.0h-3.0zM262.4 448.9h3.0v3.0h-3.0zM257.2 386.4h3.0v3.0h-3.0zM262.5 379.4h3.0v3.0h-3.0zM267.9 415.6h3.0v3.0h-3.0zM261.2 401.0h3.0v3.0h-3.0zM256.9 410.1h3.0v3.0h-3.0zM258.5 381.5h3.0v3.0h-3.0zM261.9 388.7h3.0v3.0h-3.0zM263.2 404.1h3.0v3.0h-3.0zM257.5 434.7h3.0v3.0h-3.0zM264.2 444.8h3.0v3.0h-3.0zM259.8 415.6h3.0v3.0h-3.0zM259.5 399.9h3.0v3.0h-3.0zM261.8 429.4h3.0v3.0h-3.0zM257.0 431.0h3.0v3.0h-3.0zM260.1 437.2h3.0v3.0h-3.0zM258.4 414.9h3.0v3.0h-3.0zM261.8 456.8h3.0v3.0h-3.0zM260.4 444.5h3.0v3.0h-3.0zM260.6 402.1h3.0v3.0h-3.0zM259.4 457.4h3.0v3.0h-3.0zM263.2 395.5h3.0v3.0h-3.0zM262.7 436.2h3.0v3.0h-3.0zM259.7 379.7h3.0v3.0h-3.0zM263.2 417.8h3.0v3.0h-3.0zM259.4 400.6h3.0v3.0h-3.0zM260.3 453.5h3.0v3.0h-3.0zM264.6 446.5h3.0v3.0h-3.0zM264.3 416.6h3.0v3.0h-3.0zM257.0 423.2h3.0v3.0h-3.0zM262.9 381.6h3.0v3.0h-3.0zM260.2 405.3h3.0v3.0h-3.0zM260.9 442.3h3.0v3.0h-3.0zM265.6 427.9h3.0v3.0h-3.0zM261.2 454.3h3.0v3.0h-3.0zM261.9 442.4h3.0v3.0h-3.0zM259.8 444.3h3.0v3.0h-3.0zM258.0 421.2h3.0v3.0h-3.0zM260.8 452.7h3.0v3.0h-3.0zM260.8 439.7h3.0v3.0h-3.0zM256.1 451.7h3.0v3.0h-3.0zM259.6 455.0h3.0v3.0h-3.0zM258.2 454.1h3.0v3.0h-3.0zM261.7 380.1h3.0v3.0h-3.0zM260.9 425.4h3.0v3.0h-3.0zM258.6 391.6h3.0v3.0h-3.0zM263.7 382.7h3.0v3.0h-3.0zM262.4 387.1h3.0v3.0h-3.0zM260.8 378.4h3.0v3.0h-3.0zM261.3 455.3h3.0v3.0h-3.0zM258.4 415.2h3.0v3.0h-3.0zM260.2 423.6h3.0v3.0h-3.0zM258.9 394.4h3.0v3.0h-3.0zM262.4 460.0h3.0v3.0h-3.0zM257.5 438.2h3.0v3.0h-3.0zM261.6 400.4h3.0v3.0h-3.0zM259.1 450.8h3.0v3.0h-3.0zM260.2 400.0h3.0v3.0h-3.0zM259.7 413.3h3.0v3.0h-3.0zM259.6 435.7h3.0v3.0h-3.0zM259.4 397.8h3.0v3.0h-3.0zM263.2 458.0h3.0v3.0h-3.0zM258.6 415.0h3.0v3.0h-3.0zM264.5 459.9h3.0v3.0h-3.0zM256.1 420.2h3.0v3.0h-3.0zM258.2 435.8h3.0v3.0h-3.0zM263.4 431.8h3.0v3.0h-3.0zM261.5 381.4h3.0v3.0h-3.0zM260.9 440.6h3.0v3.0h-3.0zM260.8 394.2h3.0v3.0h-3.0zM258.1 416.3h3.0v3.0h-3.0zM261.9 457.2h3.0v3.0h-3.0zM263.4 426.2h3.0v3.0h-3.0zM260.8 404.3h3.0v3.0h-3.0zM261.5 430.5h3.0v3.0h-3.0zM263.8 413.3h3.0v3.0h-3.0zM258.1 396.3h3.0v3.0h-3.0zM263.5 383.2h3.0v3.0h-3.0zM260.9 442.7h3.0v3.0h-3.0zM262.7 438.6h3.0v3.0h-3.0zM266.2 384.6h3.0v3.0h-3.0zM263.6 385.2h3.0v3.0h-3.0zM259.9 404.6h3.0v3.0h-3.0zM261.7 445.1h3.0v3.0h-3.0zM260.8 435.8h3.0v3.0h-3.0zM261.7 447.1h3.0v3.0h-3.0zM264.7 380.4h3.0v3.0h-3.0zM259.7 407.5h3.0v3.0h-3.0zM261.5 443.2h3.0v3.0h-3.0zM256.4 445.1h3.0v3.0h-3.0zM263.3 386.6h3.0v3.0h-3.0zM259.8 458.3h3.0v3.0h-3.0zM257.1 407.4h3.0v3.0h-3.0zM265.1 433.2h3.0v3.0h-3.0zM258.9 429.1h3.0v3.0h-3.0zM260.5 394.2h3.0v3.0h-3.0zM262.2 420.3h3.0v3.0h-3.0zM264.0 440.7h3.0v3.0h-3.0zM262.5 418.5h3.0v3.0h-3.0zM257.5 411.4h3.0v3.0h-3.0zM261.2 387.2h3.0v3.0h-3.0zM262.6 403.9h3.0v3.0h-3.0zM261.0 448.6h3.0v3.0h-3.0zM260.6 445.8h3.0v3.0h-3.0zM258.9 401.3h3.0v3.0h-3.0zM260.4 423.5h3.0v3.0h-3.0zM265.8 397.5h3.0v3.0h-3.0zM261.5 426.7h3.0v3.0h-3.0zM258.9 399.6h3.0v3.0h-3.0zM261.8 451.1h3.0v3.0h-3.0zM258.2 447.4h3.0v3.0h-3.0zM262.1 406.3h3.0v3.0h-3.0zM261.6 440.6h3.0v3.0h-3.0zM261.4 394.3h3.0v3.0h-3.0zM258.6 440.8h3.0v3.0h-3.0zM258.7 412.2h3.0v3.0h-3.0zM265.3 458.7h3.0v3.0h-3.0zM261.0 415.5h3.0v3.0h-3.0zM263.1 396.5h3.0v3.0h-3.0zM258.8 393.8h3.0v3.0h-3.0zM259.6 434.4h3.0v3.0h-3.0zM261.5 454.2h3.0v3.0h-3.0zM263.5 420.0h3.0v3.0h-3.0zM257.9 391.6h3.0v3.0h-3.0zM260.9 422.7h3.0v3.0h-3.0zM258.6 388.2h3.0v3.0h-3.0zM257.9 441.5h3.0v3.0h-3.0zM259.2 447.1h3.0v3.0h-3.0zM268.9 387.5h3.0v3.0h-3.0zM261.4 402.9h3.0v3.0h-3.0zM266.8 378.5h3.0v3.0h-3.0zM259.9 391.8h3.0v3.0h-3.0zM265.1 433.5h3.0v3.0h-3.0zM261.9 395.0h3.0v3.0h-3.0zM258.8 387.3h3.0v3.0h-3.0zM260.1 452.1h3.0v3.0h-3.0zM261.0 405.7h3.0v3.0h-3.0zM263.8 457.2h3.0v3.0h-3.0zM261.0 405.4h3.0v3.0h-3.0zM261.1 407.0h3.0v3.0h-3.0zM266.5 432.2h3.0v3.0h-3.0zM256.7 447.8h3.0v3.0h-3.0zM264.9 421.0h3.0v3.0h-3.0zM260.2 394.6h3.0v3.0h-3.0zM261.9 407.7h3.0v3.0h-3.0zM258.3 405.0h3.0v3.0h-3.0zM260.7 440.9h3.0v3.0h-3.0zM263.1 395.1h3.0v3.0h-3.0zM257.9 416.4h3.0v3.0h-3.0zM265.1 409.7h3.0v3.0h-3.0zM258.5 454.6h3.0v3.0h-3.0zM261.3 425.2h3.0v3.0h-3.0zM264.6 385.7h3.0v3.0h-3.0zM252.8 403.9h3.0v3.0h-3.0zM268.3 415.8h3.0v3.0h-3.0zM261.7 396.9h3.0v3.0h-3.0zM263.8 439.1h3.0v3.0h-3.0zM260.7 457.6h3.0v3.0h-3.0zM259.8 440.2h3.0v3.0h-3.0zM259.2 406.1h3.0v3.0h-3.0zM264.0 437.1h3.0v3.0h-3.0zM258.9 388.9h3.0v3.0h-3.0zM258.5 402.7h3.0v3.0h-3.0zM262.0 424.0h3.0v3.0h-3.0zM260.5 395.3h3.0v3.0h-3.0zM258.8 435.4h3.0v3.0h-3.0zM263.2 460.1h3.0v3.0h-3.0zM261.9 459.0h3.0v3.0h-3.0zM259.1 405.1h3.0v3.0h-3.0zM266.3 447.5h3.0v3.0h-3.0zM257.0 412.9h3.0v3.0h-3.0zM260.1 405.7h3.0v3.0h-3.0zM258.5 388.3h3.0v3.0h-3.0zM257.4 419.5h3.0v3.0h-3.0zM259.5 413.9h3.0v3.0h-3.0zM262.8 406.0h3.0v3.0h-3.0zM260.5 429.1h3.0v3.0h-3.0zM260.2 452.2h3.0v3.0h-3.0zM264.1 393.1h3.0v3.0h-3.0zM261.4 410.1h3.0v3.0h-3.0zM259.2 434.3h3.0v3.0h-3.0zM263.5 458.7h3.0v3.0h-3.0zM259.4 414.9h3.0v3.0h-3.0zM259.8 459.1h3.0v3.0h-3.0zM264.1 398.7h3.0v3.0h-3.0zM259.2 424.1h3.0v3.0h-3.0zM261.9 387.2h3.0v3.0h-3.0zM255.5 447.5h3.0v3.0h-3.0zM261.1 439.2h3.0v3.0h-3.0zM259.3 396.2h3.0v3.0h-3.0zM264.0 449.1h3.0v3.0h-3.0zM261.5 447.9h3.0v3.0h-3.0zM260.9 379.7h3.0v3.0h-3.0zM258.5 439.7h3.0v3.0h-3.0zM260.9 421.7h3.0v3.0h-3.0zM256.4 387.6h3.0v3.0h-3.0zM263.9 422.9h3.0v3.0h-3.0zM255.5 434.6h3.0v3.0h-3.0zM260.0 390.6h3.0v3.0h-3.0zM259.9 428.4h3.0v3.0h-3.0zM261.7 414.2h3.0v3.0h-3.0zM258.0 455.6h3.0v3.0h-3.0zM262.5 439.4h3.0v3.0h-3.0zM260.6 448.6h3.0v3.0h-3.0zM258.5 420.5h3.0v3.0h-3.0zM263.2 383.4h3.0v3.0h-3.0zM261.7 396.6h3.0v3.0h-3.0zM262.3 444.6h3.0v3.0h-3.0zM259.2 450.5h3.0v3.0h-3.0zM259.4 447.2h3.0v3.0h-3.0zM258.2 432.4h3.0v3.0h-3.0zM264.3 426.3h3.0v3.0h-3.0zM263.4 409.3h3.0v3.0h-3.0zM258.8 388.7h3.0v3.0h-3.0zM265.3 449.5h3.0v3.0h-3.0zM266.0 394.6h3.0v3.0h-3.0zM256.2 379.1h3.0v3.0h-3.0zM262.3 408.0h3.0v3.0h-3.0zM260.2 429.8h3.0v3.0h-3.0zM256.9 424.0h3.0v3.0h-3.0zM266.3 437.5h3.0v3.0h-3.0zM260.8 447.2h3.0v3.0h-3.0zM263.2 459.3h3.0v3.0h-3.0zM264.6 394.9h3.0v3.0h-3.0zM263.9 452.3h3.0v3.0h-3.0zM262.2 385.3h3.0v3.0h-3.0zM259.4 380.9h3.0v3.0h-3.0zM260.4 433.7h3.0v3.0h-3.0zM267.0 430.7h3.0v3.0h-3.0zM259.5 444.0h3.0v3.0h-3.0zM256.4 442.8h3.0v3.0h-3.0zM260.7 442.3h3.0v3.0h-3.0zM261.4 387.4h3.0v3.0h-3.0zM261.2 382.2h3.0v3.0h-3.0zM260.0 403.2h3.0v3.0h-3.0zM263.0 390.2h3.0v3.0h-3.0zM258.7 404.7h3.0v3.0h-3.0zM263.5 439.9h3.0v3.0h-3.0zM258.2 442.9h3.0v3.0h-3.0zM262.3 387.2h3.0v3.0h-3.0zM260.6 389.6h3.0v3.0h-3.0zM262.2 447.5h3.0v3.0h-3.0zM262.6 419.4h3.0v3.0h-3.0zM263.0 395.1h3.0v3.0h-3.0zM260.9 439.0h3.0v3.0h-3.0zM260.7 395.1h3.0v3.0h-3.0zM262.0 388.1h3.0v3.0h-3.0zM262.3 454.3h3.0v3.0h-3.0zM252.8 429.3h3.0v3.0h-3.0zM261.0 430.3h3.0v3.0h-3.0zM259.9 384.0h3.0v3.0h-3.0zM257.7 458.1h3.0v3.0h-3.0zM263.4 406.6h3.0v3.0h-3.0zM259.5 420.6h3.0v3.0h-3.0zM262.2 441.7h3.0v3.0h-3.0zM261.7 458.1h3.0v3.0h-3.0zM263.2 421.8h3.0v3.0h-3.0zM263.3 391.1h3.0v3.0h-3.0zM261.1 416.0h3.0v3.0h-3.0zM257.4 438.7h3.0v3.0h-3.0zM259.8 406.0h3.0v3.0h-3.0zM256.9 436.5h3.0v3.0h-3.0zM258.2 450.1h3.0v3.0h-3.0zM264.5 413.8h3.0v3.0h-3.0zM262.1 396.6h3.0v3.0h-3.0zM256.5 428.6h3.0v3.0h-3.0zM261.4 415.6h3.0v3.0h-3.0zM258.3 402.0h3.0v3.0h-3.0zM254.9 381.0h3.0v3.0h-3.0zM259.5 459.6h3.0v3.0h-3.0zM264.8 418.7h3.0v3.0h-3.0zM265.6 384.4h3.0v3.0h-3.0zM263.6 389.2h3.0v3.0h-3.0zM255.8 403.0h3.0v3.0h-3.0zM259.1 457.8h3.0v3.0h-3.0zM262.4 435.8h3.0v3.0h-3.0zM259.3 391.7h3.0v3.0h-3.0zM260.5 438.2h3.0v3.0h-3.0zM261.5 452.1h3.0v3.0h-3.0zM266.1 406.6h3.0v3.0h-3.0zM258.8 457.3h3.0v3.0h-3.0zM262.2 404.2h3.0v3.0h-3.0zM260.1 420.7h3.0v3.0h-3.0zM262.5 395.7h3.0v3.0h-3.0zM262.5 391.2h3.0v3.0h-3.0zM260.0 422.8h3.0v3.0h-3.0zM259.8 435.8h3.0v3.0h-3.0zM266.9 432.7h3.0v3.0h-3.0zM263.5 392.3h3.0v3.0h-3.0zM258.1 432.8h3.0v3.0h-3.0zM258.9 393.1h3.0v3.0h-3.0zM262.8 419.4h3.0v3.0h-3.0zM261.0 383.3h3.0v3.0h-3.0zM259.2 437.1h3.0v3.0h-3.0zM259.6 426.4h3.0v3.0h-3.0zM257.2 448.3h3.0v3.0h-3.0zM264.0 458.1h3.0v3.0h-3.0zM260.3 384.6h3.0v3.0h-3.0zM264.9 414.9h3.0v3.0h-3.0zM258.2 392.1h3.0v3.0h-3.0zM258.1 418.4h3.0v3.0h-3.0zM257.3 393.2h3.0v3.0h-3.0zM257.9 453.0h3.0v3.0h-3.0zM256.3 416.4h3.0v3.0h-3.0zM260.3 446.6h3.0v3.0h-3.0zM265.2 441.7h3.0v3.0h-3.0zM259.5 393.4h3.0v3.0h-3.0zM258.0 439.7h3.0v3.0h-3.0zM257.8 457.5h3.0v3.0h-3.0zM259.2 394.3h3.0v3.0h-3.0zM260.9 433.6h3.0v3.0h-3.0zM262.3 436.0h3.0v3.0h-3.0zM258.6 418.6h3.0v3.0h-3.0zM262.7 450.0h3.0v3.0h-3.0zM258.0 457.4h3.0v3.0h-3.0zM262.4 444.9h3.0v3.0h-3.0zM258.1 449.9h3.0v3.0h-3.0zM260.9 442.2h3.0v3.0h-3.0zM258.9 433.5h3.0v3.0h-3.0zM258.0 400.0h3.0v3.0h-3.0zM263.1 407.2h3.0v3.0h-3.0zM262.3 429.1h3.0v3.0h-3.0zM264.1 424.6h3.0v3.0h-3.0zM265.0 383.7h3.0v3.0h-3.0zM257.5 400.7h3.0v3.0h-3.0zM261.3 420.3h3.0v3.0h-3.0zM252.8 386.5h3.0v3.0h-3.0zM258.4 415.7h3.0v3.0h-3.0zM264.9 449.2h3.0v3.0h-3.0zM259.9 403.3h3.0v3.0h-3.0zM263.1 407.6h3.0v3.0h-3.0zM258.2 404.0h3.0v3.0h-3.0zM256.9 434.8h3.0v3.0h-3.0zM261.6 392.8h3.0v3.0h-3.0zM262.5 385.5h3.0v3.0h-3.0zM261.7 383.8h3.0v3.0h-3.0zM259.6 409.7h3.0v3.0h-3.0zM263.4 399.2h3.0v3.0h-3.0zM262.9 418.4h3.0v3.0h-3.0zM261.6 410.4h3.0v3.0h-3.0zM260.6 410.5h3.0v3.0h-3.0zM257.4 402.5h3.0v3.0h-3.0zM259.2 460.3h3.0v3.0h-3.0zM263.9 432.9h3.0v3.0h-3.0zM258.8 427.5h3.0v3.0h-3.0zM262.4 381.4h3.0v3.0h-3.0zM258.0 397.6h3.0v3.0h-3.0zM264.2 455.5h3.0v3.0h-3.0zM260.4 460.2h3.0v3.0h-3.0zM262.1 417.1h3.0v3.0h-3.0zM258.9 414.6h3.0v3.0h-3.0zM258.0 448.2h3.0v3.0h-3.0zM260.5 445.9h3.0v3.0h-3.0zM257.7 426.5h3.0v3.0h-3.0zM265.8 394.7h3.0v3.0h-3.0zM260.0 392.3h3.0v3.0h-3.0zM263.8 383.0h3.0v3.0h-3.0zM259.0 382.6h3.0v3.0h-3.0zM258.1 452.3h3.0v3.0h-3.0zM262.5 404.6h3.0v3.0h-3.0zM264.2 397.2h3.0v3.0h-3.0zM258.9 443.8h3.0v3.0h-3.0zM257.7 435.4h3.0v3.0h-3.0zM260.5 422.3h3.0v3.0h-3.0zM260.3 428.5h3.0v3.0h-3.0zM266.5 378.8h3.0v3.0h-3.0zM260.0 393.5h3.0v3.0h-3.0zM260.2 414.1h3.0v3.0h-3.0zM267.0 395.6h3.0v3.0h-3.0zM261.5 451.9h3.0v3.0h-3.0zM258.0 440.0h3.0v3.0h-3.0zM262.8 440.4h3.0v3.0h-3.0zM261.9 388.9h3.0v3.0h-3.0zM259.0 390.1h3.0v3.0h-3.0zM262.5 439.3h3.0v3.0h-3.0zM256.9 398.5h3.0v3.0h-3.0zM257.6 453.1h3.0v3.0h-3.0zM258.9 416.7h3.0v3.0h-3.0zM266.2 396.1h3.0v3.0h-3.0zM262.8 402.7h3.0v3.0h-3.0zM263.6 436.8h3.0v3.0h-3.0zM264.8 394.3h3.0v3.0h-3.0zM261.9 432.7h3.0v3.0h-3.0zM265.3 446.9h3.0v3.0h-3.0zM262.7 448.5h3.0v3.0h-3.0zM260.1 449.8h3.0v3.0h-3.0zM263.0 425.6h3.0v3.0h-3.0zM261.3 402.5h3.0v3.0h-3.0zM259.8 378.2h3.0v3.0h-3.0zM257.6 404.9h3.0v3.0h-3.0zM258.2 401.4h3.0v3.0h-3.0zM260.5 422.5h3.0v3.0h-3.0zM264.1 436.9h3.0v3.0h-3.0zM257.3 403.5h3.0v3.0h-3.0zM257.6 395.5h3.0v3.0h-3.0zM262.1 387.6h3.0v3.0h-3.0zM263.1 388.1h3.0v3.0h-3.0zM262.0 424.3h3.0v3.0h-3.0zM258.6 404.4h3.0v3.0h-3.0zM257.2 459.3h3.0v3.0h-3.0zM260.0 422.1h3.0v3.0h-3.0zM259.9 426.6h3.0v3.0h-3.0zM256.0 444.2h3.0v3.0h-3.0zM265.3 413.8h3.0v3.0h-3.0zM259.5 400.8h3.0v3.0h-3.0zM257.7 438.6h3.0v3.0h-3.0zM263.5 409.8h3.0v3.0h-3.0zM261.7 413.9h3.0v3.0h-3.0zM259.3 378.7h3.0v3.0h-3.0zM259.5 445.0h3.0v3.0h-3.0zM263.4 419.8h3.0v3.0h-3.0zM258.5 404.3h3.0v3.0h-3.0zM263.9 425.5h3.0v3.0h-3.0zM261.5 387.0h3.0v3.0h-3.0zM260.8 388.6h3.0v3.0h-3.0zM261.3 440.2h3.0v3.0h-3.0zM260.8 409.4h3.0v3.0h-3.0zM260.1 436.2h3.0v3.0h-3.0zM256.7 443.3h3.0v3.0h-3.0zM262.6 459.2h3.0v3.0h-3.0zM256.4 409.2h3.0v3.0h-3.0zM259.9 406.8h3.0v3.0h-3.0zM259.9 455.2h3.0v3.0h-3.0zM258.0 428.7h3.0v3.0h-3.0zM261.9 420.1h3.0v3.0h-3.0zM263.0 439.4h3.0v3.0h-3.0zM261.0 441.6h3.0v3.0h-3.0zM257.5 440.5h3.0v3.0h-3.0zM256.8 382.3h3.0v3.0h-3.0zM266.3 412.0h3.0v3.0h-3.0zM257.1 460.1h3.0v3.0h-3.0zM261.5 447.3h3.0v3.0h-3.0zM259.9 441.8h3.0v3.0h-3.0zM264.9 440.4h3.0v3.0h-3.0zM257.4 454.2h3.0v3.0h-3.0zM264.0 405.1h3.0v3.0h-3.0zM259.9 381.8h3.0v3.0h-3.0zM262.9 382.4h3.0v3.0h-3.0zM258.2 433.0h3.0v3.0h-3.0zM254.6 397.8h3.0v3.0h-3.0zM259.1 389.7h3.0v3.0h-3.0zM257.9 418.7h3.0v3.0h-3.0zM263.0 409.1h3.0v3.0h-3.0zM259.5 397.1h3.0v3.0h-3.0zM260.2 412.7h3.0v3.0h-3.0zM262.6 411.7h3.0v3.0h-3.0zM260.2 451.4h3.0v3.0h-3.0zM259.6 389.6h3.0v3.0h-3.0zM260.6 412.5h3.0v3.0h-3.0zM259.4 448.5h3.0v3.0h-3.0zM260.9 435.3h3.0v3.0h-3.0zM262.9 387.3h3.0v3.0h-3.0zM260.0 412.8h3.0v3.0h-3.0zM264.7 433.1h3.0v3.0h-3.0zM262.0 452.8h3.0v3.0h-3.0zM256.3 412.4h3.0v3.0h-3.0zM258.5 412.0h3.0v3.0h-3.0zM263.0 415.5h3.0v3.0h-3.0zM261.8 398.0h3.0v3.0h-3.0zM258.5 441.6h3.0v3.0h-3.0zM264.0 387.5h3.0v3.0h-3.0zM261.8 384.6h3.0v3.0h-3.0zM263.9 440.3h3.0v3.0h-3.0zM261.3 400.6h3.0v3.0h-3.0zM259.9 408.2h3.0v3.0h-3.0zM261.6 445.9h3.0v3.0h-3.0zM260.4 409.7h3.0v3.0h-3.0zM256.7 456.0h3.0v3.0h-3.0zM259.1 418.1h3.0v3.0h-3.0zM256.2 415.4h3.0v3.0h-3.0zM258.0 387.5h3.0v3.0h-3.0zM259.6 385.2h3.0v3.0h-3.0zM255.9 426.1h3.0v3.0h-3.0zM263.3 383.8h3.0v3.0h-3.0zM260.5 409.0h3.0v3.0h-3.0zM259.6 439.2h3.0v3.0h-3.0zM262.5 444.3h3.0v3.0h-3.0zM256.2 430.6h3.0v3.0h-3.0zM257.0 389.1h3.0v3.0h-3.0zM263.4 434.5h3.0v3.0h-3.0zM257.7 395.5h3.0v3.0h-3.0zM264.2 382.0h3.0v3.0h-3.0zM259.6 451.5h3.0v3.0h-3.0zM258.5 431.2h3.0v3.0h-3.0zM263.4 395.3h3.0v3.0h-3.0zM259.6 426.0h3.0v3.0h-3.0zM258.4 410.6h3.0v3.0h-3.0zM259.3 454.5h3.0v3.0h-3.0zM262.8 427.2h3.0v3.0h-3.0zM259.1 415.1h3.0v3.0h-3.0zM258.3 459.9h3.0v3.0h-3.0zM267.0 439.3h3.0v3.0h-3.0zM261.2 417.6h3.0v3.0h-3.0zM263.0 414.9h3.0v3.0h-3.0zM257.3 403.4h3.0v3.0h-3.0zM258.6 442.6h3.0v3.0h-3.0zM260.7 418.5h3.0v3.0h-3.0zM265.5 383.5h3.0v3.0h-3.0zM262.9 440.0h3.0v3.0h-3.0zM263.1 419.7h3.0v3.0h-3.0zM263.5 426.1h3.0v3.0h-3.0zM260.9 452.0h3.0v3.0h-3.0zM260.7 455.1h3.0v3.0h-3.0zM264.0 382.0h3.0v3.0h-3.0zM256.5 419.6h3.0v3.0h-3.0zM259.5 454.7h3.0v3.0h-3.0zM261.0 396.5h3.0v3.0h-3.0zM260.0 420.5h3.0v3.0h-3.0zM257.0 415.5h3.0v3.0h-3.0zM256.3 405.3h3.0v3.0h-3.0zM255.8 436.9h3.0v3.0h-3.0zM260.4 457.9h3.0v3.0h-3.0zM257.9 408.3h3.0v3.0h-3.0zM264.4 455.7h3.0v3.0h-3.0zM258.4 402.0h3.0v3.0h-3.0zM259.4 422.7h3.0v3.0h-3.0zM261.4 396.6h3.0v3.0h-3.0zM257.8 429.3h3.0v3.0h-3.0zM260.5 408.9h3.0v3.0h-3.0zM260.0 403.8h3.0v3.0h-3.0zM254.6 446.9h3.0v3.0h-3.0zM260.4 441.4h3.0v3.0h-3.0zM258.4 409.4h3.0v3.0h-3.0zM256.7 457.7h3.0v3.0h-3.0zM258.3 388.0h3.0v3.0h-3.0zM263.0 453.9h3.0v3.0h-3.0zM260.5 442.4h3.0v3.0h-3.0zM264.4 456.4h3.0v3.0h-3.0zM259.0 434.9h3.0v3.0h-3.0zM264.8 417.7h3.0v3.0h-3.0zM259.5 433.7h3.0v3.0h-3.0zM264.6 428.9h3.0v3.0h-3.0zM258.1 427.4h3.0v3.0h-3.0zM259.8 425.4h3.0v3.0h-3.0zM262.2 413.7h3.0v3.0h-3.0zM257.5 447.2h3.0v3.0h-3.0zM258.8 437.3h3.0v3.0h-3.0zM257.7 394.9h3.0v3.0h-3.0zM264.0 379.0h3.0v3.0h-3.0zM260.1 433.6h3.0v3.0h-3.0zM259.6 436.5h3.0v3.0h-3.0zM260.7 399.5h3.0v3.0h-3.0zM261.8 401.7h3.0v3.0h-3.0zM258.3 378.2h3.0v3.0h-3.0zM262.5 418.9h3.0v3.0h-3.0zM261.3 421.6h3.0v3.0h-3.0zM263.7 386.8h3.0v3.0h-3.0zM265.7 425.1h3.0v3.0h-3.0zM259.2 422.3h3.0v3.0h-3.0zM262.5 430.6h3.0v3.0h-3.0zM262.7 395.7h3.0v3.0h-3.0zM259.8 412.0h3.0v3.0h-3.0zM261.5 392.5h3.0v3.0h-3.0zM264.9 416.8h3.0v3.0h-3.0zM259.5 382.2h3.0v3.0h-3.0zM262.2 443.4h3.0v3.0h-3.0zM261.5 378.0h3.0v3.0h-3.0zM262.6 374.4h3.0v3.0h-3.0zM263.5 369.9h3.0v3.0h-3.0zM265.7 375.2h3.0v3.0h-3.0zM262.5 368.5h3.0v3.0h-3.0zM260.4 376.4h3.0v3.0h-3.0zM264.4 373.1h3.0v3.0h-3.0zM261.8 371.8h3.0v3.0h-3.0zM264.5 368.5h3.0v3.0h-3.0zM262.5 372.8h3.0v3.0h-3.0zM265.0 376.6h3.0v3.0h-3.0zM262.1 376.0h3.0v3.0h-3.0zM262.5 374.8h3.0v3.0h-3.0zM263.2 376.6h3.0v3.0h-3.0zM267.7 401.8h3.0v3.0h-3.0zM258.8 439.0h3.0v3.0h-3.0zM258.2 449.1h3.0v3.0h-3.0zM257.4 391.8h3.0v3.0h-3.0zM268.0 458.0h3.0v3.0h-3.0zM261.3 445.6h3.0v3.0h-3.0zM262.2 421.1h3.0v3.0h-3.0zM265.8 431.3h3.0v3.0h-3.0zM257.3 454.3h3.0v3.0h-3.0zM259.9 425.7h3.0v3.0h-3.0zM250.8 429.5h3.0v3.0h-3.0zM256.5 439.5h3.0v3.0h-3.0zM261.3 436.0h3.0v3.0h-3.0zM258.2 400.2h3.0v3.0h-3.0zM261.4 394.3h3.0v3.0h-3.0zM252.5 396.5h3.0v3.0h-3.0zM260.5 405.6h3.0v3.0h-3.0zM266.7 429.3h3.0v3.0h-3.0zM256.3 404.1h3.0v3.0h-3.0zM260.3 449.6h3.0v3.0h-3.0zM258.8 438.6h3.0v3.0h-3.0zM259.2 392.8h3.0v3.0h-3.0zM258.5 422.9h3.0v3.0h-3.0zM261.8 413.4h3.0v3.0h-3.0zM266.1 387.5h3.0v3.0h-3.0zM245.8 434.8h3.0v3.0h-3.0zM263.4 456.4h3.0v3.0h-3.0zM268.1 455.0h3.0v3.0h-3.0zM272.3 394.2h3.0v3.0h-3.0zM259.8 432.6h3.0v3.0h-3.0zM265.9 425.9h3.0v3.0h-3.0zM264.1 427.1h3.0v3.0h-3.0zM261.0 427.0h3.0v3.0h-3.0zM267.9 427.5h3.0v3.0h-3.0zM254.3 421.3h3.0v3.0h-3.0zM255.0 389.1h3.0v3.0h-3.0zM254.8 382.9h3.0v3.0h-3.0zM261.1 440.3h3.0v3.0h-3.0zM263.7 439.2h3.0v3.0h-3.0zM269.9 438.5h3.0v3.0h-3.0zM269.1 391.3h3.0v3.0h-3.0zM250.9 424.5h3.0v3.0h-3.0zM255.7 458.0h3.0v3.0h-3.0zM268.2 434.2h3.0v3.0h-3.0zM272.9 393.4h3.0v3.0h-3.0zM268.5 388.8h3.0v3.0h-3.0zM257.9 429.0h3.0v3.0h-3.0zM246.0 376.4h3.0v3.0h-3.0zM255.0 378.4h3.0v3.0h-3.0zM268.8 398.1h3.0v3.0h-3.0zM263.6 439.2h3.0v3.0h-3.0zM259.5 447.2h3.0v3.0h-3.0zM250.4 399.4h3.0v3.0h-3.0zM259.9 425.4h3.0v3.0h-3.0zM266.1 384.2h3.0v3.0h-3.0zM263.2 384.6h3.0v3.0h-3.0zM245.4 433.0h3.0v3.0h-3.0zM261.9 435.5h3.0v3.0h-3.0zM263.8 408.6h3.0v3.0h-3.0zM256.3 397.9h3.0v3.0h-3.0zM257.4 416.5h3.0v3.0h-3.0zM256.3 451.6h3.0v3.0h-3.0zM261.6 419.2h3.0v3.0h-3.0zM267.0 425.0h3.0v3.0h-3.0zM259.4 441.2h3.0v3.0h-3.0zM253.1 428.0h3.0v3.0h-3.0zM255.5 428.1h3.0v3.0h-3.0zM256.1 455.7h3.0v3.0h-3.0zM249.2 415.9h3.0v3.0h-3.0zM266.3 431.7h3.0v3.0h-3.0zM260.7 419.1h3.0v3.0h-3.0zM259.7 455.1h3.0v3.0h-3.0zM260.1 417.6h3.0v3.0h-3.0zM259.0 382.4h3.0v3.0h-3.0zM268.0 410.2h3.0v3.0h-3.0zM250.8 417.3h3.0v3.0h-3.0zM262.4 425.4h3.0v3.0h-3.0zM262.4 425.2h3.0v3.0h-3.0zM270.6 389.3h3.0v3.0h-3.0zM259.5 381.6h3.0v3.0h-3.0zM262.0 393.6h3.0v3.0h-3.0zM252.8 386.9h3.0v3.0h-3.0zM258.9 400.8h3.0v3.0h-3.0zM254.3 421.7h3.0v3.0h-3.0zM267.8 426.6h3.0v3.0h-3.0zM264.1 436.0h3.0v3.0h-3.0zM266.5 381.7h3.0v3.0h-3.0zM248.8 451.8h3.0v3.0h-3.0zM267.1 383.8h3.0v3.0h-3.0zM265.6 386.2h3.0v3.0h-3.0zM250.1 413.4h3.0v3.0h-3.0zM260.8 402.9h3.0v3.0h-3.0zM254.1 408.6h3.0v3.0h-3.0zM255.2 432.6h3.0v3.0h-3.0zM260.5 384.5h3.0v3.0h-3.0zM266.9 412.7h3.0v3.0h-3.0zM257.8 390.1h3.0v3.0h-3.0zM268.5 413.4h3.0v3.0h-3.0zM272.5 414.3h3.0v3.0h-3.0zM263.7 424.2h3.0v3.0h-3.0zM255.4 444.5h3.0v3.0h-3.0zM257.1 450.8h3.0v3.0h-3.0zM254.3 410.4h3.0v3.0h-3.0zM271.6 421.6h3.0v3.0h-3.0zM264.5 377.2h3.0v3.0h-3.0zM258.8 453.3h3.0v3.0h-3.0zM260.5 424.7h3.0v3.0h-3.0zM265.8 410.9h3.0v3.0h-3.0zM266.4 411.0h3.0v3.0h-3.0zM273.1 449.6h3.0v3.0h-3.0zM259.8 405.2h3.0v3.0h-3.0zM256.2 418.8h3.0v3.0h-3.0zM257.9 400.1h3.0v3.0h-3.0zM269.9 443.9h3.0v3.0h-3.0zM252.8 449.0h3.0v3.0h-3.0zM266.9 383.5h3.0v3.0h-3.0zM272.6 395.1h3.0v3.0h-3.0zM261.3 442.0h3.0v3.0h-3.0zM254.0 434.1h3.0v3.0h-3.0zM266.5 414.6h3.0v3.0h-3.0zM257.0 384.4h3.0v3.0h-3.0zM274.5 377.9h3.0v3.0h-3.0zM261.0 409.3h3.0v3.0h-3.0zM257.4 440.1h3.0v3.0h-3.0zM268.6 385.3h3.0v3.0h-3.0zM252.2 400.3h3.0v3.0h-3.0zM256.0 457.8h3.0v3.0h-3.0zM251.4 431.0h3.0v3.0h-3.0zM255.0 428.9h3.0v3.0h-3.0zM262.5 427.4h3.0v3.0h-3.0zM257.5 470.5h3.0v3.0h-3.0zM254.9 469.1h3.0v3.0h-3.0zM259.3 460.9h3.0v3.0h-3.0zM257.2 468.3h3.0v3.0h-3.0zM260.8 462.7h3.0v3.0h-3.0zM259.4 464.1h3.0v3.0h-3.0zM259.1 473.4h3.0v3.0h-3.0zM262.3 468.4h3.0v3.0h-3.0zM263.4 467.5h3.0v3.0h-3.0zM259.3 461.7h3.0v3.0h-3.0zM263.7 467.1h3.0v3.0h-3.0zM258.4 464.3h3.0v3.0h-3.0zM259.9 472.0h3.0v3.0h-3.0zM258.3 466.1h3.0v3.0h-3.0zM260.0 467.6h3.0v3.0h-3.0zM261.8 466.0h3.0v3.0h-3.0zM259.7 472.9h3.0v3.0h-3.0zM256.3 470.1h3.0v3.0h-3.0zM262.3 464.2h3.0v3.0h-3.0zM257.3 469.0h3.0v3.0h-3.0zM259.6 472.5h3.0v3.0h-3.0zM261.1 467.3h3.0v3.0h-3.0zM258.6 465.6h3.0v3.0h-3.0zM263.1 460.8h3.0v3.0h-3.0zM257.8 461.6h3.0v3.0h-3.0zM263.7 474.1h3.0v3.0h-3.0zM258.7 463.6h3.0v3.0h-3.0zM260.7 470.4h3.0v3.0h-3.0zM256.4 472.4h3.0v3.0h-3.0zM261.9 463.8h3.0v3.0h-3.0zM258.5 460.4h3.0v3.0h-3.0zM262.9 467.8h3.0v3.0h-3.0zM259.2 474.4h3.0v3.0h-3.0zM261.5 473.3h3.0v3.0h-3.0zM260.3 472.0h3.0v3.0h-3.0zM262.5 460.8h3.0v3.0h-3.0zM259.7 474.1h3.0v3.0h-3.0zM258.9 471.4h3.0v3.0h-3.0zM255.4 462.7h3.0v3.0h-3.0zM262.7 466.9h3.0v3.0h-3.0zM261.9 462.9h3.0v3.0h-3.0zM263.2 467.9h3.0v3.0h-3.0zM258.6 472.1h3.0v3.0h-3.0zM266.4 461.1h3.0v3.0h-3.0zM256.5 461.5h3.0v3.0h-3.0zM291.5 375.5h3.0v3.0h-3.0zM298.5 386.8h3.0v3.0h-3.0zM308.4 388.9h3.0v3.0h-3.0zM344.0 394.4h3.0v3.0h-3.0zM357.5 398.2h3.0v3.0h-3.0zM302.3 411.9h3.0v3.0h-3.0zM333.5 414.9h3.0v3.0h-3.0zM364.5 418.9h3.0v3.0h-3.0zM279.2 416.3h3.0v3.0h-3.0zM286.0 422.4h3.0v3.0h-3.0zM298.5 421.9h3.0v3.0h-3.0zM336.5 421.3h3.0v3.0h-3.0zM326.3 424.8h3.0v3.0h-3.0zM281.3 427.6h3.0v3.0h-3.0zM282.7 429.7h3.0v3.0h-3.0zM307.2 430.3h3.0v3.0h-3.0zM336.5 433.3h3.0v3.0h-3.0zM311.1 435.9h3.0v3.0h-3.0zM318.9 435.9h3.0v3.0h-3.0zM324.7 435.9h3.0v3.0h-3.0zM311.1 441.1h3.0v3.0h-3.0zM319.3 440.6h3.0v3.0h-3.0zM343.5 447.8h3.0v3.0h-3.0zM353.6 450.4h3.0v3.0h-3.0zM304.6 450.4h3.0v3.0h-3.0zM311.9 451.6h3.0v3.0h-3.0zM315.4 451.3h3.0v3.0h-3.0zM329.5 451.3h3.0v3.0h-3.0zM277.8 451.3h3.0v3.0h-3.0zM296.7 460.4h3.0v3.0h-3.0zM295.3 463.9h3.0v3.0h-3.0zM333.5 459.5h3.0v3.0h-3.0zM332.1 464.8h3.0v3.0h-3.0zM342.1 466.5h3.0v3.0h-3.0zM309.3 468.3h3.0v3.0h-3.0zM322.4 470.4h3.0v3.0h-3.0zM332.1 470.9h3.0v3.0h-3.0zM348.2 471.8h3.0v3.0h-3.0zM358.0 470.4h3.0v3.0h-3.0zM315.4 473.5h3.0v3.0h-3.0zM328.2 477.0h3.0v3.0h-3.0zM293.6 471.8h3.0v3.0h-3.0zM284.8 474.4h3.0v3.0h-3.0zM283.9 476.2h3.0v3.0h-3.0zM289.2 477.9h3.0v3.0h-3.0zM310.2 479.7h3.0v3.0h-3.0zM318.9 480.5h3.0v3.0h-3.0zM297.1 480.5h3.0v3.0h-3.0zM344.0 483.2h3.0v3.0h-3.0zM344.3 489.3h3.0v3.0h-3.0zM301.4 483.2h3.0v3.0h-3.0zM303.2 484.9h3.0v3.0h-3.0zM313.7 484.9h3.0v3.0h-3.0zM324.2 488.4h3.0v3.0h-3.0zM309.3 489.3h3.0v3.0h-3.0zM314.6 491.0h3.0v3.0h-3.0zM319.5 490.5h3.0v3.0h-3.0zM325.1 491.0h3.0v3.0h-3.0zM327.2 496.3h3.0v3.0h-3.0zM304.9 497.2h3.0v3.0h-3.0zM316.3 498.9h3.0v3.0h-3.0zM320.7 499.8h3.0v3.0h-3.0zM328.6 501.6h3.0v3.0h-3.0zM332.1 504.5h3.0v3.0h-3.0zM307.2 505.9h3.0v3.0h-3.0zM312.8 504.2h3.0v3.0h-3.0zM318.1 503.3h3.0v3.0h-3.0zM319.8 505.9h3.0v3.0h-3.0zM318.9 510.8h3.0v3.0h-3.0zM325.1 508.6h3.0v3.0h-3.0zM328.6 512.9h3.0v3.0h-3.0zM323.3 513.8h3.0v3.0h-3.0zM335.1 511.2h3.0v3.0h-3.0zM342.9 510.7h3.0v3.0h-3.0zM270.8 518.5h3.0v3.0h-3.0zM262.9 523.4h3.0v3.0h-3.0zM351.3 524.3h3.0v3.0h-3.0zM242.8 413.1h3.0v3.0h-3.0zM246.3 403.5h3.0v3.0h-3.0zM249.8 396.1h3.0v3.0h-3.0zM252.4 380.7h3.0v3.0h-3.0zM247.1 429.7h3.0v3.0h-3.0zM249.8 434.1h3.0v3.0h-3.0zM251.5 445.5h3.0v3.0h-3.0zM246.3 479.3h3.0v3.0h-3.0zM244.5 489.8h3.0v3.0h-3.0zM245.4 501.6h3.0v3.0h-3.0zM245.4 509.4h3.0v3.0h-3.0zM248.0 505.9h3.0v3.0h-3.0z" fill="#000"/>
<rect x="241.2" y="338.5" width="36.0" height="124.5" fill="none" stroke="#000" stroke-width="1.3"/>
<line x1="271" y1="371" x2="457" y2="371" stroke="#000" stroke-width="3.3" />
<path d="M455 361.5L467.5 371L455 380.5z" fill="#000"/>
<text x="284.66" y="360.90000000000003" font-size="18.88">2.16</text>
<text x="301.68" y="560.8000000000001" font-size="17.08">Decoy</text>
<text x="214.6" y="471.08" font-size="16.68" transform="rotate(-90 214.6 471.08)">Spike-PE</text>
<rect x="495.5" y="74.8" width="196.79999999999995" height="196.5" fill="none" stroke="#4d4d4d" stroke-width="1"/>
<path d="M495.5 271.0h-5.8M495.5 271.6h-5.8M495.5 257.2h-3M495.5 243.2h-3M495.5 228.8h-5.8M495.5 229.4h-5.8M495.5 215.0h-3M495.5 201.0h-3M495.5 186.6h-5.8M495.5 187.2h-5.8M495.5 172.8h-3M495.5 158.7h-3M495.5 144.4h-5.8M495.5 145.0h-5.8M495.5 130.6h-3M495.5 116.5h-3M495.5 102.2h-5.8M495.5 102.8h-5.8M495.5 88.4h-3" stroke="#000" stroke-width="1.4" fill="none" />
<path d="M498.0 271.3v5.5M498.6 271.3v5.5M524.0 271.3v5.5M524.6 271.3v5.5M551.0 271.3v5.5M551.6 271.3v5.5M578.0 271.3v5.5M578.6 271.3v5.5M628.0 271.3v5.5M628.6 271.3v5.5M672.0 271.3v5.5M672.6 271.3v5.5M505.8 271.3v2.5M510.4 271.3v2.5M513.7 271.3v2.5M516.2 271.3v2.5M518.2 271.3v2.5M520.0 271.3v2.5M521.5 271.3v2.5M522.8 271.3v2.5M532.1 271.3v2.5M536.9 271.3v2.5M540.3 271.3v2.5M542.9 271.3v2.5M545.0 271.3v2.5M546.8 271.3v2.5M548.4 271.3v2.5M549.8 271.3v2.5M559.1 271.3v2.5M563.9 271.3v2.5M567.3 271.3v2.5M569.9 271.3v2.5M572.0 271.3v2.5M573.8 271.3v2.5M575.4 271.3v2.5M576.8 271.3v2.5M593.1 271.3v2.5M601.9 271.3v2.5M608.1 271.3v2.5M612.9 271.3v2.5M616.9 271.3v2.5M620.3 271.3v2.5M623.2 271.3v2.5M625.7 271.3v2.5M641.2 271.3v2.5M649.0 271.3v2.5M654.5 271.3v2.5M658.8 271.3v2.5M662.2 271.3v2.5M665.2 271.3v2.5M667.7 271.3v2.5M670.0 271.3v2.5" stroke="#000" stroke-width="1.2" fill="none" />
<path d="M528 271.3v4M531 271.3v4M534 271.3v4M537 271.3v4" stroke="#000" stroke-width="1.2" fill="none" />
<path d="M495.5 270.3 L505.5 268.7 L513.7 260.4 L518.5 250.9 L520.8 232.0 L523.2 203.7 L525.6 184.8 L529.1 168.2 L532.6 149.3 L536.2 155.2 L538.6 163.5 L540.9 177.7 L543.3 194.2 L545.7 202.5 L549.2 208.4 L551.6 222.6 L555.1 236.8 L558.7 246.2 L562.2 258.0 L565.7 267.5 L571.7 268.9 L578.7 269.9 L602.4 269.9 L616.6 268.0 L621.3 265.1 L626.0 258.0 L630.8 253.3 L634.3 246.2 L636.7 236.8 L639.0 233.2 L641.4 236.8 L644.5 242.7 L647.3 237.9 L649.7 236.8 L652.0 239.1 L655.6 247.4 L659.1 254.5 L663.9 261.6 L668.6 264.7 L673.3 266.3 L678.0 268.7 L691.7 270.3" stroke="#000" stroke-width="4.1" fill="none" stroke-linejoin="round" stroke-linecap="round"/>
<line x1="495.5" y1="227.77777777777777" x2="583.9479905437352" y2="227.77777777777777" stroke="#000" stroke-width="1.3" />
<line x1="583.9479905437352" y1="223.77777777777777" x2="583.9479905437352" y2="241.9432624113475" stroke="#000" stroke-width="1.3" />
<line x1="583.9479905437352" y1="237.9432624113475" x2="692.3" y2="237.9432624113475" stroke="#000" stroke-width="1.3" />
<line x1="691.8" y1="232.9432624113475" x2="691.8" y2="242.9432624113475" stroke="#000" stroke-width="1.3" />
<path d="M616.0992907801418 237.9432624113475V212.6477541371158H738" stroke="#000" stroke-width="3.3" fill="none" />
<path d="M736 203.1477541371158L748.5 212.6477541371158L736 222.1477541371158z" fill="#000"/>
<text x="498.56" y="102.5" font-size="18.88">74.6</text>
<text x="633.35" y="102.5" font-size="19.02">25.4</text>
<text x="547.94" y="304.0" font-size="16.85">Wuhan-RBD-PE-CF594</text>
<rect x="495.5" y="331.6" width="196.79999999999995" height="196.5" fill="none" stroke="#4d4d4d" stroke-width="1"/>
<path d="M495.5 527.8h-5.8M495.5 528.4h-5.8M495.5 512.5h-3M495.5 496.9h-3M495.5 481.1h-5.8M495.5 481.7h-5.8M495.5 465.8h-3M495.5 450.2h-3M495.5 434.3h-5.8M495.5 434.9h-5.8M495.5 419.0h-3M495.5 403.5h-3M495.5 387.6h-5.8M495.5 388.2h-5.8M495.5 372.3h-3M495.5 356.7h-3M495.5 340.8h-5.8M495.5 341.4h-5.8" stroke="#000" stroke-width="1.4" fill="none" />
<path d="M498.0 528.1v5.5M498.6 528.1v5.5M524.0 528.1v5.5M524.6 528.1v5.5M551.0 528.1v5.5M551.6 528.1v5.5M578.0 528.1v5.5M578.6 528.1v5.5M628.0 528.1v5.5M628.6 528.1v5.5M672.0 528.1v5.5M672.6 528.1v5.5M505.8 528.1v2.5M510.4 528.1v2.5M513.7 528.1v2.5M516.2 528.1v2.5M518.2 528.1v2.5M520.0 528.1v2.5M521.5 528.1v2.5M522.8 528.1v2.5M532.1 528.1v2.5M536.9 528.1v2.5M540.3 528.1v2.5M542.9 528.1v2.5M545.0 528.1v2.5M546.8 528.1v2.5M548.4 528.1v2.5M549.8 528.1v2.5M559.1 528.1v2.5M563.9 528.1v2.5M567.3 528.1v2.5M569.9 528.1v2.5M572.0 528.1v2.5M573.8 528.1v2.5M575.4 528.1v2.5M576.8 528.1v2.5M593.1 528.1v2.5M601.9 528.1v2.5M608.1 528.1v2.5M612.9 528.1v2.5M616.9 528.1v2.5M620.3 528.1v2.5M623.2 528.1v2.5M625.7 528.1v2.5M641.2 528.1v2.5M649.0 528.1v2.5M654.5 528.1v2.5M658.8 528.1v2.5M662.2 528.1v2.5M665.2 528.1v2.5M667.7 528.1v2.5M670.0 528.1v2.5" stroke="#000" stroke-width="1.2" fill="none" />
<path d="M528 528.1v4M531 528.1v4M534 528.1v4M537 528.1v4" stroke="#000" stroke-width="1.2" fill="none" />
<path d="M494.5 527.5 L504.3 526.7 L510.4 521.8 L515.3 513.2 L519.0 496.1 L522.7 471.6 L526.4 442.2 L530.0 415.2 L532.5 405.9 L535.0 415.2 L537.4 437.3 L540.6 459.3 L543.5 466.7 L547.2 476.5 L550.9 496.1 L554.6 510.8 L559.5 518.1 L565.6 524.3 L572.9 527.2 L597.5 527.2 L604.8 526.0 L610.9 521.8 L617.1 515.7 L620.7 511.3 L624.4 509.6 L628.1 501.0 L631.3 496.1 L635.4 497.3 L639.1 494.9 L641.6 494.9 L644.5 501.0 L647.7 504.7 L651.4 507.1 L655.0 511.3 L658.7 514.5 L662.4 520.6 L666.1 525.5 L671.0 527.5 L691.8 527.5" stroke="#000" stroke-width="4.1" fill="none" stroke-linejoin="round" stroke-linecap="round"/>
<line x1="495.5" y1="484.55882352941177" x2="583.4803921568628" y2="484.55882352941177" stroke="#000" stroke-width="1.3" />
<line x1="583.4803921568628" y1="480.55882352941177" x2="583.4803921568628" y2="498.11764705882354" stroke="#000" stroke-width="1.3" />
<line x1="583.4803921568628" y1="494.11764705882354" x2="692.3" y2="494.11764705882354" stroke="#000" stroke-width="1.3" />
<line x1="691.8" y1="489.11764705882354" x2="691.8" y2="499.11764705882354" stroke="#000" stroke-width="1.3" />
<path d="M615.8333333333334 494.11764705882354V468.62745098039215H738" stroke="#000" stroke-width="3.3" fill="none" />
<path d="M736 459.12745098039215L748.5 468.62745098039215L736 478.12745098039215z" fill="#000"/>
<text x="498.56" y="359.3" font-size="18.85">70.0</text>
<text x="633.54" y="359.3" font-size="19.02">30.0</text>
<text x="547.94" y="563.5" font-size="16.85">Wuhan-RBD-PE-CF594</text>
<rect x="818.3" y="75.6" width="195.9000000000001" height="196.79999999999998" fill="none" stroke="#4d4d4d" stroke-width="1"/>
<path d="M818.3 193.6h-5.5M818.3 194.2h-5.5M818.3 143.6h-5.5M818.3 144.2h-5.5M818.3 92.1h-5.5M818.3 92.7h-5.5M818.3 178.5h-2.5M818.3 169.7h-2.5M818.3 163.5h-2.5M818.3 158.7h-2.5M818.3 154.7h-2.5M818.3 151.3h-2.5M818.3 148.4h-2.5M818.3 145.9h-2.5M818.3 128.1h-2.5M818.3 119.0h-2.5M818.3 112.6h-2.5M818.3 107.6h-2.5M818.3 103.5h-2.5M818.3 100.1h-2.5M818.3 97.1h-2.5M818.3 94.5h-2.5" stroke="#000" stroke-width="1.2" fill="none" />
<path d="M818.3 259.6h-5.5M818.3 260.2h-5.5M818.3 78.6h-2.5M818.3 203.6h-3M818.3 211.6h-3M818.3 243.6h-3M818.3 251.6h-3M818.3 266.6h-3" stroke="#000" stroke-width="1.2" fill="none" />
<path d="M818.3 223.1h-3l-2 2v7l2 2.5h3z" fill="#000"/>
<path d="M840.0 272.4v5.5M840.6 272.4v5.5M860.0 272.4v5.5M860.6 272.4v5.5M902.0 272.4v5.5M902.6 272.4v5.5M950.0 272.4v5.5M950.6 272.4v5.5M996.0 272.4v5.5M996.6 272.4v5.5M846.0 272.4v2.5M849.5 272.4v2.5M852.0 272.4v2.5M854.0 272.4v2.5M855.6 272.4v2.5M856.9 272.4v2.5M858.1 272.4v2.5M859.1 272.4v2.5M872.6 272.4v2.5M880.0 272.4v2.5M885.3 272.4v2.5M889.4 272.4v2.5M892.7 272.4v2.5M895.5 272.4v2.5M897.9 272.4v2.5M900.1 272.4v2.5M916.4 272.4v2.5M924.9 272.4v2.5M930.9 272.4v2.5M935.6 272.4v2.5M939.4 272.4v2.5M942.6 272.4v2.5M945.3 272.4v2.5M947.8 272.4v2.5M963.8 272.4v2.5M971.9 272.4v2.5M977.7 272.4v2.5M982.2 272.4v2.5M985.8 272.4v2.5M988.9 272.4v2.5M991.5 272.4v2.5M993.9 272.4v2.5" stroke="#000" stroke-width="1.2" fill="none" />
<path d="M845 272.4v4M848 272.4v4M851 272.4v4M854 272.4v4M857 272.4v4" stroke="#000" stroke-width="1.2" fill="none" />
<line x1="893.2" y1="75.6" x2="893.2" y2="272.4" stroke="#000" stroke-width="1.3" />
<line x1="818.3" y1="190.8" x2="1014.2" y2="190.8" stroke="#000" stroke-width="1.3" />
<path d="M850.0 119.4h3.2v3.2h-3.2zM866.2 118.1h3.2v3.2h-3.2zM847.3 121.8h3.2v3.2h-3.2zM851.3 123.9h3.2v3.2h-3.2zM861.3 124.7h3.2v3.2h-3.2zM849.4 127.1h3.2v3.2h-3.2zM863.6 127.1h3.2v3.2h-3.2zM843.9 132.3h3.2v3.2h-3.2zM844.7 134.4h3.2v3.2h-3.2zM858.6 133.9h3.2v3.2h-3.2zM856.0 135.7h3.2v3.2h-3.2zM863.9 136.5h3.2v3.2h-3.2zM853.9 137.6h3.2v3.2h-3.2zM848.1 138.3h3.2v3.2h-3.2zM844.2 140.5h3.2v3.2h-3.2zM851.3 141.5h3.2v3.2h-3.2zM869.1 140.2h3.2v3.2h-3.2zM850.0 144.4h3.2v3.2h-3.2zM870.2 145.7h3.2v3.2h-3.2zM847.3 148.9h3.2v3.2h-3.2zM845.5 151.5h3.2v3.2h-3.2zM848.6 152.3h3.2v3.2h-3.2zM871.5 162.5h3.2v3.2h-3.2zM846.5 173.8h3.2v3.2h-3.2zM842.6 177.8h3.2v3.2h-3.2zM881.5 137.8h3.2v3.2h-3.2zM886.0 125.2h3.2v3.2h-3.2zM887.5 119.2h3.2v3.2h-3.2zM894.1 115.5h3.2v3.2h-3.2zM900.7 129.7h3.2v3.2h-3.2zM897.8 144.1h3.2v3.2h-3.2zM905.7 137.0h3.2v3.2h-3.2zM909.1 137.6h3.2v3.2h-3.2zM909.6 118.1h3.2v3.2h-3.2zM912.2 117.3h3.2v3.2h-3.2zM911.2 121.3h3.2v3.2h-3.2zM914.3 124.7h3.2v3.2h-3.2zM911.7 130.5h3.2v3.2h-3.2zM909.9 132.3h3.2v3.2h-3.2zM915.6 136.5h3.2v3.2h-3.2zM920.1 127.1h3.2v3.2h-3.2zM921.7 134.4h3.2v3.2h-3.2zM924.3 133.9h3.2v3.2h-3.2zM923.5 129.2h3.2v3.2h-3.2zM922.2 126.0h3.2v3.2h-3.2zM927.5 125.2h3.2v3.2h-3.2zM930.1 123.9h3.2v3.2h-3.2zM926.9 129.7h3.2v3.2h-3.2zM931.4 129.2h3.2v3.2h-3.2zM931.9 133.9h3.2v3.2h-3.2zM930.1 120.0h3.2v3.2h-3.2zM932.7 118.1h3.2v3.2h-3.2zM929.6 116.0h3.2v3.2h-3.2zM935.3 112.1h3.2v3.2h-3.2zM936.7 110.8h3.2v3.2h-3.2zM934.0 114.7h3.2v3.2h-3.2zM935.9 120.0h3.2v3.2h-3.2zM938.0 122.6h3.2v3.2h-3.2zM936.9 125.2h3.2v3.2h-3.2zM938.5 129.2h3.2v3.2h-3.2zM939.3 118.6h3.2v3.2h-3.2zM940.6 116.0h3.2v3.2h-3.2zM941.9 110.2h3.2v3.2h-3.2zM944.5 109.4h3.2v3.2h-3.2zM945.9 114.7h3.2v3.2h-3.2zM949.0 106.8h3.2v3.2h-3.2zM949.8 108.9h3.2v3.2h-3.2zM940.1 113.4h3.2v3.2h-3.2zM933.2 122.6h3.2v3.2h-3.2zM928.8 122.6h3.2v3.2h-3.2zM925.4 123.9h3.2v3.2h-3.2zM917.0 129.2h3.2v3.2h-3.2zM846.5 193.0h3.2v3.2h-3.2zM848.1 193.5h3.2v3.2h-3.2zM852.6 203.2h3.2v3.2h-3.2zM865.2 207.4h3.2v3.2h-3.2zM843.9 211.9h3.2v3.2h-3.2zM846.5 213.2h3.2v3.2h-3.2zM844.7 215.3h3.2v3.2h-3.2zM848.1 216.4h3.2v3.2h-3.2zM853.4 214.5h3.2v3.2h-3.2zM855.2 215.9h3.2v3.2h-3.2zM859.2 214.5h3.2v3.2h-3.2zM850.0 219.0h3.2v3.2h-3.2zM852.6 219.8h3.2v3.2h-3.2zM854.7 220.6h3.2v3.2h-3.2zM847.3 221.1h3.2v3.2h-3.2zM850.0 222.4h3.2v3.2h-3.2zM851.8 223.7h3.2v3.2h-3.2zM853.9 223.2h3.2v3.2h-3.2zM856.0 222.4h3.2v3.2h-3.2zM848.6 225.1h3.2v3.2h-3.2zM850.7 226.4h3.2v3.2h-3.2zM848.1 227.7h3.2v3.2h-3.2zM855.2 227.7h3.2v3.2h-3.2zM865.2 227.7h3.2v3.2h-3.2zM856.5 229.0h3.2v3.2h-3.2z" fill="#000"/>
<rect x="892.2" y="72.7" width="120.0" height="120.3" fill="none" stroke="#A64E38" stroke-width="4.7" stroke-linejoin="round"/>
<rect x="821.2" y="77.8" width="188.5" height="110.6" fill="none" stroke="#F28E2A" stroke-opacity="0.75" stroke-width="4.4"/>
<line x1="893.2" y1="75.0" x2="893.2" y2="193" stroke="#2a0a0a" stroke-width="1.3" />
<text x="820.05" y="104.19999999999999" font-size="19.02">27.4</text>
<text x="955.56" y="104.19999999999999" font-size="18.72">44.3</text>
<text x="820.04" y="255.9" font-size="19.15">28.3</text>
<text x="994.84" y="255.9" font-size="18.9">0</text>
<text x="862.87" y="304.29999999999995" font-size="17.11">BA.1-RBD-APC</text>
<text x="795.6" y="249.41" font-size="16.96" transform="rotate(-90 795.6 249.41)">Beta-RBD-PE/Cy5</text>
<rect x="818.3" y="332.6" width="195.9000000000001" height="196.80000000000007" fill="none" stroke="#4d4d4d" stroke-width="1"/>
<path d="M818.3 450.6h-5.5M818.3 451.2h-5.5M818.3 400.6h-5.5M818.3 401.2h-5.5M818.3 349.1h-5.5M818.3 349.7h-5.5M818.3 435.5h-2.5M818.3 426.7h-2.5M818.3 420.5h-2.5M818.3 415.7h-2.5M818.3 411.7h-2.5M818.3 408.3h-2.5M818.3 405.4h-2.5M818.3 402.9h-2.5M818.3 385.1h-2.5M818.3 376.0h-2.5M818.3 369.6h-2.5M818.3 364.6h-2.5M818.3 360.5h-2.5M818.3 357.1h-2.5M818.3 354.1h-2.5M818.3 351.5h-2.5" stroke="#000" stroke-width="1.2" fill="none" />
<path d="M818.3 516.6h-5.5M818.3 517.2h-5.5M818.3 335.6h-2.5M818.3 460.6h-3M818.3 468.6h-3M818.3 500.6h-3M818.3 508.6h-3M818.3 523.6h-3" stroke="#000" stroke-width="1.2" fill="none" />
<path d="M818.3 480.1h-3l-2 2v7l2 2.5h3z" fill="#000"/>
<path d="M840.0 529.4000000000001v5.5M840.6 529.4000000000001v5.5M860.0 529.4000000000001v5.5M860.6 529.4000000000001v5.5M902.0 529.4000000000001v5.5M902.6 529.4000000000001v5.5M950.0 529.4000000000001v5.5M950.6 529.4000000000001v5.5M996.0 529.4000000000001v5.5M996.6 529.4000000000001v5.5M846.0 529.4000000000001v2.5M849.5 529.4000000000001v2.5M852.0 529.4000000000001v2.5M854.0 529.4000000000001v2.5M855.6 529.4000000000001v2.5M856.9 529.4000000000001v2.5M858.1 529.4000000000001v2.5M859.1 529.4000000000001v2.5M872.6 529.4000000000001v2.5M880.0 529.4000000000001v2.5M885.3 529.4000000000001v2.5M889.4 529.4000000000001v2.5M892.7 529.4000000000001v2.5M895.5 529.4000000000001v2.5M897.9 529.4000000000001v2.5M900.1 529.4000000000001v2.5M916.4 529.4000000000001v2.5M924.9 529.4000000000001v2.5M930.9 529.4000000000001v2.5M935.6 529.4000000000001v2.5M939.4 529.4000000000001v2.5M942.6 529.4000000000001v2.5M945.3 529.4000000000001v2.5M947.8 529.4000000000001v2.5M963.8 529.4000000000001v2.5M971.9 529.4000000000001v2.5M977.7 529.4000000000001v2.5M982.2 529.4000000000001v2.5M985.8 529.4000000000001v2.5M988.9 529.4000000000001v2.5M991.5 529.4000000000001v2.5M993.9 529.4000000000001v2.5" stroke="#000" stroke-width="1.2" fill="none" />
<path d="M845 529.4000000000001v4M848 529.4000000000001v4M851 529.4000000000001v4M854 529.4000000000001v4M857 529.4000000000001v4" stroke="#000" stroke-width="1.2" fill="none" />
<line x1="893.2" y1="332.6" x2="893.2" y2="529.4000000000001" stroke="#000" stroke-width="1.3" />
<line x1="818.3" y1="447.6" x2="1014.2" y2="447.6" stroke="#000" stroke-width="1.3" />
<path d="M845.1 380.2h3.2v3.2h-3.2zM848.8 383.4h3.2v3.2h-3.2zM871.3 376.0h3.2v3.2h-3.2zM881.2 377.2h3.2v3.2h-3.2zM870.1 378.5h3.2v3.2h-3.2zM868.4 380.9h3.2v3.2h-3.2zM865.2 383.4h3.2v3.2h-3.2zM872.6 384.6h3.2v3.2h-3.2zM870.6 385.8h3.2v3.2h-3.2zM851.7 391.4h3.2v3.2h-3.2zM856.2 389.5h3.2v3.2h-3.2zM858.6 393.2h3.2v3.2h-3.2zM860.3 393.9h3.2v3.2h-3.2zM864.0 389.5h3.2v3.2h-3.2zM869.4 390.7h3.2v3.2h-3.2zM871.3 393.9h3.2v3.2h-3.2zM878.7 388.3h3.2v3.2h-3.2zM886.1 389.5h3.2v3.2h-3.2zM839.0 398.1h3.2v3.2h-3.2zM840.0 405.4h3.2v3.2h-3.2zM841.9 404.7h3.2v3.2h-3.2zM844.4 403.7h3.2v3.2h-3.2zM856.6 403.7h3.2v3.2h-3.2zM857.9 405.4h3.2v3.2h-3.2zM854.7 407.1h3.2v3.2h-3.2zM867.7 403.7h3.2v3.2h-3.2zM880.4 403.7h3.2v3.2h-3.2zM886.1 399.3h3.2v3.2h-3.2zM887.3 409.1h3.2v3.2h-3.2zM851.3 410.3h3.2v3.2h-3.2zM856.6 412.0h3.2v3.2h-3.2zM857.9 412.8h3.2v3.2h-3.2zM867.2 412.0h3.2v3.2h-3.2zM856.6 416.4h3.2v3.2h-3.2zM866.0 416.4h3.2v3.2h-3.2zM877.5 426.3h3.2v3.2h-3.2zM878.0 441.7h3.2v3.2h-3.2zM854.2 443.4h3.2v3.2h-3.2zM895.4 384.6h3.2v3.2h-3.2zM902.7 384.6h3.2v3.2h-3.2zM903.2 385.8h3.2v3.2h-3.2zM903.7 393.2h3.2v3.2h-3.2zM898.3 396.3h3.2v3.2h-3.2zM905.7 400.0h3.2v3.2h-3.2zM910.6 396.3h3.2v3.2h-3.2zM912.5 403.7h3.2v3.2h-3.2zM916.7 399.3h3.2v3.2h-3.2zM918.4 401.7h3.2v3.2h-3.2zM922.8 401.7h3.2v3.2h-3.2zM914.2 412.8h3.2v3.2h-3.2zM909.3 378.5h3.2v3.2h-3.2zM910.6 381.6h3.2v3.2h-3.2zM912.5 384.6h3.2v3.2h-3.2zM913.5 378.5h3.2v3.2h-3.2zM915.5 377.2h3.2v3.2h-3.2zM914.2 383.4h3.2v3.2h-3.2zM920.4 368.7h3.2v3.2h-3.2zM921.6 371.1h3.2v3.2h-3.2zM924.0 368.7h3.2v3.2h-3.2zM931.4 369.9h3.2v3.2h-3.2zM932.6 364.5h3.2v3.2h-3.2zM922.8 379.7h3.2v3.2h-3.2zM920.4 383.4h3.2v3.2h-3.2zM921.6 385.8h3.2v3.2h-3.2zM923.3 384.6h3.2v3.2h-3.2zM925.3 383.4h3.2v3.2h-3.2zM927.7 382.1h3.2v3.2h-3.2zM926.5 385.8h3.2v3.2h-3.2zM928.9 384.6h3.2v3.2h-3.2zM930.2 380.9h3.2v3.2h-3.2zM931.4 378.5h3.2v3.2h-3.2zM932.6 376.7h3.2v3.2h-3.2zM933.8 379.7h3.2v3.2h-3.2zM935.1 376.0h3.2v3.2h-3.2zM936.3 378.5h3.2v3.2h-3.2zM937.5 374.8h3.2v3.2h-3.2zM938.8 376.7h3.2v3.2h-3.2zM940.0 372.3h3.2v3.2h-3.2zM941.2 371.1h3.2v3.2h-3.2zM942.4 373.6h3.2v3.2h-3.2zM943.7 371.8h3.2v3.2h-3.2zM944.9 376.0h3.2v3.2h-3.2zM942.4 377.2h3.2v3.2h-3.2zM940.0 378.5h3.2v3.2h-3.2zM937.5 380.9h3.2v3.2h-3.2zM935.1 382.1h3.2v3.2h-3.2zM932.6 383.4h3.2v3.2h-3.2zM930.2 385.8h3.2v3.2h-3.2zM927.7 388.3h3.2v3.2h-3.2zM925.3 389.5h3.2v3.2h-3.2zM922.8 390.7h3.2v3.2h-3.2zM921.6 391.9h3.2v3.2h-3.2zM924.0 393.2h3.2v3.2h-3.2zM930.2 390.7h3.2v3.2h-3.2zM931.4 394.4h3.2v3.2h-3.2zM932.6 387.0h3.2v3.2h-3.2zM936.3 384.6h3.2v3.2h-3.2zM938.8 382.1h3.2v3.2h-3.2zM941.2 374.8h3.2v3.2h-3.2zM944.9 371.8h3.2v3.2h-3.2zM928.9 378.5h3.2v3.2h-3.2zM927.2 380.2h3.2v3.2h-3.2zM932.1 381.6h3.2v3.2h-3.2zM848.1 448.8h3.2v3.2h-3.2zM840.2 463.8h3.2v3.2h-3.2zM846.1 469.9h3.2v3.2h-3.2zM855.9 471.6h3.2v3.2h-3.2zM845.6 476.5h3.2v3.2h-3.2zM851.7 478.9h3.2v3.2h-3.2zM854.2 480.2h3.2v3.2h-3.2zM855.9 481.4h3.2v3.2h-3.2zM846.3 481.4h3.2v3.2h-3.2zM850.5 483.8h3.2v3.2h-3.2zM853.0 485.1h3.2v3.2h-3.2zM854.7 483.1h3.2v3.2h-3.2zM856.6 488.8h3.2v3.2h-3.2zM865.2 488.0h3.2v3.2h-3.2zM859.1 491.2h3.2v3.2h-3.2zM857.9 493.7h3.2v3.2h-3.2zM860.3 496.1h3.2v3.2h-3.2zM864.0 496.1h3.2v3.2h-3.2zM862.8 499.8h3.2v3.2h-3.2zM863.5 502.2h3.2v3.2h-3.2zM854.2 482.1h3.2v3.2h-3.2zM856.2 479.7h3.2v3.2h-3.2z" fill="#000"/>
<rect x="892.4" y="330.6" width="120.1" height="118.9" fill="none" stroke="#A64E38" stroke-width="4.7" stroke-linejoin="round"/>
<rect x="820.8" y="334.7" width="188.2" height="110.5" fill="none" stroke="#F28E2A" stroke-opacity="0.75" stroke-width="4.4"/>
<line x1="893.2" y1="332.90000000000003" x2="893.2" y2="449.5" stroke="#2a0a0a" stroke-width="1.3" />
<text x="820.04" y="361.20000000000005" font-size="19.15">25.5</text>
<text x="955.24" y="361.20000000000005" font-size="18.96">58.2</text>
<text x="819.52" y="512.9000000000001" font-size="19.29">16.4</text>
<text x="994.84" y="512.9000000000001" font-size="18.9">0</text>
<text x="862.87" y="563.5" font-size="17.11">BA.1-RBD-APC</text>
<text x="795.6" y="506.41" font-size="16.96" transform="rotate(-90 795.6 506.41)">Beta-RBD-PE/Cy5</text>
<text x="1195.33" y="37" font-size="52" font-weight="bold" fill="#1a1a1a">b</text>
<text x="1608.42" y="36.6" font-size="52" font-weight="bold" fill="#1a1a1a">c</text>
<text x="-0.95" y="709.6" font-size="52" font-weight="bold" fill="#1a1a1a">d</text>
<text x="459.22" y="708.4" font-size="52" font-weight="bold" fill="#1a1a1a">e</text>
<text x="1323.6" y="118.4" font-size="23.9" font-weight="bold">Spike<tspan font-size="20.5" dy="-6.5">+</tspan><tspan dy="6.5"> IgG B cells</tspan></text>
<line x1="1298.4" y1="149.7" x2="1298.4" y2="361.5" stroke="#000" stroke-width="3.0" />
<line x1="1285" y1="151.2" x2="1298.4" y2="151.2" stroke="#000" stroke-width="3.0" />
<line x1="1285" y1="256" x2="1298.4" y2="256" stroke="#000" stroke-width="3.0" />
<line x1="1290.9" y1="360" x2="1305.9" y2="360" stroke="#000" stroke-width="3.0" />
<line x1="1290.9" y1="382.4" x2="1305.9" y2="382.4" stroke="#000" stroke-width="3.0" />
<line x1="1298.4" y1="380.9" x2="1298.4" y2="406.5" stroke="#000" stroke-width="3.0" />
<line x1="1287.4" y1="393.2" x2="1298.4" y2="393.2" stroke="#000" stroke-width="3.6" />
<line x1="1287.4" y1="405" x2="1552.4" y2="405" stroke="#000" stroke-width="3.0" />
<line x1="1336.6" y1="405" x2="1336.6" y2="416" stroke="#000" stroke-width="3.0" />
<line x1="1425.4" y1="405" x2="1425.4" y2="416" stroke="#000" stroke-width="3.0" />
<line x1="1513.4" y1="405" x2="1513.4" y2="416" stroke="#000" stroke-width="3.0" />
<line x1="1303.6000000000001" y1="393.2" x2="1550" y2="393.2" stroke="#000" stroke-width="2.5" stroke-dasharray="0.01 5.02" stroke-linecap="round"/>
<text x="1268.5" y="157.6" font-size="18.8" font-weight="bold">1</text>
<text x="1252.83" y="262.4" font-size="18.8" font-weight="bold">0.1</text>
<text x="1242.37" y="366.4" font-size="18.8" font-weight="bold">0.01</text>
<text x="1245.13" y="399.6" font-size="19.07" font-weight="bold">N.D.</text>
<text x="1232.4" y="369.75" font-size="20.32" font-weight="bold" transform="rotate(-90 1232.4 369.75)">Freq. in B cells (%)</text>
<text x="1305.11" y="437.6" font-size="19.41" font-weight="bold">Day 14</text>
<text x="1393.7" y="437.6" font-size="19.49" font-weight="bold">Day 28</text>
<text x="1481.69" y="437.6" font-size="19.62" font-weight="bold">Day 68</text>
<circle cx="1318.0" cy="194.4" r="3.55" fill="#E77775" stroke="#111" stroke-width="1.4"/>
<circle cx="1323.0" cy="197.6" r="3.55" fill="#E77775" stroke="#111" stroke-width="1.4"/>
<circle cx="1320.0" cy="201.4" r="3.55" fill="#E77775" stroke="#111" stroke-width="1.4"/>
<circle cx="1320.4" cy="218.6" r="3.55" fill="#E77775" stroke="#111" stroke-width="1.4"/>
<circle cx="1320.2" cy="226.0" r="3.55" fill="#E77775" stroke="#111" stroke-width="1.4"/>
<circle cx="1325.6" cy="237.4" r="3.55" fill="#E77775" stroke="#111" stroke-width="1.4"/>
<circle cx="1316.0" cy="239.4" r="3.55" fill="#E77775" stroke="#111" stroke-width="1.4"/>
<circle cx="1320.6" cy="244.0" r="3.55" fill="#E77775" stroke="#111" stroke-width="1.4"/>
<circle cx="1315.0" cy="249.0" r="3.55" fill="#E77775" stroke="#111" stroke-width="1.4"/>
<circle cx="1325.6" cy="248.0" r="3.55" fill="#E77775" stroke="#111" stroke-width="1.4"/>
<circle cx="1320.0" cy="250.0" r="3.55" fill="#E77775" stroke="#111" stroke-width="1.4"/>
<circle cx="1313.0" cy="257.0" r="3.55" fill="#E77775" stroke="#111" stroke-width="1.4"/>
<circle cx="1321.6" cy="253.6" r="3.55" fill="#E77775" stroke="#111" stroke-width="1.4"/>
<circle cx="1327.6" cy="253.0" r="3.55" fill="#E77775" stroke="#111" stroke-width="1.4"/>
<circle cx="1320.2" cy="266.0" r="3.55" fill="#E77775" stroke="#111" stroke-width="1.4"/>
<circle cx="1320.2" cy="278.0" r="3.55" fill="#E77775" stroke="#111" stroke-width="1.4"/>
<circle cx="1320.2" cy="282.0" r="3.55" fill="#E77775" stroke="#111" stroke-width="1.4"/>
<circle cx="1320.2" cy="296.6" r="3.55" fill="#E77775" stroke="#111" stroke-width="1.4"/>
<circle cx="1353.6" cy="165.0" r="3.55" fill="#80CFD0" stroke="#111" stroke-width="1.4"/>
<circle cx="1353.6" cy="180.4" r="3.55" fill="#80CFD0" stroke="#111" stroke-width="1.4"/>
<circle cx="1356.4" cy="212.0" r="3.55" fill="#80CFD0" stroke="#111" stroke-width="1.4"/>
<circle cx="1351.4" cy="215.0" r="3.55" fill="#80CFD0" stroke="#111" stroke-width="1.4"/>
<circle cx="1353.6" cy="223.6" r="3.55" fill="#80CFD0" stroke="#111" stroke-width="1.4"/>
<circle cx="1353.6" cy="230.4" r="3.55" fill="#80CFD0" stroke="#111" stroke-width="1.4"/>
<circle cx="1353.6" cy="249.0" r="3.55" fill="#80CFD0" stroke="#111" stroke-width="1.4"/>
<circle cx="1349.0" cy="252.4" r="3.55" fill="#80CFD0" stroke="#111" stroke-width="1.4"/>
<circle cx="1358.0" cy="253.0" r="3.55" fill="#80CFD0" stroke="#111" stroke-width="1.4"/>
<circle cx="1346.0" cy="258.0" r="3.55" fill="#80CFD0" stroke="#111" stroke-width="1.4"/>
<circle cx="1351.0" cy="257.0" r="3.55" fill="#80CFD0" stroke="#111" stroke-width="1.4"/>
<circle cx="1356.0" cy="259.0" r="3.55" fill="#80CFD0" stroke="#111" stroke-width="1.4"/>
<circle cx="1361.0" cy="256.4" r="3.55" fill="#80CFD0" stroke="#111" stroke-width="1.4"/>
<circle cx="1353.6" cy="266.4" r="3.55" fill="#80CFD0" stroke="#111" stroke-width="1.4"/>
<circle cx="1353.6" cy="274.4" r="3.55" fill="#80CFD0" stroke="#111" stroke-width="1.4"/>
<circle cx="1353.6" cy="279.0" r="3.55" fill="#80CFD0" stroke="#111" stroke-width="1.4"/>
<circle cx="1353.6" cy="291.6" r="3.55" fill="#80CFD0" stroke="#111" stroke-width="1.4"/>
<circle cx="1356.4" cy="295.0" r="3.55" fill="#80CFD0" stroke="#111" stroke-width="1.4"/>
<circle cx="1351.0" cy="300.6" r="3.55" fill="#80CFD0" stroke="#111" stroke-width="1.4"/>
<circle cx="1409.0" cy="191.4" r="3.55" fill="#E77775" stroke="#111" stroke-width="1.4"/>
<circle cx="1401.6" cy="205.0" r="3.55" fill="#E77775" stroke="#111" stroke-width="1.4"/>
<circle cx="1412.6" cy="205.0" r="3.55" fill="#E77775" stroke="#111" stroke-width="1.4"/>
<circle cx="1409.0" cy="208.0" r="3.55" fill="#E77775" stroke="#111" stroke-width="1.4"/>
<circle cx="1405.0" cy="212.0" r="3.55" fill="#E77775" stroke="#111" stroke-width="1.4"/>
<circle cx="1416.0" cy="211.6" r="3.55" fill="#E77775" stroke="#111" stroke-width="1.4"/>
<circle cx="1412.4" cy="216.4" r="3.55" fill="#E77775" stroke="#111" stroke-width="1.4"/>
<circle cx="1409.0" cy="235.0" r="3.55" fill="#E77775" stroke="#111" stroke-width="1.4"/>
<circle cx="1412.4" cy="245.0" r="3.55" fill="#E77775" stroke="#111" stroke-width="1.4"/>
<circle cx="1409.0" cy="249.0" r="3.55" fill="#E77775" stroke="#111" stroke-width="1.4"/>
<circle cx="1405.0" cy="256.4" r="3.55" fill="#E77775" stroke="#111" stroke-width="1.4"/>
<circle cx="1412.4" cy="259.0" r="3.55" fill="#E77775" stroke="#111" stroke-width="1.4"/>
<circle cx="1416.6" cy="257.0" r="3.55" fill="#E77775" stroke="#111" stroke-width="1.4"/>
<circle cx="1401.6" cy="263.0" r="3.55" fill="#E77775" stroke="#111" stroke-width="1.4"/>
<circle cx="1409.0" cy="263.0" r="3.55" fill="#E77775" stroke="#111" stroke-width="1.4"/>
<circle cx="1414.4" cy="265.0" r="3.55" fill="#E77775" stroke="#111" stroke-width="1.4"/>
<circle cx="1405.0" cy="269.0" r="3.55" fill="#E77775" stroke="#111" stroke-width="1.4"/>
<circle cx="1417.0" cy="268.0" r="3.55" fill="#E77775" stroke="#111" stroke-width="1.4"/>
<circle cx="1412.4" cy="271.0" r="3.55" fill="#E77775" stroke="#111" stroke-width="1.4"/>
<circle cx="1405.0" cy="277.6" r="3.55" fill="#E77775" stroke="#111" stroke-width="1.4"/>
<circle cx="1442.0" cy="177.0" r="3.55" fill="#80CFD0" stroke="#111" stroke-width="1.4"/>
<circle cx="1446.0" cy="211.0" r="3.55" fill="#80CFD0" stroke="#111" stroke-width="1.4"/>
<circle cx="1438.4" cy="213.0" r="3.55" fill="#80CFD0" stroke="#111" stroke-width="1.4"/>
<circle cx="1442.0" cy="217.0" r="3.55" fill="#80CFD0" stroke="#111" stroke-width="1.4"/>
<circle cx="1440.6" cy="235.6" r="3.55" fill="#80CFD0" stroke="#111" stroke-width="1.4"/>
<circle cx="1444.0" cy="239.0" r="3.55" fill="#80CFD0" stroke="#111" stroke-width="1.4"/>
<circle cx="1435.0" cy="247.0" r="3.55" fill="#80CFD0" stroke="#111" stroke-width="1.4"/>
<circle cx="1449.0" cy="249.6" r="3.55" fill="#80CFD0" stroke="#111" stroke-width="1.4"/>
<circle cx="1442.0" cy="250.0" r="3.55" fill="#80CFD0" stroke="#111" stroke-width="1.4"/>
<circle cx="1438.4" cy="256.0" r="3.55" fill="#80CFD0" stroke="#111" stroke-width="1.4"/>
<circle cx="1442.0" cy="264.4" r="3.55" fill="#80CFD0" stroke="#111" stroke-width="1.4"/>
<circle cx="1446.0" cy="275.0" r="3.55" fill="#80CFD0" stroke="#111" stroke-width="1.4"/>
<circle cx="1442.0" cy="282.0" r="3.55" fill="#80CFD0" stroke="#111" stroke-width="1.4"/>
<circle cx="1446.0" cy="285.0" r="3.55" fill="#80CFD0" stroke="#111" stroke-width="1.4"/>
<circle cx="1442.0" cy="290.0" r="3.55" fill="#80CFD0" stroke="#111" stroke-width="1.4"/>
<circle cx="1443.6" cy="305.6" r="3.55" fill="#80CFD0" stroke="#111" stroke-width="1.4"/>
<circle cx="1440.0" cy="309.6" r="3.55" fill="#80CFD0" stroke="#111" stroke-width="1.4"/>
<circle cx="1499.0" cy="197.0" r="3.55" fill="#E77775" stroke="#111" stroke-width="1.4"/>
<circle cx="1496.0" cy="200.6" r="3.55" fill="#E77775" stroke="#111" stroke-width="1.4"/>
<circle cx="1497.4" cy="212.0" r="3.55" fill="#E77775" stroke="#111" stroke-width="1.4"/>
<circle cx="1494.0" cy="218.6" r="3.55" fill="#E77775" stroke="#111" stroke-width="1.4"/>
<circle cx="1501.0" cy="218.0" r="3.55" fill="#E77775" stroke="#111" stroke-width="1.4"/>
<circle cx="1504.6" cy="219.0" r="3.55" fill="#E77775" stroke="#111" stroke-width="1.4"/>
<circle cx="1489.6" cy="224.4" r="3.55" fill="#E77775" stroke="#111" stroke-width="1.4"/>
<circle cx="1497.4" cy="223.0" r="3.55" fill="#E77775" stroke="#111" stroke-width="1.4"/>
<circle cx="1494.0" cy="228.0" r="3.55" fill="#E77775" stroke="#111" stroke-width="1.4"/>
<circle cx="1500.0" cy="228.0" r="3.55" fill="#E77775" stroke="#111" stroke-width="1.4"/>
<circle cx="1497.4" cy="231.0" r="3.55" fill="#E77775" stroke="#111" stroke-width="1.4"/>
<circle cx="1497.4" cy="246.4" r="3.55" fill="#E77775" stroke="#111" stroke-width="1.4"/>
<circle cx="1494.0" cy="250.4" r="3.55" fill="#E77775" stroke="#111" stroke-width="1.4"/>
<circle cx="1501.0" cy="251.6" r="3.55" fill="#E77775" stroke="#111" stroke-width="1.4"/>
<circle cx="1499.4" cy="259.0" r="3.55" fill="#E77775" stroke="#111" stroke-width="1.4"/>
<circle cx="1495.6" cy="261.6" r="3.55" fill="#E77775" stroke="#111" stroke-width="1.4"/>
<circle cx="1497.4" cy="287.0" r="3.55" fill="#E77775" stroke="#111" stroke-width="1.4"/>
<circle cx="1527.0" cy="197.0" r="3.55" fill="#80CFD0" stroke="#111" stroke-width="1.4"/>
<circle cx="1531.0" cy="201.0" r="3.55" fill="#80CFD0" stroke="#111" stroke-width="1.4"/>
<circle cx="1534.0" cy="205.0" r="3.55" fill="#80CFD0" stroke="#111" stroke-width="1.4"/>
<circle cx="1530.0" cy="212.6" r="3.55" fill="#80CFD0" stroke="#111" stroke-width="1.4"/>
<circle cx="1537.6" cy="215.0" r="3.55" fill="#80CFD0" stroke="#111" stroke-width="1.4"/>
<circle cx="1526.0" cy="221.6" r="3.55" fill="#80CFD0" stroke="#111" stroke-width="1.4"/>
<circle cx="1530.4" cy="221.6" r="3.55" fill="#80CFD0" stroke="#111" stroke-width="1.4"/>
<circle cx="1534.4" cy="222.0" r="3.55" fill="#80CFD0" stroke="#111" stroke-width="1.4"/>
<circle cx="1530.4" cy="229.0" r="3.55" fill="#80CFD0" stroke="#111" stroke-width="1.4"/>
<circle cx="1538.0" cy="241.0" r="3.55" fill="#80CFD0" stroke="#111" stroke-width="1.4"/>
<circle cx="1523.0" cy="245.6" r="3.55" fill="#80CFD0" stroke="#111" stroke-width="1.4"/>
<circle cx="1528.0" cy="245.0" r="3.55" fill="#80CFD0" stroke="#111" stroke-width="1.4"/>
<circle cx="1533.0" cy="245.6" r="3.55" fill="#80CFD0" stroke="#111" stroke-width="1.4"/>
<circle cx="1534.4" cy="252.4" r="3.55" fill="#80CFD0" stroke="#111" stroke-width="1.4"/>
<circle cx="1530.4" cy="258.6" r="3.55" fill="#80CFD0" stroke="#111" stroke-width="1.4"/>
<circle cx="1527.4" cy="269.0" r="3.55" fill="#80CFD0" stroke="#111" stroke-width="1.4"/>
<circle cx="1532.0" cy="271.6" r="3.55" fill="#80CFD0" stroke="#111" stroke-width="1.4"/>
<circle cx="1530.4" cy="282.4" r="3.55" fill="#80CFD0" stroke="#111" stroke-width="1.4"/>
<line x1="1309.6" y1="246.4" x2="1331.0" y2="246.4" stroke="#000" stroke-width="2.8" />
<line x1="1342.6" y1="255.6" x2="1364.4" y2="255.6" stroke="#000" stroke-width="2.8" />
<line x1="1398.0" y1="247.0" x2="1419.6" y2="247.0" stroke="#000" stroke-width="2.8" />
<line x1="1431.0" y1="252.0" x2="1452.4" y2="252.0" stroke="#000" stroke-width="2.8" />
<line x1="1486.4" y1="226.4" x2="1508.0" y2="226.4" stroke="#000" stroke-width="2.8" />
<line x1="1519.4" y1="240.6" x2="1541.0" y2="240.6" stroke="#000" stroke-width="2.8" />
<text x="1775" y="118.4" font-size="23.9" font-weight="bold">RBD<tspan font-size="20.5" dy="-6.5">+</tspan><tspan dy="6.5"> IgG B cells</tspan></text>
<line x1="1744.4" y1="149.7" x2="1744.4" y2="361.5" stroke="#000" stroke-width="3.0" />
<line x1="1731" y1="151.2" x2="1744.4" y2="151.2" stroke="#000" stroke-width="3.0" />
<line x1="1731" y1="221.4" x2="1744.4" y2="221.4" stroke="#000" stroke-width="3.0" />
<line x1="1731" y1="290.6" x2="1744.4" y2="290.6" stroke="#000" stroke-width="3.0" />
<line x1="1736.9" y1="360" x2="1751.9" y2="360" stroke="#000" stroke-width="3.0" />
<line x1="1736.9" y1="382.4" x2="1751.9" y2="382.4" stroke="#000" stroke-width="3.0" />
<line x1="1744.4" y1="380.9" x2="1744.4" y2="406.5" stroke="#000" stroke-width="3.0" />
<line x1="1734" y1="393.2" x2="1744.4" y2="393.2" stroke="#000" stroke-width="3.6" />
<line x1="1743" y1="405" x2="1999" y2="405" stroke="#000" stroke-width="3.0" />
<line x1="1783" y1="405" x2="1783" y2="416" stroke="#000" stroke-width="3.0" />
<line x1="1871.4" y1="405" x2="1871.4" y2="416" stroke="#000" stroke-width="3.0" />
<line x1="1959.6" y1="405" x2="1959.6" y2="416" stroke="#000" stroke-width="3.0" />
<line x1="1749.2" y1="393.2" x2="1999" y2="393.2" stroke="#000" stroke-width="2.5" stroke-dasharray="0.01 5.02" stroke-linecap="round"/>
<text x="1714.7" y="157.6" font-size="18.8" font-weight="bold">1</text>
<text x="1699.03" y="227.6" font-size="18.8" font-weight="bold">0.1</text>
<text x="1688.57" y="297" font-size="18.8" font-weight="bold">0.01</text>
<text x="1678.1" y="366.4" font-size="18.8" font-weight="bold">0.001</text>
<text x="1691.34" y="399.6" font-size="18.96" font-weight="bold">N.D.</text>
<text x="1669" y="369.75" font-size="20.32" font-weight="bold" transform="rotate(-90 1669 369.75)">Freq. in B cells (%)</text>
<text x="1751.3" y="437.6" font-size="19.47" font-weight="bold">Day 14</text>
<text x="1839.7" y="437.6" font-size="19.49" font-weight="bold">Day 28</text>
<text x="1927.7" y="437.6" font-size="19.49" font-weight="bold">Day 68</text>
<path d="M1853.4 222.4V190.4H1943.4V211.6" stroke="#000" stroke-width="1.5" fill="none" />
<text x="1898.6" y="190.0" font-size="25" font-weight="bold" text-anchor="middle" stroke="#000" stroke-width="0.3">*</text>
<circle cx="1769.4" cy="239.0" r="3.55" fill="#E77775" stroke="#111" stroke-width="1.4"/>
<circle cx="1764.0" cy="240.0" r="3.55" fill="#E77775" stroke="#111" stroke-width="1.4"/>
<circle cx="1766.6" cy="251.0" r="3.55" fill="#E77775" stroke="#111" stroke-width="1.4"/>
<circle cx="1764.0" cy="272.0" r="3.55" fill="#E77775" stroke="#111" stroke-width="1.4"/>
<circle cx="1759.0" cy="277.0" r="3.55" fill="#E77775" stroke="#111" stroke-width="1.4"/>
<circle cx="1769.0" cy="277.0" r="3.55" fill="#E77775" stroke="#111" stroke-width="1.4"/>
<circle cx="1764.0" cy="282.0" r="3.55" fill="#E77775" stroke="#111" stroke-width="1.4"/>
<circle cx="1759.0" cy="286.0" r="3.55" fill="#E77775" stroke="#111" stroke-width="1.4"/>
<circle cx="1774.0" cy="287.0" r="3.55" fill="#E77775" stroke="#111" stroke-width="1.4"/>
<circle cx="1769.0" cy="292.0" r="3.55" fill="#E77775" stroke="#111" stroke-width="1.4"/>
<circle cx="1774.0" cy="298.4" r="3.55" fill="#E77775" stroke="#111" stroke-width="1.4"/>
<circle cx="1764.0" cy="302.4" r="3.55" fill="#E77775" stroke="#111" stroke-width="1.4"/>
<circle cx="1759.0" cy="304.0" r="3.55" fill="#E77775" stroke="#111" stroke-width="1.4"/>
<circle cx="1769.0" cy="304.0" r="3.55" fill="#E77775" stroke="#111" stroke-width="1.4"/>
<circle cx="1764.0" cy="309.6" r="3.55" fill="#E77775" stroke="#111" stroke-width="1.4"/>
<circle cx="1769.0" cy="319.6" r="3.55" fill="#E77775" stroke="#111" stroke-width="1.4"/>
<circle cx="1764.0" cy="321.6" r="3.55" fill="#E77775" stroke="#111" stroke-width="1.4"/>
<circle cx="1766.6" cy="331.0" r="3.55" fill="#E77775" stroke="#111" stroke-width="1.4"/>
<circle cx="1766.6" cy="346.0" r="3.55" fill="#E77775" stroke="#111" stroke-width="1.4"/>
<circle cx="1799.6" cy="207.6" r="3.55" fill="#80CFD0" stroke="#111" stroke-width="1.4"/>
<circle cx="1799.6" cy="222.4" r="3.55" fill="#80CFD0" stroke="#111" stroke-width="1.4"/>
<circle cx="1799.6" cy="255.6" r="3.55" fill="#80CFD0" stroke="#111" stroke-width="1.4"/>
<circle cx="1799.6" cy="266.0" r="3.55" fill="#80CFD0" stroke="#111" stroke-width="1.4"/>
<circle cx="1796.0" cy="269.0" r="3.55" fill="#80CFD0" stroke="#111" stroke-width="1.4"/>
<circle cx="1796.0" cy="276.4" r="3.55" fill="#80CFD0" stroke="#111" stroke-width="1.4"/>
<circle cx="1803.4" cy="279.0" r="3.55" fill="#80CFD0" stroke="#111" stroke-width="1.4"/>
<circle cx="1799.6" cy="287.0" r="3.55" fill="#80CFD0" stroke="#111" stroke-width="1.4"/>
<circle cx="1807.0" cy="295.0" r="3.55" fill="#80CFD0" stroke="#111" stroke-width="1.4"/>
<circle cx="1801.0" cy="295.6" r="3.55" fill="#80CFD0" stroke="#111" stroke-width="1.4"/>
<circle cx="1792.0" cy="301.0" r="3.55" fill="#80CFD0" stroke="#111" stroke-width="1.4"/>
<circle cx="1799.6" cy="302.4" r="3.55" fill="#80CFD0" stroke="#111" stroke-width="1.4"/>
<circle cx="1796.0" cy="308.0" r="3.55" fill="#80CFD0" stroke="#111" stroke-width="1.4"/>
<circle cx="1803.4" cy="308.0" r="3.55" fill="#80CFD0" stroke="#111" stroke-width="1.4"/>
<circle cx="1799.6" cy="313.6" r="3.55" fill="#80CFD0" stroke="#111" stroke-width="1.4"/>
<circle cx="1803.4" cy="315.6" r="3.55" fill="#80CFD0" stroke="#111" stroke-width="1.4"/>
<circle cx="1796.0" cy="321.0" r="3.55" fill="#80CFD0" stroke="#111" stroke-width="1.4"/>
<circle cx="1852.6" cy="250.4" r="3.55" fill="#E77775" stroke="#111" stroke-width="1.4"/>
<circle cx="1847.4" cy="252.4" r="3.55" fill="#E77775" stroke="#111" stroke-width="1.4"/>
<circle cx="1862.4" cy="255.4" r="3.55" fill="#E77775" stroke="#111" stroke-width="1.4"/>
<circle cx="1852.6" cy="258.0" r="3.55" fill="#E77775" stroke="#111" stroke-width="1.4"/>
<circle cx="1857.0" cy="267.0" r="3.55" fill="#E77775" stroke="#111" stroke-width="1.4"/>
<circle cx="1852.0" cy="268.4" r="3.55" fill="#E77775" stroke="#111" stroke-width="1.4"/>
<circle cx="1847.4" cy="278.0" r="3.55" fill="#E77775" stroke="#111" stroke-width="1.4"/>
<circle cx="1857.0" cy="279.6" r="3.55" fill="#E77775" stroke="#111" stroke-width="1.4"/>
<circle cx="1852.6" cy="285.0" r="3.55" fill="#E77775" stroke="#111" stroke-width="1.4"/>
<circle cx="1847.4" cy="302.4" r="3.55" fill="#E77775" stroke="#111" stroke-width="1.4"/>
<circle cx="1862.4" cy="307.0" r="3.55" fill="#E77775" stroke="#111" stroke-width="1.4"/>
<circle cx="1857.0" cy="309.6" r="3.55" fill="#E77775" stroke="#111" stroke-width="1.4"/>
<circle cx="1847.4" cy="318.0" r="3.55" fill="#E77775" stroke="#111" stroke-width="1.4"/>
<circle cx="1857.0" cy="320.4" r="3.55" fill="#E77775" stroke="#111" stroke-width="1.4"/>
<circle cx="1862.4" cy="320.4" r="3.55" fill="#E77775" stroke="#111" stroke-width="1.4"/>
<circle cx="1852.0" cy="325.0" r="3.55" fill="#E77775" stroke="#111" stroke-width="1.4"/>
<circle cx="1855.0" cy="348.0" r="3.55" fill="#E77775" stroke="#111" stroke-width="1.4"/>
<circle cx="1852.0" cy="393.4" r="3.55" fill="#E77775" stroke="#111" stroke-width="1.4"/>
<circle cx="1857.0" cy="393.4" r="3.55" fill="#E77775" stroke="#111" stroke-width="1.4"/>
<circle cx="1888.0" cy="218.6" r="3.55" fill="#80CFD0" stroke="#111" stroke-width="1.4"/>
<circle cx="1884.4" cy="253.6" r="3.55" fill="#80CFD0" stroke="#111" stroke-width="1.4"/>
<circle cx="1892.0" cy="255.0" r="3.55" fill="#80CFD0" stroke="#111" stroke-width="1.4"/>
<circle cx="1888.0" cy="259.6" r="3.55" fill="#80CFD0" stroke="#111" stroke-width="1.4"/>
<circle cx="1888.0" cy="273.4" r="3.55" fill="#80CFD0" stroke="#111" stroke-width="1.4"/>
<circle cx="1880.6" cy="281.4" r="3.55" fill="#80CFD0" stroke="#111" stroke-width="1.4"/>
<circle cx="1892.0" cy="285.4" r="3.55" fill="#80CFD0" stroke="#111" stroke-width="1.4"/>
<circle cx="1887.0" cy="287.0" r="3.55" fill="#80CFD0" stroke="#111" stroke-width="1.4"/>
<circle cx="1880.6" cy="290.6" r="3.55" fill="#80CFD0" stroke="#111" stroke-width="1.4"/>
<circle cx="1895.6" cy="291.2" r="3.55" fill="#80CFD0" stroke="#111" stroke-width="1.4"/>
<circle cx="1888.0" cy="300.4" r="3.55" fill="#80CFD0" stroke="#111" stroke-width="1.4"/>
<circle cx="1884.4" cy="313.0" r="3.55" fill="#80CFD0" stroke="#111" stroke-width="1.4"/>
<circle cx="1880.6" cy="315.0" r="3.55" fill="#80CFD0" stroke="#111" stroke-width="1.4"/>
<circle cx="1892.0" cy="317.6" r="3.55" fill="#80CFD0" stroke="#111" stroke-width="1.4"/>
<circle cx="1888.0" cy="319.0" r="3.55" fill="#80CFD0" stroke="#111" stroke-width="1.4"/>
<circle cx="1884.0" cy="393.4" r="3.55" fill="#80CFD0" stroke="#111" stroke-width="1.4"/>
<circle cx="1888.0" cy="393.4" r="3.55" fill="#80CFD0" stroke="#111" stroke-width="1.4"/>
<circle cx="1891.6" cy="393.4" r="3.55" fill="#80CFD0" stroke="#111" stroke-width="1.4"/>
<circle cx="1936.0" cy="235.6" r="3.55" fill="#E77775" stroke="#111" stroke-width="1.4"/>
<circle cx="1939.6" cy="235.6" r="3.55" fill="#E77775" stroke="#111" stroke-width="1.4"/>
<circle cx="1943.4" cy="235.0" r="3.55" fill="#E77775" stroke="#111" stroke-width="1.4"/>
<circle cx="1950.6" cy="236.0" r="3.55" fill="#E77775" stroke="#111" stroke-width="1.4"/>
<circle cx="1947.0" cy="242.4" r="3.55" fill="#E77775" stroke="#111" stroke-width="1.4"/>
<circle cx="1939.6" cy="245.0" r="3.55" fill="#E77775" stroke="#111" stroke-width="1.4"/>
<circle cx="1943.4" cy="251.0" r="3.55" fill="#E77775" stroke="#111" stroke-width="1.4"/>
<circle cx="1939.6" cy="254.4" r="3.55" fill="#E77775" stroke="#111" stroke-width="1.4"/>
<circle cx="1947.0" cy="254.4" r="3.55" fill="#E77775" stroke="#111" stroke-width="1.4"/>
<circle cx="1947.0" cy="261.0" r="3.55" fill="#E77775" stroke="#111" stroke-width="1.4"/>
<circle cx="1943.4" cy="267.0" r="3.55" fill="#E77775" stroke="#111" stroke-width="1.4"/>
<circle cx="1939.6" cy="272.0" r="3.55" fill="#E77775" stroke="#111" stroke-width="1.4"/>
<circle cx="1943.4" cy="277.6" r="3.55" fill="#E77775" stroke="#111" stroke-width="1.4"/>
<circle cx="1941.0" cy="308.4" r="3.55" fill="#E77775" stroke="#111" stroke-width="1.4"/>
<circle cx="1945.0" cy="312.0" r="3.55" fill="#E77775" stroke="#111" stroke-width="1.4"/>
<circle cx="1947.0" cy="322.4" r="3.55" fill="#E77775" stroke="#111" stroke-width="1.4"/>
<circle cx="1943.0" cy="327.0" r="3.55" fill="#E77775" stroke="#111" stroke-width="1.4"/>
<circle cx="1943.4" cy="338.0" r="3.55" fill="#E77775" stroke="#111" stroke-width="1.4"/>
<circle cx="1976.4" cy="204.4" r="3.55" fill="#80CFD0" stroke="#111" stroke-width="1.4"/>
<circle cx="1976.4" cy="216.6" r="3.55" fill="#80CFD0" stroke="#111" stroke-width="1.4"/>
<circle cx="1984.0" cy="216.6" r="3.55" fill="#80CFD0" stroke="#111" stroke-width="1.4"/>
<circle cx="1976.4" cy="228.0" r="3.55" fill="#80CFD0" stroke="#111" stroke-width="1.4"/>
<circle cx="1969.0" cy="232.4" r="3.55" fill="#80CFD0" stroke="#111" stroke-width="1.4"/>
<circle cx="1984.0" cy="234.0" r="3.55" fill="#80CFD0" stroke="#111" stroke-width="1.4"/>
<circle cx="1976.4" cy="236.4" r="3.55" fill="#80CFD0" stroke="#111" stroke-width="1.4"/>
<circle cx="1976.4" cy="254.6" r="3.55" fill="#80CFD0" stroke="#111" stroke-width="1.4"/>
<circle cx="1976.4" cy="264.2" r="3.55" fill="#80CFD0" stroke="#111" stroke-width="1.4"/>
<circle cx="1969.0" cy="276.8" r="3.55" fill="#80CFD0" stroke="#111" stroke-width="1.4"/>
<circle cx="1976.4" cy="278.4" r="3.55" fill="#80CFD0" stroke="#111" stroke-width="1.4"/>
<circle cx="1984.0" cy="276.8" r="3.55" fill="#80CFD0" stroke="#111" stroke-width="1.4"/>
<circle cx="1984.0" cy="287.8" r="3.55" fill="#80CFD0" stroke="#111" stroke-width="1.4"/>
<circle cx="1969.0" cy="292.6" r="3.55" fill="#80CFD0" stroke="#111" stroke-width="1.4"/>
<circle cx="1984.0" cy="296.8" r="3.55" fill="#80CFD0" stroke="#111" stroke-width="1.4"/>
<circle cx="1976.4" cy="302.2" r="3.55" fill="#80CFD0" stroke="#111" stroke-width="1.4"/>
<circle cx="1984.0" cy="314.0" r="3.55" fill="#80CFD0" stroke="#111" stroke-width="1.4"/>
<circle cx="1976.4" cy="318.6" r="3.55" fill="#80CFD0" stroke="#111" stroke-width="1.4"/>
<circle cx="1976.4" cy="331.4" r="3.55" fill="#80CFD0" stroke="#111" stroke-width="1.4"/>
<line x1="1755.6" y1="291.0" x2="1777.6" y2="291.0" stroke="#000" stroke-width="2.8" />
<line x1="1788.6" y1="295.0" x2="1810.6" y2="295.0" stroke="#000" stroke-width="2.8" />
<line x1="1843.4" y1="302.4" x2="1865.6" y2="302.4" stroke="#000" stroke-width="2.8" />
<line x1="1876.6" y1="290.6" x2="1899.0" y2="290.6" stroke="#000" stroke-width="2.8" />
<line x1="1932.0" y1="261.0" x2="1954.6" y2="261.0" stroke="#000" stroke-width="2.8" />
<line x1="1965.0" y1="277.0" x2="1987.6" y2="277.0" stroke="#000" stroke-width="2.8" />
<text x="154" y="820" font-size="23.5" font-weight="bold">RBD<tspan font-size="20.5" dy="-6.5">+</tspan><tspan dy="6.5">/Spike</tspan><tspan font-size="20.5" dy="-6.5">+</tspan><tspan dy="6.5"> IgG</tspan></text>
<line x1="121.4" y1="850.9" x2="121.4" y2="1106.9" stroke="#000" stroke-width="3.0" />
<line x1="111" y1="852.4" x2="121.4" y2="852.4" stroke="#000" stroke-width="3.0" />
<line x1="111" y1="936.8" x2="121.4" y2="936.8" stroke="#000" stroke-width="3.0" />
<line x1="111" y1="1021.1" x2="121.4" y2="1021.1" stroke="#000" stroke-width="3.0" />
<line x1="111" y1="1105.4" x2="374" y2="1105.4" stroke="#000" stroke-width="3.0" />
<line x1="159.4" y1="1105.4" x2="159.4" y2="1116" stroke="#000" stroke-width="3.0" />
<line x1="247.6" y1="1105.4" x2="247.6" y2="1116" stroke="#000" stroke-width="3.0" />
<line x1="335.6" y1="1105.4" x2="335.6" y2="1116" stroke="#000" stroke-width="3.0" />
<text x="84.82" y="858.6" font-size="18.8" font-weight="bold">60</text>
<text x="84.82" y="943" font-size="18.8" font-weight="bold">40</text>
<text x="84.82" y="1027.2" font-size="18.8" font-weight="bold">20</text>
<text x="95.29" y="1111.6" font-size="18.8" font-weight="bold">0</text>
<text x="70" y="978.5" font-size="20" font-weight="bold" text-anchor="middle" transform="rotate(-90 70 978.5)" textLength="287" lengthAdjust="spacingAndGlyphs">Freq. in Spike<tspan font-size="16" dy="-6">+</tspan><tspan dy="6"> IgG B cells (%)</tspan></text>
<text x="128.72" y="1136.5" font-size="19.15" font-weight="bold">Day 14</text>
<text x="216.71" y="1136.5" font-size="19.3" font-weight="bold">Day 28</text>
<text x="304.71" y="1136.5" font-size="19.3" font-weight="bold">Day 68</text>
<path d="M142.3 1017.4V973.5H177.3V992.6" stroke="#000" stroke-width="1.5" fill="none" />
<text x="146.46" y="961.4" font-size="13.46">0.07</text>
<path d="M230.4 1018V947H319.4V965.8" stroke="#000" stroke-width="1.5" fill="none" />
<text x="274.6" y="946.0" font-size="25" font-weight="bold" text-anchor="middle" stroke="#000" stroke-width="0.3" textLength="19.6" lengthAdjust="spacingAndGlyphs">**</text>
<circle cx="143.6" cy="1035.4" r="3.55" fill="#E77775" stroke="#111" stroke-width="1.4"/>
<circle cx="139.6" cy="1043.6" r="3.55" fill="#E77775" stroke="#111" stroke-width="1.4"/>
<circle cx="148.4" cy="1042.6" r="3.55" fill="#E77775" stroke="#111" stroke-width="1.4"/>
<circle cx="144.2" cy="1044.4" r="3.55" fill="#E77775" stroke="#111" stroke-width="1.4"/>
<circle cx="143.6" cy="1054.0" r="3.55" fill="#E77775" stroke="#111" stroke-width="1.4"/>
<circle cx="146.0" cy="1060.0" r="3.55" fill="#E77775" stroke="#111" stroke-width="1.4"/>
<circle cx="141.0" cy="1064.4" r="3.55" fill="#E77775" stroke="#111" stroke-width="1.4"/>
<circle cx="146.0" cy="1068.0" r="3.55" fill="#E77775" stroke="#111" stroke-width="1.4"/>
<circle cx="143.6" cy="1073.4" r="3.55" fill="#E77775" stroke="#111" stroke-width="1.4"/>
<circle cx="138.6" cy="1076.4" r="3.55" fill="#E77775" stroke="#111" stroke-width="1.4"/>
<circle cx="148.4" cy="1076.0" r="3.55" fill="#E77775" stroke="#111" stroke-width="1.4"/>
<circle cx="141.0" cy="1082.0" r="3.55" fill="#E77775" stroke="#111" stroke-width="1.4"/>
<circle cx="146.0" cy="1081.0" r="3.55" fill="#E77775" stroke="#111" stroke-width="1.4"/>
<circle cx="151.0" cy="1082.4" r="3.55" fill="#E77775" stroke="#111" stroke-width="1.4"/>
<circle cx="143.6" cy="1087.6" r="3.55" fill="#E77775" stroke="#111" stroke-width="1.4"/>
<circle cx="148.4" cy="1093.4" r="3.55" fill="#E77775" stroke="#111" stroke-width="1.4"/>
<circle cx="139.0" cy="1096.6" r="3.55" fill="#E77775" stroke="#111" stroke-width="1.4"/>
<circle cx="143.6" cy="1091.0" r="3.55" fill="#E77775" stroke="#111" stroke-width="1.4"/>
<circle cx="176.0" cy="1017.4" r="3.55" fill="#80CFD0" stroke="#111" stroke-width="1.4"/>
<circle cx="173.6" cy="1023.6" r="3.55" fill="#80CFD0" stroke="#111" stroke-width="1.4"/>
<circle cx="178.4" cy="1023.6" r="3.55" fill="#80CFD0" stroke="#111" stroke-width="1.4"/>
<circle cx="176.0" cy="1028.4" r="3.55" fill="#80CFD0" stroke="#111" stroke-width="1.4"/>
<circle cx="174.0" cy="1034.0" r="3.55" fill="#80CFD0" stroke="#111" stroke-width="1.4"/>
<circle cx="176.0" cy="1052.6" r="3.55" fill="#80CFD0" stroke="#111" stroke-width="1.4"/>
<circle cx="171.6" cy="1054.6" r="3.55" fill="#80CFD0" stroke="#111" stroke-width="1.4"/>
<circle cx="179.0" cy="1054.0" r="3.55" fill="#80CFD0" stroke="#111" stroke-width="1.4"/>
<circle cx="171.0" cy="1058.4" r="3.55" fill="#80CFD0" stroke="#111" stroke-width="1.4"/>
<circle cx="181.0" cy="1058.4" r="3.55" fill="#80CFD0" stroke="#111" stroke-width="1.4"/>
<circle cx="176.0" cy="1062.0" r="3.55" fill="#80CFD0" stroke="#111" stroke-width="1.4"/>
<circle cx="168.6" cy="1066.4" r="3.55" fill="#80CFD0" stroke="#111" stroke-width="1.4"/>
<circle cx="183.6" cy="1065.0" r="3.55" fill="#80CFD0" stroke="#111" stroke-width="1.4"/>
<circle cx="173.6" cy="1068.0" r="3.55" fill="#80CFD0" stroke="#111" stroke-width="1.4"/>
<circle cx="178.6" cy="1069.0" r="3.55" fill="#80CFD0" stroke="#111" stroke-width="1.4"/>
<circle cx="171.0" cy="1072.0" r="3.55" fill="#80CFD0" stroke="#111" stroke-width="1.4"/>
<circle cx="183.0" cy="1071.0" r="3.55" fill="#80CFD0" stroke="#111" stroke-width="1.4"/>
<circle cx="176.0" cy="1074.0" r="3.55" fill="#80CFD0" stroke="#111" stroke-width="1.4"/>
<circle cx="178.6" cy="1079.6" r="3.55" fill="#80CFD0" stroke="#111" stroke-width="1.4"/>
<circle cx="175.0" cy="1087.4" r="3.55" fill="#80CFD0" stroke="#111" stroke-width="1.4"/>
<circle cx="231.4" cy="1036.4" r="3.55" fill="#E77775" stroke="#111" stroke-width="1.4"/>
<circle cx="234.4" cy="1052.6" r="3.55" fill="#E77775" stroke="#111" stroke-width="1.4"/>
<circle cx="227.4" cy="1055.4" r="3.55" fill="#E77775" stroke="#111" stroke-width="1.4"/>
<circle cx="231.0" cy="1063.0" r="3.55" fill="#E77775" stroke="#111" stroke-width="1.4"/>
<circle cx="227.4" cy="1069.0" r="3.55" fill="#E77775" stroke="#111" stroke-width="1.4"/>
<circle cx="238.6" cy="1068.4" r="3.55" fill="#E77775" stroke="#111" stroke-width="1.4"/>
<circle cx="231.4" cy="1072.0" r="3.55" fill="#E77775" stroke="#111" stroke-width="1.4"/>
<circle cx="236.0" cy="1076.0" r="3.55" fill="#E77775" stroke="#111" stroke-width="1.4"/>
<circle cx="226.6" cy="1077.0" r="3.55" fill="#E77775" stroke="#111" stroke-width="1.4"/>
<circle cx="223.6" cy="1084.0" r="3.55" fill="#E77775" stroke="#111" stroke-width="1.4"/>
<circle cx="229.0" cy="1083.0" r="3.55" fill="#E77775" stroke="#111" stroke-width="1.4"/>
<circle cx="234.0" cy="1084.0" r="3.55" fill="#E77775" stroke="#111" stroke-width="1.4"/>
<circle cx="239.0" cy="1084.4" r="3.55" fill="#E77775" stroke="#111" stroke-width="1.4"/>
<circle cx="227.4" cy="1090.0" r="3.55" fill="#E77775" stroke="#111" stroke-width="1.4"/>
<circle cx="232.0" cy="1090.0" r="3.55" fill="#E77775" stroke="#111" stroke-width="1.4"/>
<circle cx="236.6" cy="1090.0" r="3.55" fill="#E77775" stroke="#111" stroke-width="1.4"/>
<circle cx="234.4" cy="1096.6" r="3.55" fill="#E77775" stroke="#111" stroke-width="1.4"/>
<circle cx="229.0" cy="1105.4" r="3.55" fill="#E77775" stroke="#111" stroke-width="1.4"/>
<circle cx="232.4" cy="1105.4" r="3.55" fill="#E77775" stroke="#111" stroke-width="1.4"/>
<circle cx="264.0" cy="1009.4" r="3.55" fill="#80CFD0" stroke="#111" stroke-width="1.4"/>
<circle cx="264.0" cy="1025.6" r="3.55" fill="#80CFD0" stroke="#111" stroke-width="1.4"/>
<circle cx="264.0" cy="1042.6" r="3.55" fill="#80CFD0" stroke="#111" stroke-width="1.4"/>
<circle cx="264.0" cy="1048.4" r="3.55" fill="#80CFD0" stroke="#111" stroke-width="1.4"/>
<circle cx="260.6" cy="1054.0" r="3.55" fill="#80CFD0" stroke="#111" stroke-width="1.4"/>
<circle cx="268.0" cy="1056.0" r="3.55" fill="#80CFD0" stroke="#111" stroke-width="1.4"/>
<circle cx="265.6" cy="1062.4" r="3.55" fill="#80CFD0" stroke="#111" stroke-width="1.4"/>
<circle cx="257.0" cy="1067.6" r="3.55" fill="#80CFD0" stroke="#111" stroke-width="1.4"/>
<circle cx="271.6" cy="1069.0" r="3.55" fill="#80CFD0" stroke="#111" stroke-width="1.4"/>
<circle cx="262.0" cy="1072.0" r="3.55" fill="#80CFD0" stroke="#111" stroke-width="1.4"/>
<circle cx="268.0" cy="1072.0" r="3.55" fill="#80CFD0" stroke="#111" stroke-width="1.4"/>
<circle cx="260.6" cy="1075.0" r="3.55" fill="#80CFD0" stroke="#111" stroke-width="1.4"/>
<circle cx="264.0" cy="1077.0" r="3.55" fill="#80CFD0" stroke="#111" stroke-width="1.4"/>
<circle cx="264.0" cy="1085.0" r="3.55" fill="#80CFD0" stroke="#111" stroke-width="1.4"/>
<circle cx="260.4" cy="1105.4" r="3.55" fill="#80CFD0" stroke="#111" stroke-width="1.4"/>
<circle cx="264.4" cy="1105.4" r="3.55" fill="#80CFD0" stroke="#111" stroke-width="1.4"/>
<circle cx="268.0" cy="1105.4" r="3.55" fill="#80CFD0" stroke="#111" stroke-width="1.4"/>
<circle cx="319.0" cy="982.4" r="3.55" fill="#E77775" stroke="#111" stroke-width="1.4"/>
<circle cx="316.6" cy="990.6" r="3.55" fill="#E77775" stroke="#111" stroke-width="1.4"/>
<circle cx="321.6" cy="991.0" r="3.55" fill="#E77775" stroke="#111" stroke-width="1.4"/>
<circle cx="326.4" cy="1003.6" r="3.55" fill="#E77775" stroke="#111" stroke-width="1.4"/>
<circle cx="316.6" cy="1005.0" r="3.55" fill="#E77775" stroke="#111" stroke-width="1.4"/>
<circle cx="312.0" cy="1010.4" r="3.55" fill="#E77775" stroke="#111" stroke-width="1.4"/>
<circle cx="321.6" cy="1009.6" r="3.55" fill="#E77775" stroke="#111" stroke-width="1.4"/>
<circle cx="316.6" cy="1028.0" r="3.55" fill="#E77775" stroke="#111" stroke-width="1.4"/>
<circle cx="322.0" cy="1030.4" r="3.55" fill="#E77775" stroke="#111" stroke-width="1.4"/>
<circle cx="316.6" cy="1036.4" r="3.55" fill="#E77775" stroke="#111" stroke-width="1.4"/>
<circle cx="321.6" cy="1047.0" r="3.55" fill="#E77775" stroke="#111" stroke-width="1.4"/>
<circle cx="316.6" cy="1049.6" r="3.55" fill="#E77775" stroke="#111" stroke-width="1.4"/>
<circle cx="319.0" cy="1065.6" r="3.55" fill="#E77775" stroke="#111" stroke-width="1.4"/>
<circle cx="326.4" cy="1078.6" r="3.55" fill="#E77775" stroke="#111" stroke-width="1.4"/>
<circle cx="321.6" cy="1081.6" r="3.55" fill="#E77775" stroke="#111" stroke-width="1.4"/>
<circle cx="312.0" cy="1084.0" r="3.55" fill="#E77775" stroke="#111" stroke-width="1.4"/>
<circle cx="326.4" cy="1087.0" r="3.55" fill="#E77775" stroke="#111" stroke-width="1.4"/>
<circle cx="321.6" cy="1092.6" r="3.55" fill="#E77775" stroke="#111" stroke-width="1.4"/>
<circle cx="312.0" cy="1094.4" r="3.55" fill="#E77775" stroke="#111" stroke-width="1.4"/>
<circle cx="352.0" cy="885.6" r="3.55" fill="#80CFD0" stroke="#111" stroke-width="1.4"/>
<circle cx="354.4" cy="902.4" r="3.55" fill="#80CFD0" stroke="#111" stroke-width="1.4"/>
<circle cx="349.6" cy="906.0" r="3.55" fill="#80CFD0" stroke="#111" stroke-width="1.4"/>
<circle cx="352.0" cy="962.6" r="3.55" fill="#80CFD0" stroke="#111" stroke-width="1.4"/>
<circle cx="349.6" cy="973.6" r="3.55" fill="#80CFD0" stroke="#111" stroke-width="1.4"/>
<circle cx="354.6" cy="978.0" r="3.55" fill="#80CFD0" stroke="#111" stroke-width="1.4"/>
<circle cx="349.6" cy="994.0" r="3.55" fill="#80CFD0" stroke="#111" stroke-width="1.4"/>
<circle cx="354.4" cy="997.4" r="3.55" fill="#80CFD0" stroke="#111" stroke-width="1.4"/>
<circle cx="354.4" cy="1037.0" r="3.55" fill="#80CFD0" stroke="#111" stroke-width="1.4"/>
<circle cx="349.6" cy="1041.6" r="3.55" fill="#80CFD0" stroke="#111" stroke-width="1.4"/>
<circle cx="354.4" cy="1051.0" r="3.55" fill="#80CFD0" stroke="#111" stroke-width="1.4"/>
<circle cx="349.6" cy="1058.4" r="3.55" fill="#80CFD0" stroke="#111" stroke-width="1.4"/>
<circle cx="349.6" cy="1070.4" r="3.55" fill="#80CFD0" stroke="#111" stroke-width="1.4"/>
<circle cx="354.4" cy="1073.4" r="3.55" fill="#80CFD0" stroke="#111" stroke-width="1.4"/>
<circle cx="360.0" cy="1073.6" r="3.55" fill="#80CFD0" stroke="#111" stroke-width="1.4"/>
<circle cx="344.4" cy="1078.4" r="3.55" fill="#80CFD0" stroke="#111" stroke-width="1.4"/>
<circle cx="349.6" cy="1085.0" r="3.55" fill="#80CFD0" stroke="#111" stroke-width="1.4"/>
<circle cx="354.4" cy="1090.0" r="3.55" fill="#80CFD0" stroke="#111" stroke-width="1.4"/>
<circle cx="349.6" cy="1096.0" r="3.55" fill="#80CFD0" stroke="#111" stroke-width="1.4"/>
<line x1="132.4" y1="1073.4" x2="154.4" y2="1073.4" stroke="#000" stroke-width="2.8" />
<line x1="165.0" y1="1064.4" x2="187.0" y2="1064.4" stroke="#000" stroke-width="2.8" />
<line x1="220.4" y1="1080.0" x2="241.6" y2="1080.0" stroke="#000" stroke-width="2.8" />
<line x1="253.0" y1="1067.0" x2="275.0" y2="1067.0" stroke="#000" stroke-width="2.8" />
<line x1="308.0" y1="1035.6" x2="330.0" y2="1035.6" stroke="#000" stroke-width="2.8" />
<line x1="341.0" y1="1041.0" x2="363.0" y2="1041.0" stroke="#000" stroke-width="2.8" />
<text x="830" y="724.2" font-size="33.3" fill="#1a1a1a">RBD<tspan font-size="26" dy="-10">+</tspan><tspan dy="10"> IgG B cells</tspan></text>
<line x1="617.8" y1="747" x2="1276" y2="747" stroke="#111" stroke-width="3.4" stroke-linecap="round"/>
<text x="684.38" y="819" font-size="24.26" font-weight="bold" fill="#EC9546">Beta-binding</text>
<line x1="631" y1="850.3" x2="631" y2="1061.9" stroke="#000" stroke-width="3.0" />
<line x1="617.6" y1="851.8" x2="631" y2="851.8" stroke="#000" stroke-width="3.0" />
<line x1="617.6" y1="904" x2="631" y2="904" stroke="#000" stroke-width="3.0" />
<line x1="617.6" y1="956" x2="631" y2="956" stroke="#000" stroke-width="3.0" />
<line x1="617.6" y1="1008" x2="631" y2="1008" stroke="#000" stroke-width="3.0" />
<line x1="623.5" y1="1060.4" x2="638.5" y2="1060.4" stroke="#000" stroke-width="3.0" />
<line x1="623.5" y1="1082.6" x2="638.5" y2="1082.6" stroke="#000" stroke-width="3.0" />
<line x1="631" y1="1081.1" x2="631" y2="1106.9" stroke="#000" stroke-width="3.0" />
<line x1="620" y1="1093.3" x2="631" y2="1093.3" stroke="#000" stroke-width="3.6" />
<line x1="629.6" y1="1105.4" x2="885" y2="1105.4" stroke="#000" stroke-width="3.0" />
<line x1="669" y1="1105.4" x2="669" y2="1116.4" stroke="#000" stroke-width="3.0" />
<line x1="757.4" y1="1105.4" x2="757.4" y2="1116.4" stroke="#000" stroke-width="3.0" />
<line x1="846" y1="1105.4" x2="846" y2="1116.4" stroke="#000" stroke-width="3.0" />
<line x1="635.6" y1="1093.3" x2="882.5" y2="1093.3" stroke="#000" stroke-width="2.5" stroke-dasharray="0.01 5.02" stroke-linecap="round"/>
<text x="601.1" y="857.8" font-size="18.8" font-weight="bold">1</text>
<text x="585.43" y="910" font-size="18.8" font-weight="bold">0.1</text>
<text x="574.97" y="962" font-size="18.8" font-weight="bold">0.01</text>
<text x="564.5" y="1014" font-size="18.8" font-weight="bold">0.001</text>
<text x="554.04" y="1066.6" font-size="18.8" font-weight="bold">0.0001</text>
<text x="573.75" y="1099.6" font-size="18.75" font-weight="bold">N.D.</text>
<text x="543.6" y="1069.36" font-size="20.39" font-weight="bold" transform="rotate(-90 543.6 1069.36)">Freq. in B cells (%)</text>
<text x="638.11" y="1136.6" font-size="19.34" font-weight="bold">Day 14</text>
<text x="726.71" y="1136.6" font-size="19.3" font-weight="bold">Day 28</text>
<text x="814.7" y="1136.6" font-size="19.49" font-weight="bold">Day 68</text>
<path d="M651 912V866.4H830.4V887.4" stroke="#000" stroke-width="1.5" fill="none" />
<text x="740.6" y="865.4" font-size="25" font-weight="bold" text-anchor="middle" stroke="#000" stroke-width="0.3">*</text>
<path d="M774 860.6V851.2H863V884" stroke="#000" stroke-width="1.5" fill="none" />
<text x="805.45" y="840" font-size="13.63">0.08</text>
<path d="M739 922V894.4H830.6V906" stroke="#000" stroke-width="1.5" fill="none" />
<text x="785" y="892.8" font-size="25" font-weight="bold" text-anchor="middle" stroke="#000" stroke-width="0.3">*</text>
<circle cx="653.4" cy="923.6" r="3.55" fill="#E77775" stroke="#111" stroke-width="1.4"/>
<circle cx="651.0" cy="928.6" r="3.55" fill="#E77775" stroke="#111" stroke-width="1.4"/>
<circle cx="655.6" cy="933.4" r="3.55" fill="#E77775" stroke="#111" stroke-width="1.4"/>
<circle cx="653.4" cy="946.4" r="3.55" fill="#E77775" stroke="#111" stroke-width="1.4"/>
<circle cx="649.0" cy="956.4" r="3.55" fill="#E77775" stroke="#111" stroke-width="1.4"/>
<circle cx="658.4" cy="956.0" r="3.55" fill="#E77775" stroke="#111" stroke-width="1.4"/>
<circle cx="653.4" cy="958.6" r="3.55" fill="#E77775" stroke="#111" stroke-width="1.4"/>
<circle cx="655.6" cy="965.6" r="3.55" fill="#E77775" stroke="#111" stroke-width="1.4"/>
<circle cx="651.0" cy="970.0" r="3.55" fill="#E77775" stroke="#111" stroke-width="1.4"/>
<circle cx="646.0" cy="975.0" r="3.55" fill="#E77775" stroke="#111" stroke-width="1.4"/>
<circle cx="653.4" cy="975.0" r="3.55" fill="#E77775" stroke="#111" stroke-width="1.4"/>
<circle cx="658.4" cy="974.4" r="3.55" fill="#E77775" stroke="#111" stroke-width="1.4"/>
<circle cx="661.0" cy="979.0" r="3.55" fill="#E77775" stroke="#111" stroke-width="1.4"/>
<circle cx="656.0" cy="979.0" r="3.55" fill="#E77775" stroke="#111" stroke-width="1.4"/>
<circle cx="651.0" cy="982.4" r="3.55" fill="#E77775" stroke="#111" stroke-width="1.4"/>
<circle cx="653.4" cy="1009.0" r="3.55" fill="#E77775" stroke="#111" stroke-width="1.4"/>
<circle cx="648.6" cy="1011.6" r="3.55" fill="#E77775" stroke="#111" stroke-width="1.4"/>
<circle cx="658.0" cy="1010.6" r="3.55" fill="#E77775" stroke="#111" stroke-width="1.4"/>
<circle cx="686.0" cy="904.0" r="3.55" fill="#80CFD0" stroke="#111" stroke-width="1.4"/>
<circle cx="686.0" cy="912.4" r="3.55" fill="#80CFD0" stroke="#111" stroke-width="1.4"/>
<circle cx="686.0" cy="934.4" r="3.55" fill="#80CFD0" stroke="#111" stroke-width="1.4"/>
<circle cx="683.4" cy="945.0" r="3.55" fill="#80CFD0" stroke="#111" stroke-width="1.4"/>
<circle cx="688.4" cy="945.0" r="3.55" fill="#80CFD0" stroke="#111" stroke-width="1.4"/>
<circle cx="693.4" cy="945.6" r="3.55" fill="#80CFD0" stroke="#111" stroke-width="1.4"/>
<circle cx="679.0" cy="951.0" r="3.55" fill="#80CFD0" stroke="#111" stroke-width="1.4"/>
<circle cx="694.0" cy="953.0" r="3.55" fill="#80CFD0" stroke="#111" stroke-width="1.4"/>
<circle cx="688.4" cy="957.6" r="3.55" fill="#80CFD0" stroke="#111" stroke-width="1.4"/>
<circle cx="684.0" cy="964.0" r="3.55" fill="#80CFD0" stroke="#111" stroke-width="1.4"/>
<circle cx="679.0" cy="970.0" r="3.55" fill="#80CFD0" stroke="#111" stroke-width="1.4"/>
<circle cx="693.6" cy="970.0" r="3.55" fill="#80CFD0" stroke="#111" stroke-width="1.4"/>
<circle cx="688.4" cy="975.0" r="3.55" fill="#80CFD0" stroke="#111" stroke-width="1.4"/>
<circle cx="679.0" cy="977.6" r="3.55" fill="#80CFD0" stroke="#111" stroke-width="1.4"/>
<circle cx="684.0" cy="983.0" r="3.55" fill="#80CFD0" stroke="#111" stroke-width="1.4"/>
<circle cx="679.0" cy="988.0" r="3.55" fill="#80CFD0" stroke="#111" stroke-width="1.4"/>
<circle cx="688.4" cy="988.0" r="3.55" fill="#80CFD0" stroke="#111" stroke-width="1.4"/>
<circle cx="693.6" cy="987.6" r="3.55" fill="#80CFD0" stroke="#111" stroke-width="1.4"/>
<circle cx="744.0" cy="932.6" r="3.55" fill="#E77775" stroke="#111" stroke-width="1.4"/>
<circle cx="749.0" cy="937.6" r="3.55" fill="#E77775" stroke="#111" stroke-width="1.4"/>
<circle cx="734.0" cy="942.4" r="3.55" fill="#E77775" stroke="#111" stroke-width="1.4"/>
<circle cx="739.0" cy="943.0" r="3.55" fill="#E77775" stroke="#111" stroke-width="1.4"/>
<circle cx="744.0" cy="950.0" r="3.55" fill="#E77775" stroke="#111" stroke-width="1.4"/>
<circle cx="749.0" cy="949.6" r="3.55" fill="#E77775" stroke="#111" stroke-width="1.4"/>
<circle cx="739.0" cy="956.0" r="3.55" fill="#E77775" stroke="#111" stroke-width="1.4"/>
<circle cx="746.6" cy="957.0" r="3.55" fill="#E77775" stroke="#111" stroke-width="1.4"/>
<circle cx="749.0" cy="962.0" r="3.55" fill="#E77775" stroke="#111" stroke-width="1.4"/>
<circle cx="736.0" cy="964.0" r="3.55" fill="#E77775" stroke="#111" stroke-width="1.4"/>
<circle cx="741.6" cy="963.6" r="3.55" fill="#E77775" stroke="#111" stroke-width="1.4"/>
<circle cx="734.0" cy="974.0" r="3.55" fill="#E77775" stroke="#111" stroke-width="1.4"/>
<circle cx="746.0" cy="975.0" r="3.55" fill="#E77775" stroke="#111" stroke-width="1.4"/>
<circle cx="739.0" cy="978.0" r="3.55" fill="#E77775" stroke="#111" stroke-width="1.4"/>
<circle cx="749.0" cy="981.6" r="3.55" fill="#E77775" stroke="#111" stroke-width="1.4"/>
<circle cx="734.0" cy="984.0" r="3.55" fill="#E77775" stroke="#111" stroke-width="1.4"/>
<circle cx="744.0" cy="983.6" r="3.55" fill="#E77775" stroke="#111" stroke-width="1.4"/>
<circle cx="741.0" cy="997.0" r="3.55" fill="#E77775" stroke="#111" stroke-width="1.4"/>
<circle cx="741.0" cy="1014.0" r="3.55" fill="#E77775" stroke="#111" stroke-width="1.4"/>
<circle cx="739.0" cy="1093.4" r="3.55" fill="#E77775" stroke="#111" stroke-width="1.4"/>
<circle cx="743.6" cy="1093.4" r="3.55" fill="#E77775" stroke="#111" stroke-width="1.4"/>
<circle cx="774.0" cy="915.4" r="3.55" fill="#80CFD0" stroke="#111" stroke-width="1.4"/>
<circle cx="777.0" cy="933.4" r="3.55" fill="#80CFD0" stroke="#111" stroke-width="1.4"/>
<circle cx="772.0" cy="938.4" r="3.55" fill="#80CFD0" stroke="#111" stroke-width="1.4"/>
<circle cx="777.0" cy="941.6" r="3.55" fill="#80CFD0" stroke="#111" stroke-width="1.4"/>
<circle cx="772.0" cy="948.0" r="3.55" fill="#80CFD0" stroke="#111" stroke-width="1.4"/>
<circle cx="772.0" cy="955.0" r="3.55" fill="#80CFD0" stroke="#111" stroke-width="1.4"/>
<circle cx="782.0" cy="957.0" r="3.55" fill="#80CFD0" stroke="#111" stroke-width="1.4"/>
<circle cx="767.0" cy="963.0" r="3.55" fill="#80CFD0" stroke="#111" stroke-width="1.4"/>
<circle cx="777.0" cy="962.4" r="3.55" fill="#80CFD0" stroke="#111" stroke-width="1.4"/>
<circle cx="772.0" cy="964.0" r="3.55" fill="#80CFD0" stroke="#111" stroke-width="1.4"/>
<circle cx="777.0" cy="971.0" r="3.55" fill="#80CFD0" stroke="#111" stroke-width="1.4"/>
<circle cx="767.0" cy="974.0" r="3.55" fill="#80CFD0" stroke="#111" stroke-width="1.4"/>
<circle cx="772.0" cy="979.0" r="3.55" fill="#80CFD0" stroke="#111" stroke-width="1.4"/>
<circle cx="777.0" cy="979.0" r="3.55" fill="#80CFD0" stroke="#111" stroke-width="1.4"/>
<circle cx="772.0" cy="988.0" r="3.55" fill="#80CFD0" stroke="#111" stroke-width="1.4"/>
<circle cx="777.0" cy="989.4" r="3.55" fill="#80CFD0" stroke="#111" stroke-width="1.4"/>
<circle cx="770.0" cy="1093.4" r="3.55" fill="#80CFD0" stroke="#111" stroke-width="1.4"/>
<circle cx="774.4" cy="1093.4" r="3.55" fill="#80CFD0" stroke="#111" stroke-width="1.4"/>
<circle cx="779.0" cy="1093.4" r="3.55" fill="#80CFD0" stroke="#111" stroke-width="1.4"/>
<circle cx="837.0" cy="917.0" r="3.55" fill="#E77775" stroke="#111" stroke-width="1.4"/>
<circle cx="832.0" cy="918.0" r="3.55" fill="#E77775" stroke="#111" stroke-width="1.4"/>
<circle cx="822.0" cy="920.0" r="3.55" fill="#E77775" stroke="#111" stroke-width="1.4"/>
<circle cx="827.0" cy="920.4" r="3.55" fill="#E77775" stroke="#111" stroke-width="1.4"/>
<circle cx="837.0" cy="923.6" r="3.55" fill="#E77775" stroke="#111" stroke-width="1.4"/>
<circle cx="827.0" cy="927.0" r="3.55" fill="#E77775" stroke="#111" stroke-width="1.4"/>
<circle cx="822.0" cy="928.4" r="3.55" fill="#E77775" stroke="#111" stroke-width="1.4"/>
<circle cx="832.0" cy="929.0" r="3.55" fill="#E77775" stroke="#111" stroke-width="1.4"/>
<circle cx="827.0" cy="938.0" r="3.55" fill="#E77775" stroke="#111" stroke-width="1.4"/>
<circle cx="835.0" cy="942.0" r="3.55" fill="#E77775" stroke="#111" stroke-width="1.4"/>
<circle cx="827.0" cy="949.0" r="3.55" fill="#E77775" stroke="#111" stroke-width="1.4"/>
<circle cx="832.0" cy="948.0" r="3.55" fill="#E77775" stroke="#111" stroke-width="1.4"/>
<circle cx="829.6" cy="955.6" r="3.55" fill="#E77775" stroke="#111" stroke-width="1.4"/>
<circle cx="829.6" cy="972.0" r="3.55" fill="#E77775" stroke="#111" stroke-width="1.4"/>
<circle cx="834.0" cy="977.0" r="3.55" fill="#E77775" stroke="#111" stroke-width="1.4"/>
<circle cx="829.6" cy="980.4" r="3.55" fill="#E77775" stroke="#111" stroke-width="1.4"/>
<circle cx="829.6" cy="988.4" r="3.55" fill="#E77775" stroke="#111" stroke-width="1.4"/>
<circle cx="830.0" cy="1000.4" r="3.55" fill="#E77775" stroke="#111" stroke-width="1.4"/>
<circle cx="865.4" cy="897.0" r="3.55" fill="#80CFD0" stroke="#111" stroke-width="1.4"/>
<circle cx="860.6" cy="904.0" r="3.55" fill="#80CFD0" stroke="#111" stroke-width="1.4"/>
<circle cx="865.4" cy="906.0" r="3.55" fill="#80CFD0" stroke="#111" stroke-width="1.4"/>
<circle cx="860.6" cy="912.0" r="3.55" fill="#80CFD0" stroke="#111" stroke-width="1.4"/>
<circle cx="856.0" cy="917.0" r="3.55" fill="#80CFD0" stroke="#111" stroke-width="1.4"/>
<circle cx="865.4" cy="918.0" r="3.55" fill="#80CFD0" stroke="#111" stroke-width="1.4"/>
<circle cx="870.4" cy="916.4" r="3.55" fill="#80CFD0" stroke="#111" stroke-width="1.4"/>
<circle cx="863.0" cy="932.4" r="3.55" fill="#80CFD0" stroke="#111" stroke-width="1.4"/>
<circle cx="863.0" cy="940.4" r="3.55" fill="#80CFD0" stroke="#111" stroke-width="1.4"/>
<circle cx="863.0" cy="948.0" r="3.55" fill="#80CFD0" stroke="#111" stroke-width="1.4"/>
<circle cx="856.0" cy="950.0" r="3.55" fill="#80CFD0" stroke="#111" stroke-width="1.4"/>
<circle cx="863.0" cy="956.0" r="3.55" fill="#80CFD0" stroke="#111" stroke-width="1.4"/>
<circle cx="858.0" cy="966.4" r="3.55" fill="#80CFD0" stroke="#111" stroke-width="1.4"/>
<circle cx="868.0" cy="967.4" r="3.55" fill="#80CFD0" stroke="#111" stroke-width="1.4"/>
<circle cx="860.0" cy="977.4" r="3.55" fill="#80CFD0" stroke="#111" stroke-width="1.4"/>
<circle cx="865.4" cy="977.0" r="3.55" fill="#80CFD0" stroke="#111" stroke-width="1.4"/>
<circle cx="860.6" cy="1007.0" r="3.55" fill="#80CFD0" stroke="#111" stroke-width="1.4"/>
<circle cx="866.0" cy="1006.0" r="3.55" fill="#80CFD0" stroke="#111" stroke-width="1.4"/>
<line x1="641.6" y1="972.4" x2="663.6" y2="972.4" stroke="#000" stroke-width="2.8" />
<line x1="674.6" y1="960.0" x2="697.0" y2="960.0" stroke="#000" stroke-width="2.8" />
<line x1="730.0" y1="964.4" x2="752.0" y2="964.4" stroke="#000" stroke-width="2.8" />
<line x1="763.0" y1="963.0" x2="785.6" y2="963.0" stroke="#000" stroke-width="2.8" />
<line x1="819.0" y1="937.4" x2="840.6" y2="937.4" stroke="#000" stroke-width="2.8" />
<line x1="851.4" y1="949.4" x2="874.0" y2="949.4" stroke="#000" stroke-width="2.8" />
<text x="1058.39" y="820" font-size="24.15" font-weight="bold" fill="#8E2029">Beta-BA.1-binding</text>
<line x1="1036.6" y1="850.9" x2="1036.6" y2="1061.9" stroke="#000" stroke-width="3.0" />
<line x1="1023" y1="852.4" x2="1036.6" y2="852.4" stroke="#000" stroke-width="3.0" />
<line x1="1023" y1="904.6" x2="1036.6" y2="904.6" stroke="#000" stroke-width="3.0" />
<line x1="1023" y1="956.4" x2="1036.6" y2="956.4" stroke="#000" stroke-width="3.0" />
<line x1="1023" y1="1008" x2="1036.6" y2="1008" stroke="#000" stroke-width="3.0" />
<line x1="1029.1" y1="1060.4" x2="1044.1" y2="1060.4" stroke="#000" stroke-width="3.0" />
<line x1="1029.1" y1="1082.6" x2="1044.1" y2="1082.6" stroke="#000" stroke-width="3.0" />
<line x1="1036.6" y1="1081.1" x2="1036.6" y2="1106.9" stroke="#000" stroke-width="3.0" />
<line x1="1026.4" y1="1093.2" x2="1036.6" y2="1093.2" stroke="#000" stroke-width="3.6" />
<line x1="1035.3" y1="1105.4" x2="1289.6" y2="1105.4" stroke="#000" stroke-width="3.0" />
<line x1="1075" y1="1105.4" x2="1075" y2="1116.4" stroke="#000" stroke-width="3.0" />
<line x1="1163" y1="1105.4" x2="1163" y2="1116.4" stroke="#000" stroke-width="3.0" />
<line x1="1251" y1="1105.4" x2="1251" y2="1116.4" stroke="#000" stroke-width="3.0" />
<line x1="1041.2" y1="1093.2" x2="1286.5" y2="1093.2" stroke="#000" stroke-width="2.5" stroke-dasharray="0.01 5.02" stroke-linecap="round"/>
<text x="1007.1" y="858.6" font-size="18.8" font-weight="bold">1</text>
<text x="991.43" y="910.4" font-size="18.8" font-weight="bold">0.1</text>
<text x="980.97" y="962" font-size="18.8" font-weight="bold">0.01</text>
<text x="970.5" y="1014" font-size="18.8" font-weight="bold">0.001</text>
<text x="960.04" y="1066.6" font-size="18.8" font-weight="bold">0.0001</text>
<text x="949.4" y="1069.36" font-size="20.39" font-weight="bold" transform="rotate(-90 949.4 1069.36)">Freq. in B cells (%)</text>
<text x="1043.72" y="1136.6" font-size="19.22" font-weight="bold">Day 14</text>
<text x="1131.71" y="1136.6" font-size="19.36" font-weight="bold">Day 28</text>
<text x="1219.72" y="1136.6" font-size="19.17" font-weight="bold">Day 68</text>
<path d="M1055.4 928V870.6H1235V888.4" stroke="#000" stroke-width="1.5" fill="none" />
<text x="1145.6" y="869.4" font-size="25" font-weight="bold" text-anchor="middle" stroke="#000" stroke-width="0.3">*</text>
<path d="M1147.6 937V895.4H1236V900.4" stroke="#000" stroke-width="1.5" fill="none" />
<text x="1191.6" y="894.4" font-size="25" font-weight="bold" text-anchor="middle" stroke="#000" stroke-width="0.3">*</text>
<circle cx="1066.0" cy="942.0" r="3.55" fill="#E77775" stroke="#111" stroke-width="1.4"/>
<circle cx="1051.6" cy="945.6" r="3.55" fill="#E77775" stroke="#111" stroke-width="1.4"/>
<circle cx="1056.4" cy="950.0" r="3.55" fill="#E77775" stroke="#111" stroke-width="1.4"/>
<circle cx="1061.0" cy="956.0" r="3.55" fill="#E77775" stroke="#111" stroke-width="1.4"/>
<circle cx="1061.0" cy="968.0" r="3.55" fill="#E77775" stroke="#111" stroke-width="1.4"/>
<circle cx="1066.0" cy="972.6" r="3.55" fill="#E77775" stroke="#111" stroke-width="1.4"/>
<circle cx="1051.6" cy="975.0" r="3.55" fill="#E77775" stroke="#111" stroke-width="1.4"/>
<circle cx="1061.0" cy="976.6" r="3.55" fill="#E77775" stroke="#111" stroke-width="1.4"/>
<circle cx="1056.4" cy="990.0" r="3.55" fill="#E77775" stroke="#111" stroke-width="1.4"/>
<circle cx="1051.6" cy="995.0" r="3.55" fill="#E77775" stroke="#111" stroke-width="1.4"/>
<circle cx="1061.0" cy="996.0" r="3.55" fill="#E77775" stroke="#111" stroke-width="1.4"/>
<circle cx="1066.0" cy="995.0" r="3.55" fill="#E77775" stroke="#111" stroke-width="1.4"/>
<circle cx="1056.4" cy="1005.6" r="3.55" fill="#E77775" stroke="#111" stroke-width="1.4"/>
<circle cx="1061.0" cy="1010.0" r="3.55" fill="#E77775" stroke="#111" stroke-width="1.4"/>
<circle cx="1058.4" cy="1019.6" r="3.55" fill="#E77775" stroke="#111" stroke-width="1.4"/>
<circle cx="1051.0" cy="1093.4" r="3.55" fill="#E77775" stroke="#111" stroke-width="1.4"/>
<circle cx="1056.0" cy="1093.4" r="3.55" fill="#E77775" stroke="#111" stroke-width="1.4"/>
<circle cx="1061.0" cy="1093.4" r="3.55" fill="#E77775" stroke="#111" stroke-width="1.4"/>
<circle cx="1066.0" cy="1093.4" r="3.55" fill="#E77775" stroke="#111" stroke-width="1.4"/>
<circle cx="1091.4" cy="920.0" r="3.55" fill="#80CFD0" stroke="#111" stroke-width="1.4"/>
<circle cx="1091.4" cy="929.4" r="3.55" fill="#80CFD0" stroke="#111" stroke-width="1.4"/>
<circle cx="1091.4" cy="951.6" r="3.55" fill="#80CFD0" stroke="#111" stroke-width="1.4"/>
<circle cx="1089.0" cy="960.0" r="3.55" fill="#80CFD0" stroke="#111" stroke-width="1.4"/>
<circle cx="1094.0" cy="962.4" r="3.55" fill="#80CFD0" stroke="#111" stroke-width="1.4"/>
<circle cx="1089.0" cy="971.0" r="3.55" fill="#80CFD0" stroke="#111" stroke-width="1.4"/>
<circle cx="1099.0" cy="973.4" r="3.55" fill="#80CFD0" stroke="#111" stroke-width="1.4"/>
<circle cx="1084.0" cy="978.0" r="3.55" fill="#80CFD0" stroke="#111" stroke-width="1.4"/>
<circle cx="1094.0" cy="977.0" r="3.55" fill="#80CFD0" stroke="#111" stroke-width="1.4"/>
<circle cx="1089.0" cy="982.0" r="3.55" fill="#80CFD0" stroke="#111" stroke-width="1.4"/>
<circle cx="1099.0" cy="983.6" r="3.55" fill="#80CFD0" stroke="#111" stroke-width="1.4"/>
<circle cx="1084.0" cy="987.0" r="3.55" fill="#80CFD0" stroke="#111" stroke-width="1.4"/>
<circle cx="1089.0" cy="997.0" r="3.55" fill="#80CFD0" stroke="#111" stroke-width="1.4"/>
<circle cx="1094.0" cy="1004.0" r="3.55" fill="#80CFD0" stroke="#111" stroke-width="1.4"/>
<circle cx="1089.0" cy="1009.0" r="3.55" fill="#80CFD0" stroke="#111" stroke-width="1.4"/>
<circle cx="1091.4" cy="1018.4" r="3.55" fill="#80CFD0" stroke="#111" stroke-width="1.4"/>
<circle cx="1087.0" cy="1093.4" r="3.55" fill="#80CFD0" stroke="#111" stroke-width="1.4"/>
<circle cx="1092.0" cy="1093.4" r="3.55" fill="#80CFD0" stroke="#111" stroke-width="1.4"/>
<circle cx="1096.6" cy="1093.4" r="3.55" fill="#80CFD0" stroke="#111" stroke-width="1.4"/>
<circle cx="1149.0" cy="948.0" r="3.55" fill="#E77775" stroke="#111" stroke-width="1.4"/>
<circle cx="1154.0" cy="952.0" r="3.55" fill="#E77775" stroke="#111" stroke-width="1.4"/>
<circle cx="1144.0" cy="959.4" r="3.55" fill="#E77775" stroke="#111" stroke-width="1.4"/>
<circle cx="1149.0" cy="960.0" r="3.55" fill="#E77775" stroke="#111" stroke-width="1.4"/>
<circle cx="1149.0" cy="968.6" r="3.55" fill="#E77775" stroke="#111" stroke-width="1.4"/>
<circle cx="1144.0" cy="972.0" r="3.55" fill="#E77775" stroke="#111" stroke-width="1.4"/>
<circle cx="1154.0" cy="974.0" r="3.55" fill="#E77775" stroke="#111" stroke-width="1.4"/>
<circle cx="1149.0" cy="978.0" r="3.55" fill="#E77775" stroke="#111" stroke-width="1.4"/>
<circle cx="1144.0" cy="981.6" r="3.55" fill="#E77775" stroke="#111" stroke-width="1.4"/>
<circle cx="1154.0" cy="991.0" r="3.55" fill="#E77775" stroke="#111" stroke-width="1.4"/>
<circle cx="1139.0" cy="994.0" r="3.55" fill="#E77775" stroke="#111" stroke-width="1.4"/>
<circle cx="1149.0" cy="995.0" r="3.55" fill="#E77775" stroke="#111" stroke-width="1.4"/>
<circle cx="1144.0" cy="998.0" r="3.55" fill="#E77775" stroke="#111" stroke-width="1.4"/>
<circle cx="1149.0" cy="1006.4" r="3.55" fill="#E77775" stroke="#111" stroke-width="1.4"/>
<circle cx="1144.0" cy="1010.0" r="3.55" fill="#E77775" stroke="#111" stroke-width="1.4"/>
<circle cx="1139.0" cy="1093.4" r="3.55" fill="#E77775" stroke="#111" stroke-width="1.4"/>
<circle cx="1144.0" cy="1093.4" r="3.55" fill="#E77775" stroke="#111" stroke-width="1.4"/>
<circle cx="1149.0" cy="1093.4" r="3.55" fill="#E77775" stroke="#111" stroke-width="1.4"/>
<circle cx="1154.0" cy="1093.4" r="3.55" fill="#E77775" stroke="#111" stroke-width="1.4"/>
<circle cx="1179.4" cy="932.6" r="3.55" fill="#80CFD0" stroke="#111" stroke-width="1.4"/>
<circle cx="1179.4" cy="947.4" r="3.55" fill="#80CFD0" stroke="#111" stroke-width="1.4"/>
<circle cx="1182.0" cy="956.0" r="3.55" fill="#80CFD0" stroke="#111" stroke-width="1.4"/>
<circle cx="1177.0" cy="962.0" r="3.55" fill="#80CFD0" stroke="#111" stroke-width="1.4"/>
<circle cx="1182.0" cy="967.4" r="3.55" fill="#80CFD0" stroke="#111" stroke-width="1.4"/>
<circle cx="1172.0" cy="971.0" r="3.55" fill="#80CFD0" stroke="#111" stroke-width="1.4"/>
<circle cx="1187.0" cy="976.0" r="3.55" fill="#80CFD0" stroke="#111" stroke-width="1.4"/>
<circle cx="1177.0" cy="978.0" r="3.55" fill="#80CFD0" stroke="#111" stroke-width="1.4"/>
<circle cx="1182.0" cy="979.0" r="3.55" fill="#80CFD0" stroke="#111" stroke-width="1.4"/>
<circle cx="1172.0" cy="979.0" r="3.55" fill="#80CFD0" stroke="#111" stroke-width="1.4"/>
<circle cx="1177.0" cy="986.0" r="3.55" fill="#80CFD0" stroke="#111" stroke-width="1.4"/>
<circle cx="1182.0" cy="986.4" r="3.55" fill="#80CFD0" stroke="#111" stroke-width="1.4"/>
<circle cx="1177.0" cy="1000.0" r="3.55" fill="#80CFD0" stroke="#111" stroke-width="1.4"/>
<circle cx="1182.0" cy="1001.0" r="3.55" fill="#80CFD0" stroke="#111" stroke-width="1.4"/>
<circle cx="1177.0" cy="1008.0" r="3.55" fill="#80CFD0" stroke="#111" stroke-width="1.4"/>
<circle cx="1182.0" cy="1015.0" r="3.55" fill="#80CFD0" stroke="#111" stroke-width="1.4"/>
<circle cx="1174.6" cy="1093.4" r="3.55" fill="#80CFD0" stroke="#111" stroke-width="1.4"/>
<circle cx="1179.4" cy="1093.4" r="3.55" fill="#80CFD0" stroke="#111" stroke-width="1.4"/>
<circle cx="1184.4" cy="1093.4" r="3.55" fill="#80CFD0" stroke="#111" stroke-width="1.4"/>
<circle cx="1234.4" cy="926.4" r="3.55" fill="#E77775" stroke="#111" stroke-width="1.4"/>
<circle cx="1242.0" cy="929.0" r="3.55" fill="#E77775" stroke="#111" stroke-width="1.4"/>
<circle cx="1227.0" cy="932.6" r="3.55" fill="#E77775" stroke="#111" stroke-width="1.4"/>
<circle cx="1232.0" cy="931.6" r="3.55" fill="#E77775" stroke="#111" stroke-width="1.4"/>
<circle cx="1239.4" cy="935.0" r="3.55" fill="#E77775" stroke="#111" stroke-width="1.4"/>
<circle cx="1234.4" cy="937.0" r="3.55" fill="#E77775" stroke="#111" stroke-width="1.4"/>
<circle cx="1229.6" cy="939.6" r="3.55" fill="#E77775" stroke="#111" stroke-width="1.4"/>
<circle cx="1234.4" cy="947.0" r="3.55" fill="#E77775" stroke="#111" stroke-width="1.4"/>
<circle cx="1234.4" cy="958.0" r="3.55" fill="#E77775" stroke="#111" stroke-width="1.4"/>
<circle cx="1229.6" cy="966.6" r="3.55" fill="#E77775" stroke="#111" stroke-width="1.4"/>
<circle cx="1239.4" cy="967.4" r="3.55" fill="#E77775" stroke="#111" stroke-width="1.4"/>
<circle cx="1234.4" cy="971.0" r="3.55" fill="#E77775" stroke="#111" stroke-width="1.4"/>
<circle cx="1234.4" cy="995.4" r="3.55" fill="#E77775" stroke="#111" stroke-width="1.4"/>
<circle cx="1229.6" cy="1000.4" r="3.55" fill="#E77775" stroke="#111" stroke-width="1.4"/>
<circle cx="1239.4" cy="998.0" r="3.55" fill="#E77775" stroke="#111" stroke-width="1.4"/>
<circle cx="1234.4" cy="1019.4" r="3.55" fill="#E77775" stroke="#111" stroke-width="1.4"/>
<circle cx="1234.4" cy="1093.4" r="3.55" fill="#E77775" stroke="#111" stroke-width="1.4"/>
<circle cx="1260.0" cy="913.4" r="3.55" fill="#80CFD0" stroke="#111" stroke-width="1.4"/>
<circle cx="1275.0" cy="914.4" r="3.55" fill="#80CFD0" stroke="#111" stroke-width="1.4"/>
<circle cx="1270.0" cy="921.0" r="3.55" fill="#80CFD0" stroke="#111" stroke-width="1.4"/>
<circle cx="1260.0" cy="923.4" r="3.55" fill="#80CFD0" stroke="#111" stroke-width="1.4"/>
<circle cx="1275.0" cy="926.0" r="3.55" fill="#80CFD0" stroke="#111" stroke-width="1.4"/>
<circle cx="1265.0" cy="928.4" r="3.55" fill="#80CFD0" stroke="#111" stroke-width="1.4"/>
<circle cx="1270.0" cy="928.4" r="3.55" fill="#80CFD0" stroke="#111" stroke-width="1.4"/>
<circle cx="1270.0" cy="951.0" r="3.55" fill="#80CFD0" stroke="#111" stroke-width="1.4"/>
<circle cx="1275.0" cy="951.0" r="3.55" fill="#80CFD0" stroke="#111" stroke-width="1.4"/>
<circle cx="1265.0" cy="956.4" r="3.55" fill="#80CFD0" stroke="#111" stroke-width="1.4"/>
<circle cx="1267.4" cy="966.0" r="3.55" fill="#80CFD0" stroke="#111" stroke-width="1.4"/>
<circle cx="1260.0" cy="978.6" r="3.55" fill="#80CFD0" stroke="#111" stroke-width="1.4"/>
<circle cx="1265.0" cy="980.2" r="3.55" fill="#80CFD0" stroke="#111" stroke-width="1.4"/>
<circle cx="1270.0" cy="983.2" r="3.55" fill="#80CFD0" stroke="#111" stroke-width="1.4"/>
<circle cx="1265.0" cy="1007.0" r="3.55" fill="#80CFD0" stroke="#111" stroke-width="1.4"/>
<circle cx="1270.0" cy="1006.8" r="3.55" fill="#80CFD0" stroke="#111" stroke-width="1.4"/>
<circle cx="1267.4" cy="1023.0" r="3.55" fill="#80CFD0" stroke="#111" stroke-width="1.4"/>
<circle cx="1265.0" cy="1093.4" r="3.55" fill="#80CFD0" stroke="#111" stroke-width="1.4"/>
<circle cx="1269.6" cy="1093.4" r="3.55" fill="#80CFD0" stroke="#111" stroke-width="1.4"/>
<line x1="1047.6" y1="995.0" x2="1069.6" y2="995.0" stroke="#000" stroke-width="2.8" />
<line x1="1080.6" y1="980.0" x2="1102.4" y2="980.0" stroke="#000" stroke-width="2.8" />
<line x1="1136.0" y1="991.6" x2="1157.6" y2="991.6" stroke="#000" stroke-width="2.8" />
<line x1="1168.4" y1="978.4" x2="1190.4" y2="978.4" stroke="#000" stroke-width="2.8" />
<line x1="1223.6" y1="947.0" x2="1245.6" y2="947.0" stroke="#000" stroke-width="2.8" />
<line x1="1256.6" y1="957.0" x2="1278.6" y2="957.0" stroke="#000" stroke-width="2.8" />
<circle cx="1360.8" cy="869.8" r="4.0" fill="#E77775" stroke="#111" stroke-width="1.4"/>
<circle cx="1360.8" cy="905.5" r="4.0" fill="#80CFD0" stroke="#111" stroke-width="1.4"/>
<text x="1388.77" y="877.2" font-size="20.81">BNT162b2</text>
<text x="1389.04" y="912.8" font-size="20.64">S-268019-b</text>
</svg>
</body>
</html>
